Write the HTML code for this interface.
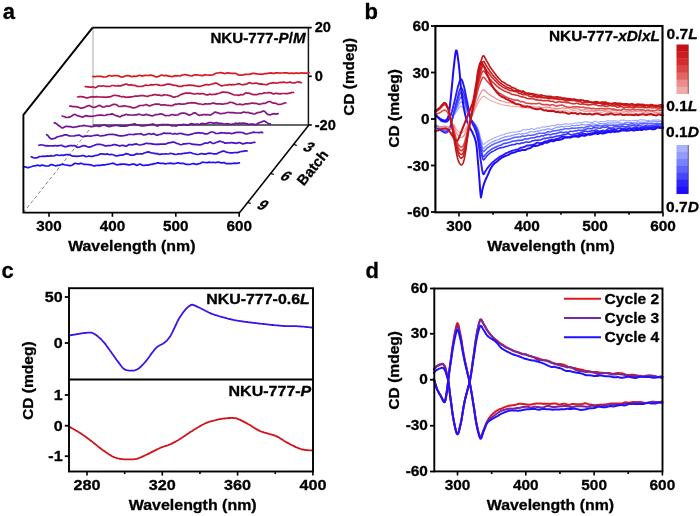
<!DOCTYPE html>
<html><head><meta charset="utf-8"><title>Figure</title>
<style>
html,body{margin:0;padding:0;background:#fff;}
body{width:700px;height:516px;overflow:hidden;}
svg{display:block;will-change:transform;}
svg text{font-family:'Liberation Sans',sans-serif;font-weight:bold;fill:#000;stroke:#000;stroke-width:0.3px;}
</style></head>
<body>
<svg width="700" height="516" viewBox="0 0 700 516">
<rect x="0" y="0" width="700" height="516" fill="#fff"/>
<text transform="translate(2.7,18.8) scale(0.97,1)" font-size="22.7" text-anchor="start" >a</text>
<line x1="93" y1="27.6" x2="93" y2="125" stroke="#c2c2c2" stroke-width="1.4" />
<line x1="93" y1="125" x2="308.7" y2="125" stroke="#333" stroke-width="1.4" />
<line x1="308.4" y1="27" x2="308.4" y2="125" stroke="#161616" stroke-width="1.5" />
<line x1="23.4" y1="212.6" x2="93" y2="125" stroke="#777" stroke-width="0.9" stroke-dasharray="3.5,2.5"/>
<path d="M93.0,76.4 L94.0,76.7 L95.0,76.7 L96.0,76.5 L97.0,76.3 L98.0,76.4 L99.0,76.4 L100.0,76.3 L101.0,76.3 L102.0,76.6 L103.0,76.8 L104.0,77.0 L105.0,77.0 L106.0,76.9 L107.0,76.5 L108.0,75.9 L109.0,75.5 L110.0,75.6 L111.0,75.9 L112.0,76.1 L113.0,75.8 L114.0,75.5 L115.0,75.6 L116.0,75.7 L117.0,75.6 L118.0,75.7 L119.0,76.1 L120.0,76.5 L121.0,76.9 L122.0,77.1 L123.0,77.0 L124.0,76.5 L125.0,76.0 L126.0,75.8 L127.0,75.7 L128.0,75.7 L129.0,75.7 L130.0,76.1 L131.0,76.6 L132.0,76.6 L133.0,76.3 L134.0,76.1 L135.0,76.3 L136.0,76.3 L137.0,76.1 L138.0,75.7 L139.0,75.4 L140.0,75.4 L141.0,75.8 L142.0,75.9 L143.0,75.9 L144.0,75.7 L145.0,75.4 L146.0,75.4 L147.0,75.5 L148.0,75.5 L149.0,75.3 L150.0,75.2 L151.0,75.2 L152.0,75.4 L153.0,75.6 L154.0,75.9 L155.0,76.5 L156.0,76.9 L157.0,76.8 L158.0,76.7 L159.0,76.3 L160.0,75.7 L161.0,75.2 L162.0,75.1 L163.0,75.4 L164.0,75.6 L165.0,75.6 L166.0,75.4 L167.0,75.6 L168.0,76.1 L169.0,76.1 L170.0,76.2 L171.0,76.6 L172.0,76.7 L173.0,76.4 L174.0,75.9 L175.0,75.7 L176.0,75.8 L177.0,75.7 L178.0,75.8 L179.0,76.0 L180.0,76.0 L181.0,75.6 L182.0,75.2 L183.0,75.0 L184.0,74.7 L185.0,74.6 L186.0,74.8 L187.0,75.0 L188.0,75.2 L189.0,75.4 L190.0,75.7 L191.0,76.0 L192.0,76.0 L193.0,75.5 L194.0,75.0 L195.0,74.9 L196.0,74.8 L197.0,74.8 L198.0,75.0 L199.0,75.2 L200.0,75.3 L201.0,75.4 L202.0,75.7 L203.0,75.6 L204.0,75.0 L205.0,74.7 L206.0,74.9 L207.0,75.0 L208.0,75.0 L209.0,75.1 L210.0,75.2 L211.0,75.1 L212.0,75.0 L213.0,74.8 L214.0,74.2 L215.0,73.7 L216.0,73.3 L217.0,73.0 L218.0,73.0 L219.0,72.9 L220.0,72.6 L221.0,72.6 L222.0,72.8 L223.0,73.1 L224.0,73.4 L225.0,73.6 L226.0,73.2 L227.0,72.8 L228.0,72.8 L229.0,73.1 L230.0,73.2 L231.0,73.3 L232.0,73.3 L233.0,73.3 L234.0,73.4 L235.0,73.4 L236.0,73.5 L237.0,74.1 L238.0,74.7 L239.0,75.1 L240.0,75.2 L241.0,75.1 L242.0,75.1 L243.0,75.0 L244.0,74.6 L245.0,74.4 L246.0,74.3 L247.0,74.4 L248.0,74.4 L249.0,74.3 L250.0,74.2 L251.0,73.9 L252.0,73.6 L253.0,73.4 L254.0,73.4 L255.0,73.6 L256.0,73.7 L257.0,73.8 L258.0,74.0 L259.0,74.1 L260.0,74.0 L261.0,74.1 L262.0,74.3 L263.0,74.2 L264.0,73.8 L265.0,73.5 L266.0,73.6 L267.0,73.6 L268.0,73.3 L269.0,73.1 L270.0,73.1 L271.0,72.9 L272.0,73.1 L273.0,73.3 L274.0,73.3 L275.0,73.1 L276.0,72.9 L277.0,72.8 L278.0,72.8 L279.0,73.0 L280.0,73.1 L281.0,73.0 L282.0,73.0 L283.0,73.0 L284.0,72.9 L285.0,72.8 L286.0,72.8 L287.0,72.9 L288.0,73.2 L289.0,73.4 L290.0,73.3 L291.0,73.1 L292.0,73.1 L293.0,73.3 L294.0,73.4 L295.0,73.1 L296.0,73.0 L297.0,73.1 L298.0,73.2 L299.0,73.3 L300.0,73.1 L301.0,72.8 L302.0,72.9 L303.0,73.2 L304.0,73.2 L305.0,73.1 L306.0,73.0 L307.0,73.2 L308.0,73.0 L309.0,72.5" fill="none" stroke="rgb(214,26,32)" stroke-width="1.7" stroke-linejoin="round" stroke-linecap="round"/>
<path d="M85.3,86.6 L86.3,86.7 L87.3,86.8 L88.3,86.9 L89.3,87.1 L90.3,87.1 L91.3,87.1 L92.3,86.9 L93.3,87.0 L94.3,87.4 L95.3,87.6 L96.3,87.2 L97.3,86.7 L98.3,86.1 L99.3,85.8 L100.3,86.0 L101.3,86.2 L102.3,86.0 L103.3,85.9 L104.3,86.0 L105.3,86.3 L106.3,86.4 L107.3,86.3 L108.3,86.3 L109.3,86.5 L110.3,86.2 L111.3,85.8 L112.3,85.5 L113.3,85.5 L114.3,85.7 L115.3,85.8 L116.3,86.0 L117.3,85.9 L118.3,85.7 L119.3,85.8 L120.3,85.9 L121.3,85.8 L122.3,85.3 L123.3,84.8 L124.3,84.6 L125.3,84.2 L126.3,84.0 L127.3,84.4 L128.3,84.9 L129.3,85.1 L130.3,84.8 L131.3,84.7 L132.3,85.2 L133.3,85.3 L134.3,85.3 L135.3,85.4 L136.3,85.9 L137.3,86.4 L138.3,86.5 L139.3,86.4 L140.3,86.5 L141.3,86.5 L142.3,86.2 L143.3,85.9 L144.3,85.6 L145.3,85.2 L146.3,85.1 L147.3,85.3 L148.3,85.5 L149.3,85.2 L150.3,84.8 L151.3,84.7 L152.3,84.8 L153.3,84.8 L154.3,84.7 L155.3,84.5 L156.3,84.5 L157.3,84.7 L158.3,84.9 L159.3,85.1 L160.3,85.4 L161.3,85.5 L162.3,85.4 L163.3,85.2 L164.3,85.1 L165.3,84.7 L166.3,84.3 L167.3,84.1 L168.3,84.1 L169.3,84.2 L170.3,84.3 L171.3,84.6 L172.3,84.9 L173.3,85.2 L174.3,85.3 L175.3,85.3 L176.3,85.5 L177.3,85.9 L178.3,86.3 L179.3,86.4 L180.3,86.4 L181.3,86.4 L182.3,86.1 L183.3,85.7 L184.3,85.5 L185.3,85.5 L186.3,85.6 L187.3,85.4 L188.3,85.2 L189.3,85.1 L190.3,85.2 L191.3,85.3 L192.3,85.3 L193.3,85.3 L194.3,85.6 L195.3,85.9 L196.3,86.0 L197.3,86.1 L198.3,86.3 L199.3,86.4 L200.3,86.3 L201.3,86.0 L202.3,85.7 L203.3,85.4 L204.3,85.1 L205.3,84.7 L206.3,84.5 L207.3,84.7 L208.3,84.9 L209.3,84.8 L210.3,84.5 L211.3,84.2 L212.3,84.0 L213.3,83.8 L214.3,83.4 L215.3,83.1 L216.3,83.1 L217.3,83.6 L218.3,84.2 L219.3,84.6 L220.3,85.3 L221.3,85.8 L222.3,85.8 L223.3,85.5 L224.3,85.3 L225.3,85.0 L226.3,85.0 L227.3,85.1 L228.3,84.8 L229.3,84.5 L230.3,84.6 L231.3,84.9 L232.3,84.7 L233.3,84.7 L234.3,84.8 L235.3,84.5 L236.3,84.3 L237.3,84.0 L238.3,83.7 L239.3,83.9 L240.3,84.2 L241.3,84.5 L242.3,84.8 L243.3,84.7 L244.3,84.4 L245.3,84.3 L246.3,84.1 L247.3,83.7 L248.3,83.1 L249.3,82.7 L250.3,82.8 L251.3,83.3 L252.3,83.5 L253.3,83.5 L254.3,83.3 L255.3,83.2 L256.3,83.2 L257.3,83.3 L258.3,83.7 L259.3,84.1 L260.3,84.1 L261.3,83.9 L262.3,84.1 L263.3,84.4 L264.3,84.5 L265.3,84.6 L266.3,84.7 L267.3,84.6 L268.3,84.0 L269.3,83.5 L270.3,83.2 L271.3,83.1 L272.3,82.9 L273.3,82.6 L274.3,82.8 L275.3,83.0 L276.3,83.1 L277.3,83.0 L278.3,82.9 L279.3,82.5 L280.3,82.4 L281.3,82.6 L282.3,82.4 L283.3,82.2 L284.3,82.2 L285.3,82.5 L286.3,82.7 L287.3,82.7 L288.3,82.5 L289.3,82.2 L290.3,82.1 L291.3,82.5 L292.3,83.0 L293.3,83.0 L294.3,82.8 L295.3,82.6 L296.3,82.3 L297.3,82.0 L298.3,81.9 L299.3,82.1 L300.3,82.4 L301.3,82.7" fill="none" stroke="rgb(194,25,57)" stroke-width="1.7" stroke-linejoin="round" stroke-linecap="round"/>
<path d="M77.5,97.0 L78.5,96.9 L79.5,96.7 L80.5,96.6 L81.5,96.7 L82.5,96.9 L83.5,96.9 L84.5,97.3 L85.5,97.7 L86.5,97.9 L87.5,97.8 L88.5,97.6 L89.5,97.2 L90.5,97.1 L91.5,96.9 L92.5,96.7 L93.5,96.9 L94.5,97.1 L95.5,96.9 L96.5,96.7 L97.5,96.9 L98.5,97.0 L99.5,96.9 L100.5,97.0 L101.5,97.0 L102.5,97.1 L103.5,97.2 L104.5,97.2 L105.5,97.3 L106.5,97.2 L107.5,97.1 L108.5,96.9 L109.5,96.9 L110.5,96.8 L111.5,96.4 L112.5,95.8 L113.5,95.5 L114.5,95.4 L115.5,95.4 L116.5,95.5 L117.5,95.7 L118.5,95.8 L119.5,96.1 L120.5,96.5 L121.5,96.8 L122.5,96.7 L123.5,96.7 L124.5,96.9 L125.5,97.2 L126.5,97.3 L127.5,97.2 L128.5,97.2 L129.5,97.1 L130.5,96.9 L131.5,96.9 L132.5,96.8 L133.5,96.5 L134.5,96.2 L135.5,96.0 L136.5,96.1 L137.5,96.1 L138.5,96.0 L139.5,95.8 L140.5,95.7 L141.5,95.7 L142.5,95.7 L143.5,95.7 L144.5,95.9 L145.5,96.0 L146.5,96.3 L147.5,96.4 L148.5,96.1 L149.5,95.6 L150.5,95.5 L151.5,95.4 L152.5,95.1 L153.5,94.9 L154.5,94.7 L155.5,94.6 L156.5,94.8 L157.5,95.2 L158.5,95.2 L159.5,95.1 L160.5,95.4 L161.5,95.6 L162.5,95.4 L163.5,94.9 L164.5,94.8 L165.5,95.0 L166.5,95.0 L167.5,95.1 L168.5,95.4 L169.5,95.6 L170.5,95.8 L171.5,96.2 L172.5,96.9 L173.5,97.2 L174.5,97.1 L175.5,96.8 L176.5,96.5 L177.5,96.4 L178.5,95.9 L179.5,95.2 L180.5,94.8 L181.5,94.4 L182.5,93.9 L183.5,93.6 L184.5,93.4 L185.5,93.1 L186.5,93.1 L187.5,93.2 L188.5,93.2 L189.5,93.1 L190.5,93.2 L191.5,93.4 L192.5,93.7 L193.5,93.9 L194.5,94.0 L195.5,94.0 L196.5,93.7 L197.5,93.6 L198.5,93.7 L199.5,93.8 L200.5,93.8 L201.5,93.6 L202.5,93.5 L203.5,93.7 L204.5,94.0 L205.5,94.6 L206.5,94.8 L207.5,94.9 L208.5,94.7 L209.5,94.2 L210.5,94.2 L211.5,94.6 L212.5,94.5 L213.5,94.4 L214.5,94.4 L215.5,94.3 L216.5,93.9 L217.5,93.7 L218.5,93.5 L219.5,93.2 L220.5,92.8 L221.5,92.4 L222.5,92.1 L223.5,92.1 L224.5,92.2 L225.5,92.3 L226.5,92.3 L227.5,92.4 L228.5,92.7 L229.5,93.1 L230.5,93.4 L231.5,93.7 L232.5,94.2 L233.5,94.7 L234.5,95.0 L235.5,95.0 L236.5,95.0 L237.5,95.2 L238.5,95.4 L239.5,95.1 L240.5,94.7 L241.5,94.7 L242.5,94.8 L243.5,94.5 L244.5,93.7 L245.5,93.0 L246.5,92.9 L247.5,93.1 L248.5,93.2 L249.5,93.3 L250.5,93.6 L251.5,94.0 L252.5,94.5 L253.5,94.7 L254.5,94.7 L255.5,94.6 L256.5,94.6 L257.5,94.4 L258.5,94.0 L259.5,93.7 L260.5,93.7 L261.5,93.8 L262.5,93.5 L263.5,93.1 L264.5,92.9 L265.5,93.0 L266.5,93.0 L267.5,92.9 L268.5,92.6 L269.5,92.6 L270.5,92.8 L271.5,93.1 L272.5,93.6 L273.5,93.9 L274.5,93.7 L275.5,93.4 L276.5,93.4 L277.5,93.6 L278.5,93.7 L279.5,93.9 L280.5,93.9 L281.5,93.7 L282.5,93.5 L283.5,93.5 L284.5,93.5 L285.5,93.6 L286.5,93.7 L287.5,93.6 L288.5,93.4 L289.5,93.2 L290.5,92.9 L291.5,92.7 L292.5,92.5 L293.5,92.4" fill="none" stroke="rgb(173,23,82)" stroke-width="1.7" stroke-linejoin="round" stroke-linecap="round"/>
<path d="M69.8,106.2 L70.8,106.1 L71.8,106.4 L72.8,106.7 L73.8,106.6 L74.8,106.6 L75.8,106.7 L76.8,106.8 L77.8,107.2 L78.8,107.4 L79.8,107.7 L80.8,108.1 L81.8,108.2 L82.8,107.9 L83.8,107.7 L84.8,107.2 L85.8,106.7 L86.8,106.3 L87.8,105.9 L88.8,105.6 L89.8,105.7 L90.8,106.2 L91.8,106.7 L92.8,107.1 L93.8,107.4 L94.8,107.2 L95.8,106.9 L96.8,106.5 L97.8,106.1 L98.8,105.6 L99.8,105.4 L100.8,105.9 L101.8,106.6 L102.8,107.0 L103.8,107.1 L104.8,106.8 L105.8,106.3 L106.8,106.1 L107.8,106.1 L108.8,106.2 L109.8,106.0 L110.8,105.5 L111.8,105.1 L112.8,104.6 L113.8,104.4 L114.8,104.4 L115.8,104.5 L116.8,104.9 L117.8,105.7 L118.8,106.4 L119.8,106.5 L120.8,106.4 L121.8,106.3 L122.8,106.1 L123.8,105.9 L124.8,105.8 L125.8,106.0 L126.8,106.3 L127.8,106.6 L128.8,106.7 L129.8,106.8 L130.8,107.1 L131.8,107.6 L132.8,107.9 L133.8,107.9 L134.8,107.7 L135.8,107.4 L136.8,107.0 L137.8,106.5 L138.8,105.9 L139.8,105.6 L140.8,105.5 L141.8,105.5 L142.8,105.4 L143.8,105.3 L144.8,105.0 L145.8,104.6 L146.8,104.7 L147.8,105.2 L148.8,105.7 L149.8,105.8 L150.8,105.6 L151.8,105.1 L152.8,104.8 L153.8,104.5 L154.8,104.2 L155.8,104.1 L156.8,104.1 L157.8,104.0 L158.8,104.1 L159.8,104.6 L160.8,105.1 L161.8,105.1 L162.8,104.8 L163.8,104.8 L164.8,104.8 L165.8,105.0 L166.8,105.3 L167.8,105.4 L168.8,105.4 L169.8,105.5 L170.8,105.7 L171.8,105.7 L172.8,105.4 L173.8,104.8 L174.8,104.3 L175.8,104.2 L176.8,104.3 L177.8,104.0 L178.8,103.7 L179.8,103.8 L180.8,104.1 L181.8,104.1 L182.8,104.1 L183.8,104.2 L184.8,104.0 L185.8,103.7 L186.8,103.4 L187.8,103.1 L188.8,103.1 L189.8,103.0 L190.8,102.8 L191.8,102.7 L192.8,102.9 L193.8,102.8 L194.8,102.9 L195.8,103.1 L196.8,103.4 L197.8,103.7 L198.8,103.9 L199.8,104.0 L200.8,104.0 L201.8,104.3 L202.8,104.5 L203.8,104.3 L204.8,103.9 L205.8,103.8 L206.8,103.9 L207.8,104.0 L208.8,103.9 L209.8,103.9 L210.8,103.7 L211.8,103.4 L212.8,103.1 L213.8,103.1 L214.8,103.4 L215.8,103.8 L216.8,103.9 L217.8,103.9 L218.8,103.9 L219.8,103.9 L220.8,103.9 L221.8,104.2 L222.8,104.2 L223.8,104.0 L224.8,103.7 L225.8,103.6 L226.8,103.5 L227.8,103.3 L228.8,102.8 L229.8,102.4 L230.8,102.4 L231.8,102.5 L232.8,102.7 L233.8,103.1 L234.8,103.6 L235.8,104.1 L236.8,104.4 L237.8,104.5 L238.8,104.4 L239.8,104.2 L240.8,104.4 L241.8,104.6 L242.8,104.7 L243.8,104.5 L244.8,104.0 L245.8,103.8 L246.8,103.8 L247.8,103.8 L248.8,103.7 L249.8,103.6 L250.8,103.3 L251.8,103.1 L252.8,103.2 L253.8,103.3 L254.8,103.4 L255.8,103.3 L256.8,103.5 L257.8,103.9 L258.8,104.2 L259.8,104.3 L260.8,104.0 L261.8,103.7 L262.8,103.4 L263.8,103.3 L264.8,103.3 L265.8,103.1 L266.8,102.6 L267.8,102.0 L268.8,101.5 L269.8,101.5 L270.8,101.9 L271.8,102.4 L272.8,103.0 L273.8,103.2 L274.8,103.2 L275.8,103.4 L276.8,103.8 L277.8,104.3 L278.8,104.5 L279.8,104.4 L280.8,104.3 L281.8,104.0 L282.8,103.6 L283.8,103.2 L284.8,103.0 L285.8,102.8" fill="none" stroke="rgb(153,22,106)" stroke-width="1.7" stroke-linejoin="round" stroke-linecap="round"/>
<path d="M62.1,116.0 L63.1,116.3 L64.1,116.5 L65.1,116.9 L66.1,117.4 L67.1,117.5 L68.1,117.4 L69.1,117.1 L70.1,116.9 L71.1,116.4 L72.1,115.7 L73.1,115.0 L74.1,114.5 L75.1,114.4 L76.1,114.9 L77.1,115.4 L78.1,115.9 L79.1,116.2 L80.1,116.4 L81.1,116.8 L82.1,117.1 L83.1,116.9 L84.1,116.4 L85.1,115.9 L86.1,115.6 L87.1,115.8 L88.1,116.1 L89.1,116.3 L90.1,116.2 L91.1,116.3 L92.1,116.3 L93.1,116.2 L94.1,116.0 L95.1,115.8 L96.1,115.5 L97.1,115.4 L98.1,115.4 L99.1,115.2 L100.1,115.2 L101.1,115.2 L102.1,115.1 L103.1,115.4 L104.1,115.5 L105.1,115.3 L106.1,115.0 L107.1,114.6 L108.1,114.6 L109.1,114.5 L110.1,114.4 L111.1,114.1 L112.1,113.9 L113.1,114.3 L114.1,114.8 L115.1,115.2 L116.1,115.6 L117.1,115.9 L118.1,116.3 L119.1,116.7 L120.1,116.8 L121.1,116.2 L122.1,115.6 L123.1,115.4 L124.1,115.3 L125.1,114.7 L126.1,114.3 L127.1,114.7 L128.1,114.9 L129.1,114.9 L130.1,115.0 L131.1,115.0 L132.1,115.0 L133.1,115.1 L134.1,115.0 L135.1,114.9 L136.1,114.8 L137.1,114.6 L138.1,114.4 L139.1,114.2 L140.1,114.5 L141.1,114.8 L142.1,115.0 L143.1,115.2 L144.1,115.1 L145.1,114.7 L146.1,114.4 L147.1,114.6 L148.1,114.9 L149.1,115.1 L150.1,115.4 L151.1,115.7 L152.1,115.8 L153.1,115.6 L154.1,115.2 L155.1,114.7 L156.1,114.5 L157.1,114.6 L158.1,114.5 L159.1,114.2 L160.1,113.9 L161.1,113.9 L162.1,114.1 L163.1,114.4 L164.1,114.9 L165.1,115.6 L166.1,115.6 L167.1,115.5 L168.1,115.5 L169.1,115.6 L170.1,115.3 L171.1,114.8 L172.1,114.5 L173.1,114.6 L174.1,115.0 L175.1,115.2 L176.1,115.1 L177.1,115.0 L178.1,114.8 L179.1,114.1 L180.1,113.6 L181.1,113.4 L182.1,113.2 L183.1,113.1 L184.1,113.2 L185.1,113.4 L186.1,113.6 L187.1,114.0 L188.1,114.7 L189.1,115.1 L190.1,114.9 L191.1,114.4 L192.1,113.9 L193.1,113.3 L194.1,112.9 L195.1,112.8 L196.1,113.4 L197.1,114.2 L198.1,114.9 L199.1,115.3 L200.1,115.3 L201.1,115.0 L202.1,114.8 L203.1,114.6 L204.1,114.6 L205.1,114.7 L206.1,114.9 L207.1,114.7 L208.1,114.7 L209.1,115.0 L210.1,115.1 L211.1,114.7 L212.1,114.1 L213.1,113.4 L214.1,112.6 L215.1,112.1 L216.1,112.3 L217.1,112.6 L218.1,112.9 L219.1,113.2 L220.1,113.6 L221.1,113.7 L222.1,113.5 L223.1,113.4 L224.1,113.3 L225.1,113.1 L226.1,112.8 L227.1,112.5 L228.1,112.4 L229.1,112.5 L230.1,112.7 L231.1,112.7 L232.1,112.7 L233.1,112.7 L234.1,112.8 L235.1,112.9 L236.1,113.0 L237.1,113.1 L238.1,113.0 L239.1,113.0 L240.1,113.2 L241.1,113.0 L242.1,112.6 L243.1,112.2 L244.1,112.0 L245.1,112.3 L246.1,112.6 L247.1,112.5 L248.1,112.4 L249.1,112.7 L250.1,113.2 L251.1,113.3 L252.1,113.4 L253.1,113.8 L254.1,114.0 L255.1,113.8 L256.1,113.3 L257.1,112.9 L258.1,112.5 L259.1,112.4 L260.1,112.4 L261.1,112.0 L262.1,111.4 L263.1,111.1 L264.1,111.2 L265.1,111.8 L266.1,112.9 L267.1,114.1 L268.1,114.6 L269.1,114.7 L270.1,114.8 L271.1,114.6 L272.1,114.1 L273.1,113.8 L274.1,113.7 L275.1,113.9 L276.1,114.1 L277.1,113.8 L278.1,113.6" fill="none" stroke="rgb(132,21,131)" stroke-width="1.7" stroke-linejoin="round" stroke-linecap="round"/>
<path d="M54.3,122.9 L55.3,123.1 L56.3,123.6 L57.3,124.4 L58.3,125.3 L59.3,126.0 L60.3,126.6 L61.3,127.4 L62.3,128.0 L63.3,127.7 L64.3,127.0 L65.3,126.6 L66.3,126.4 L67.3,126.3 L68.3,126.6 L69.3,126.7 L70.3,126.7 L71.3,126.8 L72.3,127.1 L73.3,127.3 L74.3,127.2 L75.3,127.0 L76.3,126.8 L77.3,126.6 L78.3,126.3 L79.3,126.1 L80.3,126.0 L81.3,126.0 L82.3,125.8 L83.3,125.6 L84.3,125.4 L85.3,125.7 L86.3,126.0 L87.3,126.0 L88.3,126.2 L89.3,126.3 L90.3,126.4 L91.3,126.5 L92.3,126.6 L93.3,126.5 L94.3,126.2 L95.3,125.9 L96.3,125.8 L97.3,125.9 L98.3,126.3 L99.3,126.4 L100.3,126.1 L101.3,125.7 L102.3,125.3 L103.3,125.1 L104.3,125.1 L105.3,125.3 L106.3,125.7 L107.3,126.1 L108.3,126.5 L109.3,126.6 L110.3,126.5 L111.3,126.2 L112.3,125.8 L113.3,125.7 L114.3,125.6 L115.3,125.4 L116.3,125.4 L117.3,125.5 L118.3,125.7 L119.3,125.9 L120.3,126.1 L121.3,126.2 L122.3,126.1 L123.3,126.1 L124.3,126.2 L125.3,126.1 L126.3,125.9 L127.3,125.8 L128.3,125.6 L129.3,125.1 L130.3,124.7 L131.3,124.6 L132.3,124.5 L133.3,124.1 L134.3,123.8 L135.3,124.1 L136.3,124.7 L137.3,125.1 L138.3,125.1 L139.3,125.2 L140.3,125.6 L141.3,125.9 L142.3,126.0 L143.3,125.9 L144.3,125.7 L145.3,125.6 L146.3,125.5 L147.3,125.3 L148.3,125.1 L149.3,124.7 L150.3,124.5 L151.3,124.4 L152.3,124.2 L153.3,124.1 L154.3,124.5 L155.3,125.2 L156.3,125.8 L157.3,126.1 L158.3,125.8 L159.3,125.3 L160.3,124.8 L161.3,124.6 L162.3,124.6 L163.3,124.6 L164.3,124.5 L165.3,124.5 L166.3,124.5 L167.3,124.6 L168.3,124.6 L169.3,124.8 L170.3,125.2 L171.3,125.7 L172.3,126.0 L173.3,125.8 L174.3,125.5 L175.3,125.9 L176.3,126.1 L177.3,125.6 L178.3,125.0 L179.3,124.9 L180.3,124.9 L181.3,124.8 L182.3,124.6 L183.3,124.4 L184.3,124.5 L185.3,124.6 L186.3,124.9 L187.3,125.2 L188.3,125.0 L189.3,124.4 L190.3,123.9 L191.3,123.7 L192.3,123.9 L193.3,124.1 L194.3,124.3 L195.3,124.3 L196.3,124.1 L197.3,124.1 L198.3,124.3 L199.3,124.3 L200.3,124.1 L201.3,123.6 L202.3,123.4 L203.3,123.7 L204.3,123.9 L205.3,123.9 L206.3,123.6 L207.3,123.3 L208.3,122.9 L209.3,122.7 L210.3,122.6 L211.3,122.6 L212.3,122.8 L213.3,123.2 L214.3,123.3 L215.3,122.8 L216.3,122.6 L217.3,122.9 L218.3,123.2 L219.3,123.3 L220.3,123.3 L221.3,123.3 L222.3,123.5 L223.3,123.8 L224.3,124.0 L225.3,124.1 L226.3,123.9 L227.3,123.7 L228.3,123.9 L229.3,124.2 L230.3,124.4 L231.3,124.3 L232.3,124.1 L233.3,124.1 L234.3,123.7 L235.3,123.2 L236.3,123.3 L237.3,123.5 L238.3,123.3 L239.3,123.2 L240.3,123.3 L241.3,123.3 L242.3,123.2 L243.3,123.2 L244.3,123.3 L245.3,123.4 L246.3,123.6 L247.3,123.9 L248.3,124.3 L249.3,124.3 L250.3,124.2 L251.3,124.2 L252.3,124.2 L253.3,124.1 L254.3,124.4 L255.3,124.6 L256.4,124.4 L257.4,123.7 L258.4,123.1 L259.4,122.7 L260.3,122.4 L261.3,122.0 L262.4,121.6 L263.4,121.1 L264.4,121.1 L265.3,121.5 L266.3,122.2 L267.4,122.9 L268.4,123.4 L269.4,123.9 L270.4,123.9" fill="none" stroke="rgb(112,19,156)" stroke-width="1.7" stroke-linejoin="round" stroke-linecap="round"/>
<path d="M46.6,134.7 L47.6,135.2 L48.6,136.5 L49.6,137.9 L50.6,138.7 L51.6,138.9 L52.6,138.8 L53.6,138.6 L54.6,138.3 L55.6,137.9 L56.6,137.3 L57.6,136.8 L58.6,136.5 L59.6,136.3 L60.6,136.0 L61.6,135.8 L62.6,135.7 L63.6,135.2 L64.6,134.8 L65.6,134.8 L66.6,134.9 L67.6,135.3 L68.6,135.6 L69.6,135.9 L70.6,136.0 L71.6,136.0 L72.6,136.0 L73.6,136.0 L74.6,135.9 L75.6,135.5 L76.6,135.4 L77.6,135.4 L78.6,135.1 L79.6,135.2 L80.6,135.8 L81.6,136.3 L82.6,136.6 L83.6,136.6 L84.6,136.4 L85.6,136.2 L86.6,136.1 L87.6,135.9 L88.6,136.0 L89.6,136.1 L90.6,136.1 L91.6,136.0 L92.6,135.8 L93.6,135.5 L94.6,135.3 L95.6,135.3 L96.6,135.2 L97.6,135.1 L98.6,135.3 L99.6,135.7 L100.6,136.0 L101.6,135.8 L102.6,135.7 L103.6,135.7 L104.6,135.5 L105.6,135.1 L106.6,134.8 L107.6,134.7 L108.6,134.5 L109.6,134.4 L110.6,134.5 L111.6,134.4 L112.6,134.3 L113.6,134.5 L114.6,134.7 L115.6,134.9 L116.6,135.1 L117.6,135.4 L118.6,135.7 L119.6,135.8 L120.6,135.8 L121.6,135.9 L122.6,135.8 L123.6,135.7 L124.6,135.5 L125.6,135.3 L126.6,135.2 L127.6,134.8 L128.6,134.5 L129.6,134.4 L130.6,134.5 L131.6,134.5 L132.6,134.5 L133.6,134.6 L134.6,134.4 L135.6,134.2 L136.6,134.1 L137.6,134.0 L138.6,134.0 L139.6,133.9 L140.6,133.6 L141.6,134.0 L142.6,134.6 L143.6,135.0 L144.6,134.9 L145.6,134.7 L146.6,134.4 L147.6,134.0 L148.6,133.7 L149.6,133.7 L150.6,134.1 L151.6,134.3 L152.6,133.9 L153.6,133.7 L154.6,134.1 L155.6,134.8 L156.6,135.1 L157.6,135.1 L158.6,134.8 L159.6,134.5 L160.6,134.3 L161.6,134.1 L162.6,133.5 L163.6,133.1 L164.6,133.1 L165.6,133.3 L166.6,133.4 L167.6,133.4 L168.6,133.4 L169.6,133.4 L170.6,133.3 L171.6,133.7 L172.6,134.0 L173.6,133.9 L174.6,133.6 L175.6,133.7 L176.6,134.0 L177.6,133.9 L178.6,133.7 L179.6,133.5 L180.6,133.4 L181.6,133.6 L182.6,133.9 L183.6,134.1 L184.6,134.4 L185.6,134.6 L186.6,134.7 L187.6,134.8 L188.6,134.9 L189.6,134.7 L190.6,134.4 L191.6,134.1 L192.6,133.9 L193.6,133.5 L194.6,133.2 L195.6,133.2 L196.6,133.1 L197.6,132.8 L198.6,132.7 L199.6,132.9 L200.6,133.1 L201.6,133.0 L202.6,132.9 L203.6,133.4 L204.6,133.8 L205.6,133.9 L206.6,133.8 L207.6,133.6 L208.6,133.2 L209.6,132.7 L210.6,132.2 L211.6,132.0 L212.6,132.0 L213.6,132.3 L214.6,132.8 L215.6,133.3 L216.6,133.5 L217.6,133.5 L218.6,133.4 L219.6,133.1 L220.6,132.8 L221.6,132.6 L222.6,132.8 L223.6,133.0 L224.6,132.9 L225.6,133.1 L226.6,133.3 L227.6,133.2 L228.6,133.1 L229.6,133.1 L230.6,133.3 L231.6,133.6 L232.6,133.5 L233.6,133.1 L234.6,132.9 L235.6,132.7 L236.6,132.4 L237.6,132.3 L238.6,132.4 L239.6,132.3 L240.6,132.4 L241.6,132.5 L242.6,132.6 L243.6,132.9 L244.6,133.5 L245.6,134.0 L246.6,134.0 L247.6,133.8 L248.6,133.5 L249.6,133.2 L250.6,133.0 L251.6,132.8 L252.6,132.4 L253.6,132.2 L254.6,132.3 L255.6,132.5 L256.6,132.5 L257.6,132.5 L258.6,132.7 L259.6,132.6 L260.6,132.3 L261.6,132.2 L262.6,132.6" fill="none" stroke="rgb(91,18,181)" stroke-width="1.7" stroke-linejoin="round" stroke-linecap="round"/>
<path d="M38.9,145.3 L39.9,145.0 L40.9,144.9 L41.9,145.0 L42.9,145.0 L43.9,145.3 L44.9,145.7 L45.9,145.8 L46.9,145.7 L47.9,145.8 L48.9,145.8 L49.9,145.9 L50.9,146.0 L51.9,145.9 L52.9,145.9 L53.9,145.8 L54.9,145.7 L55.9,145.7 L56.9,145.9 L57.9,145.9 L58.9,145.7 L59.9,145.5 L60.9,145.4 L61.9,145.4 L62.9,145.9 L63.9,146.4 L64.9,146.8 L65.9,146.7 L66.9,146.4 L67.9,146.1 L68.9,145.9 L69.9,145.7 L70.9,145.7 L71.9,145.7 L72.9,145.8 L73.9,145.5 L74.9,145.7 L75.9,146.5 L76.9,147.2 L77.9,147.4 L78.9,147.2 L79.9,146.9 L80.9,146.5 L81.9,146.1 L82.9,145.7 L83.9,145.7 L84.9,145.9 L85.9,146.1 L86.9,146.5 L87.9,147.0 L88.9,147.1 L89.9,146.9 L90.9,146.8 L91.9,146.3 L92.9,145.8 L93.9,145.5 L94.9,145.1 L95.9,144.7 L96.9,144.4 L97.9,144.3 L98.9,144.3 L99.9,144.3 L100.9,144.5 L101.9,144.7 L102.9,145.0 L103.9,145.4 L104.9,145.8 L105.9,145.8 L106.9,145.8 L107.9,145.7 L108.9,145.6 L109.9,145.6 L110.9,145.5 L111.9,145.2 L112.9,144.9 L113.9,144.7 L114.9,144.6 L115.9,144.8 L116.9,145.1 L117.9,145.3 L118.9,145.8 L119.9,145.9 L120.9,145.7 L121.9,145.4 L122.9,145.4 L123.9,145.6 L124.9,146.0 L125.9,146.1 L126.9,145.9 L127.9,145.2 L128.9,144.6 L129.9,144.5 L130.9,144.7 L131.9,144.8 L132.9,144.6 L133.9,144.4 L134.9,144.2 L135.9,143.9 L136.9,144.1 L137.9,144.5 L138.9,144.8 L139.9,145.0 L140.9,144.8 L141.9,144.5 L142.9,144.4 L143.9,144.1 L144.9,143.7 L145.9,143.3 L146.9,143.4 L147.9,143.5 L148.9,143.7 L149.9,143.7 L150.9,143.7 L151.9,143.9 L152.9,144.1 L153.9,144.2 L154.9,144.3 L155.9,144.4 L156.9,144.3 L157.9,144.2 L158.9,144.3 L159.9,144.2 L160.9,144.1 L161.9,144.1 L162.9,144.2 L163.9,144.2 L164.9,144.1 L165.9,143.9 L166.9,143.5 L167.9,143.1 L168.9,142.8 L169.9,142.7 L170.9,142.6 L171.9,142.2 L172.9,142.0 L173.9,142.1 L174.9,142.5 L175.9,143.0 L176.9,143.4 L177.9,143.7 L178.9,144.0 L179.9,144.5 L180.9,144.8 L181.9,144.5 L182.9,144.1 L183.9,143.9 L184.9,143.9 L185.9,143.8 L186.9,143.6 L187.9,143.5 L188.9,143.5 L189.9,143.5 L190.9,143.7 L191.9,144.2 L192.9,144.4 L193.9,144.3 L194.9,144.4 L195.9,144.6 L196.9,144.7 L197.9,144.7 L198.9,144.8 L199.9,144.9 L200.9,144.7 L201.9,144.4 L202.9,144.0 L203.9,143.5 L204.9,143.1 L205.9,143.0 L206.9,143.1 L207.9,143.0 L208.9,142.4 L209.9,141.9 L210.9,142.2 L211.9,142.9 L212.9,143.5 L213.9,143.4 L214.9,143.0 L215.9,142.5 L216.9,142.2 L217.9,141.9 L218.9,141.4 L219.9,141.2 L220.9,141.5 L221.9,141.8 L222.9,142.0 L223.9,142.6 L224.9,143.2 L225.9,143.2 L226.9,142.9 L227.9,142.9 L228.9,143.0 L229.9,142.8 L230.9,142.6 L231.9,142.7 L232.9,142.9 L233.9,142.9 L234.9,143.1 L235.9,143.4 L236.9,143.2 L237.9,142.9 L238.9,142.7 L239.9,142.7 L240.9,143.1 L241.9,143.6 L242.9,143.9 L243.9,143.6 L244.9,143.3 L245.9,143.1 L246.9,142.9 L247.9,142.8 L248.9,143.0 L249.9,143.1 L250.9,143.1 L251.9,142.9 L252.9,142.5 L253.9,142.3 L254.9,142.4" fill="none" stroke="rgb(71,17,205)" stroke-width="1.7" stroke-linejoin="round" stroke-linecap="round"/>
<path d="M31.2,156.8 L32.2,157.1 L33.2,157.7 L34.2,158.0 L35.2,157.9 L36.2,157.8 L37.2,157.6 L38.2,157.2 L39.2,156.6 L40.2,156.5 L41.2,156.5 L42.2,156.3 L43.2,156.2 L44.2,156.4 L45.2,156.4 L46.2,156.1 L47.2,155.9 L48.2,156.1 L49.2,156.2 L50.2,155.8 L51.2,155.7 L52.2,155.9 L53.2,156.0 L54.2,155.8 L55.2,155.4 L56.2,155.0 L57.2,154.9 L58.2,155.2 L59.2,155.5 L60.2,155.4 L61.2,155.2 L62.2,155.2 L63.2,155.3 L64.2,155.1 L65.2,154.9 L66.2,154.7 L67.2,154.6 L68.2,154.6 L69.2,154.6 L70.2,155.0 L71.2,155.6 L72.2,155.9 L73.2,156.1 L74.2,156.1 L75.2,156.1 L76.2,156.3 L77.2,156.3 L78.2,156.2 L79.2,156.1 L80.2,156.0 L81.2,155.8 L82.2,155.6 L83.2,155.6 L84.2,155.9 L85.2,156.3 L86.2,156.7 L87.2,156.5 L88.2,156.2 L89.2,156.2 L90.2,156.3 L91.2,156.3 L92.2,156.3 L93.2,156.2 L94.2,155.9 L95.2,155.5 L96.2,155.3 L97.2,155.3 L98.2,155.0 L99.2,154.4 L100.2,154.1 L101.2,153.9 L102.2,153.9 L103.2,154.1 L104.2,154.2 L105.2,154.3 L106.2,154.1 L107.2,153.9 L108.2,154.3 L109.2,154.6 L110.2,154.6 L111.2,154.4 L112.2,154.5 L113.2,154.8 L114.2,155.2 L115.2,155.6 L116.2,155.9 L117.2,155.9 L118.2,155.7 L119.2,155.4 L120.2,155.2 L121.2,155.2 L122.2,155.2 L123.2,154.9 L124.2,154.4 L125.2,153.9 L126.2,153.7 L127.2,153.8 L128.2,154.1 L129.2,154.6 L130.2,155.1 L131.2,155.2 L132.2,155.2 L133.2,155.1 L134.2,155.0 L135.2,154.4 L136.2,153.8 L137.2,153.7 L138.2,153.9 L139.2,154.0 L140.2,153.9 L141.2,153.8 L142.2,153.9 L143.2,153.5 L144.2,153.0 L145.2,152.7 L146.2,152.5 L147.2,152.1 L148.2,151.9 L149.2,152.1 L150.2,152.5 L151.2,152.9 L152.2,153.0 L153.2,153.1 L154.2,153.3 L155.2,153.6 L156.2,153.6 L157.2,153.6 L158.2,154.0 L159.2,154.4 L160.2,154.4 L161.2,154.2 L162.2,154.1 L163.2,154.0 L164.2,154.0 L165.2,153.8 L166.2,153.8 L167.2,154.0 L168.2,154.0 L169.2,153.7 L170.2,153.3 L171.2,153.5 L172.2,153.7 L173.2,153.9 L174.2,154.2 L175.2,154.4 L176.2,154.5 L177.2,154.2 L178.2,153.9 L179.2,153.9 L180.2,154.0 L181.2,153.8 L182.2,153.6 L183.2,153.5 L184.2,153.3 L185.2,153.2 L186.2,153.2 L187.2,153.0 L188.2,152.8 L189.2,152.6 L190.2,152.5 L191.2,152.8 L192.2,153.3 L193.2,153.5 L194.2,153.8 L195.2,154.0 L196.2,154.2 L197.2,154.5 L198.2,154.5 L199.2,154.2 L200.2,153.8 L201.2,153.7 L202.2,153.7 L203.2,153.8 L204.2,154.1 L205.2,154.1 L206.2,153.8 L207.2,153.6 L208.2,153.3 L209.2,153.2 L210.2,153.3 L211.2,153.4 L212.2,153.5 L213.2,153.8 L214.2,153.9 L215.2,153.9 L216.2,153.9 L217.2,153.6 L218.2,153.0 L219.2,152.5 L220.2,152.1 L221.2,151.8 L222.2,151.4 L223.2,151.1 L224.2,151.2 L225.2,151.6 L226.2,152.1 L227.2,152.3 L228.2,152.5 L229.2,152.7 L230.2,152.8 L231.2,152.8 L232.2,152.9 L233.2,152.8 L234.2,152.5 L235.2,152.5 L236.2,152.7 L237.2,152.7 L238.2,152.4 L239.2,152.1 L240.2,151.8 L241.2,151.5 L242.2,151.3 L243.2,151.3 L244.2,151.1 L245.2,150.9 L246.2,150.9 L247.2,151.0" fill="none" stroke="rgb(50,15,230)" stroke-width="1.7" stroke-linejoin="round" stroke-linecap="round"/>
<path d="M23.4,166.8 L24.4,166.8 L25.4,166.8 L26.4,167.2 L27.4,167.6 L28.4,167.6 L29.4,167.3 L30.4,167.0 L31.4,166.7 L32.4,166.3 L33.4,166.0 L34.4,165.9 L35.4,165.8 L36.4,165.5 L37.4,165.2 L38.4,165.3 L39.4,165.7 L40.4,165.8 L41.4,165.2 L42.4,165.1 L43.4,165.5 L44.4,165.7 L45.4,165.9 L46.4,166.0 L47.4,166.0 L48.4,166.0 L49.4,165.6 L50.4,164.9 L51.4,164.5 L52.4,164.8 L53.4,165.1 L54.4,165.5 L55.4,165.8 L56.4,165.7 L57.4,165.4 L58.4,165.3 L59.4,165.1 L60.4,164.8 L61.4,164.5 L62.4,164.2 L63.4,164.3 L64.4,164.7 L65.4,165.0 L66.4,165.0 L67.4,165.2 L68.4,165.5 L69.4,165.6 L70.4,165.6 L71.4,165.5 L72.4,164.9 L73.4,164.2 L74.4,163.6 L75.4,163.3 L76.4,163.5 L77.4,163.8 L78.4,163.9 L79.4,163.8 L80.4,163.4 L81.4,163.4 L82.4,163.8 L83.4,164.1 L84.4,164.3 L85.4,164.3 L86.4,164.3 L87.4,164.5 L88.4,164.7 L89.4,164.7 L90.4,164.8 L91.4,165.0 L92.4,165.5 L93.4,165.8 L94.4,165.9 L95.4,165.7 L96.4,165.5 L97.4,165.4 L98.4,165.4 L99.4,165.4 L100.4,165.4 L101.4,165.2 L102.4,164.9 L103.4,164.8 L104.4,164.8 L105.4,164.8 L106.4,164.5 L107.4,164.3 L108.4,164.2 L109.4,164.0 L110.4,163.8 L111.4,163.5 L112.4,163.2 L113.4,163.4 L114.4,163.8 L115.4,164.2 L116.4,164.6 L117.4,164.8 L118.4,164.7 L119.4,164.3 L120.4,164.2 L121.4,164.4 L122.4,164.2 L123.4,164.0 L124.4,164.2 L125.4,164.4 L126.4,164.4 L127.4,164.6 L128.4,164.8 L129.4,164.8 L130.4,164.7 L131.4,164.4 L132.4,164.2 L133.4,164.0 L134.4,164.1 L135.4,164.7 L136.4,165.3 L137.4,165.2 L138.4,164.7 L139.4,164.2 L140.4,164.2 L141.4,164.7 L142.4,165.1 L143.4,165.5 L144.4,165.5 L145.4,165.1 L146.4,165.0 L147.4,165.2 L148.4,165.2 L149.4,164.7 L150.4,164.4 L151.4,164.4 L152.4,164.3 L153.4,163.8 L154.4,163.6 L155.4,163.6 L156.4,163.3 L157.4,162.9 L158.4,162.9 L159.4,163.2 L160.4,163.4 L161.4,163.4 L162.4,163.3 L163.4,163.3 L164.4,163.6 L165.4,163.8 L166.4,163.7 L167.4,163.5 L168.4,163.4 L169.4,163.4 L170.4,163.2 L171.4,163.3 L172.4,163.6 L173.4,163.7 L174.4,163.6 L175.4,163.5 L176.4,163.2 L177.4,162.9 L178.4,162.8 L179.4,163.1 L180.4,163.3 L181.4,163.4 L182.4,163.4 L183.4,163.4 L184.4,163.8 L185.4,164.2 L186.4,164.4 L187.4,164.3 L188.4,164.3 L189.4,164.5 L190.4,164.3 L191.4,164.0 L192.4,163.7 L193.4,163.7 L194.4,163.9 L195.4,164.1 L196.4,164.3 L197.4,164.1 L198.4,163.8 L199.4,163.7 L200.4,163.4 L201.4,162.7 L202.4,162.2 L203.4,162.2 L204.4,162.5 L205.4,162.5 L206.4,162.6 L207.4,162.6 L208.4,162.4 L209.4,162.2 L210.4,162.4 L211.4,162.5 L212.4,162.4 L213.4,162.3 L214.4,162.5 L215.4,162.7 L216.4,162.5 L217.4,162.1 L218.4,162.2 L219.4,162.4 L220.4,162.6 L221.4,162.8 L222.4,162.8 L223.4,162.7 L224.4,162.7 L225.4,163.2 L226.4,163.6 L227.4,163.7 L228.4,163.7 L229.4,163.6 L230.4,163.6 L231.4,163.6 L232.4,163.5 L233.4,163.3 L234.4,163.2 L235.4,163.3 L236.4,163.4 L237.4,163.1 L238.4,163.0 L239.4,162.8" fill="none" stroke="rgb(30,14,255)" stroke-width="1.7" stroke-linejoin="round" stroke-linecap="round"/>
<path d="M92.4,27.6 L309.5,27.6" stroke="#000" stroke-width="1.8" fill="none"/>
<path d="M92.6,27.6 L23.4,114.9 L23.4,212.6 L240,212.6" stroke="#000" stroke-width="1.9" fill="none" stroke-linejoin="miter"/>
<path d="M239.5,212.8 L308.9,125" stroke="#000" stroke-width="1.5" fill="none"/>
<line x1="49.0" y1="212.6" x2="49.0" y2="216.8" stroke="#000" stroke-width="1.6" />
<text transform="translate(49.0,231) scale(1.06,1)" font-size="14.4" text-anchor="middle" >300</text>
<line x1="112.4" y1="212.6" x2="112.4" y2="216.8" stroke="#000" stroke-width="1.6" />
<text transform="translate(112.4,231) scale(1.06,1)" font-size="14.4" text-anchor="middle" >400</text>
<line x1="175.8" y1="212.6" x2="175.8" y2="216.8" stroke="#000" stroke-width="1.6" />
<text transform="translate(175.8,231) scale(1.06,1)" font-size="14.4" text-anchor="middle" >500</text>
<line x1="239.2" y1="212.6" x2="239.2" y2="216.8" stroke="#000" stroke-width="1.6" />
<text transform="translate(239.2,231) scale(1.06,1)" font-size="14.4" text-anchor="middle" >600</text>
<text transform="translate(131.8,251) scale(1.06,1)" font-size="15.0" text-anchor="middle" >Wavelength (nm)</text>
<line x1="308.4" y1="27.6" x2="311.8" y2="27.6" stroke="#000" stroke-width="1.6" />
<text x="314.7" y="32.2" font-size="14.6">20</text>
<line x1="308.4" y1="76.3" x2="311.8" y2="76.3" stroke="#000" stroke-width="1.6" />
<text x="314.7" y="80.9" font-size="14.6">0</text>
<line x1="308.4" y1="125" x2="311.8" y2="125" stroke="#000" stroke-width="1.6" />
<text x="314.7" y="129.6" font-size="14.6">-20</text>
<text transform="translate(353.5,76.8) rotate(-90) scale(1.06,1)" font-size="14.5" text-anchor="middle">CD (mdeg)</text>
<text transform="translate(305.5,43.2) scale(1.06,1)" font-size="14.3" text-anchor="end" >NKU-777-<tspan font-style="italic">P</tspan>/<tspan font-style="italic">M</tspan></text>
<line x1="293.6666666666667" y1="144.33333333333334" x2="296.8666666666667" y2="145.53333333333333" stroke="#000" stroke-width="1.2" />
<text transform="translate(305.7,151.3) rotate(17) skewX(-24)" font-size="14.5" text-anchor="middle">3</text>
<line x1="270.6666666666667" y1="173.33333333333334" x2="273.8666666666667" y2="174.53333333333333" stroke="#000" stroke-width="1.2" />
<text transform="translate(282.7,180.3) rotate(17) skewX(-24)" font-size="14.5" text-anchor="middle">6</text>
<line x1="247.66666666666666" y1="202.33333333333331" x2="250.86666666666665" y2="203.5333333333333" stroke="#000" stroke-width="1.2" />
<text transform="translate(259.7,209.3) rotate(17) skewX(-24)" font-size="14.5" text-anchor="middle">9</text>
<text transform="translate(316.4,170.7) rotate(-51.5)" font-size="14.5" text-anchor="middle">Batch</text>
<text transform="translate(364.5,18.8) scale(0.97,1)" font-size="22.7" text-anchor="start" >b</text>
<path d="M435.2,124.4 L435.9,124.7 L436.5,125.0 L437.2,125.3 L437.9,125.7 L438.6,126.0 L439.2,126.3 L439.9,126.6 L440.6,126.9 L441.2,127.2 L441.9,127.5 L442.6,127.9 L443.3,128.2 L443.9,128.5 L444.6,128.7 L445.3,128.8 L446.0,128.7 L446.6,128.5 L447.3,128.2 L448.0,127.8 L448.6,127.2 L449.3,126.7 L450.0,125.8 L450.7,124.1 L451.3,122.0 L452.0,119.8 L452.7,117.9 L453.3,116.6 L454.0,115.4 L454.7,114.4 L455.4,113.4 L456.0,112.4 L456.7,111.5 L457.4,110.5 L458.0,109.4 L458.7,108.3 L459.4,107.3 L460.1,106.6 L460.7,106.1 L461.4,106.2 L462.1,106.6 L462.8,107.2 L463.4,108.0 L464.1,108.8 L464.8,109.5 L465.4,110.5 L466.1,111.6 L466.8,112.8 L467.5,113.9 L468.1,114.9 L468.8,116.0 L469.5,117.0 L470.1,118.0 L470.8,119.0 L471.5,119.8 L472.2,120.6 L472.8,121.3 L473.5,121.9 L474.2,122.6 L474.8,123.4 L475.5,124.3 L476.2,125.2 L476.9,126.3 L477.5,127.5 L478.2,129.0 L478.9,131.2 L479.6,133.9 L480.2,136.5 L480.9,138.6 L481.6,140.7 L482.2,142.6 L482.9,144.0 L483.6,144.4 L484.3,144.1 L484.9,143.4 L485.6,142.9 L486.3,142.4 L486.9,141.9 L487.6,141.5 L488.3,141.0 L489.0,140.7 L489.6,140.3 L490.3,140.0 L491.0,139.6 L491.6,139.2 L492.3,138.8 L493.0,138.5 L493.7,138.2 L494.3,137.8 L495.0,137.5 L495.7,137.2 L496.3,137.0 L497.0,136.7 L497.7,136.5 L498.4,136.3 L499.0,136.1 L499.7,135.8 L500.4,135.5 L501.1,135.2 L501.7,135.0 L502.4,134.8 L503.1,134.7 L503.7,134.6 L504.4,134.4 L505.1,134.1 L505.8,133.7 L506.4,133.5 L507.1,133.3 L507.8,133.1 L508.4,133.0 L509.1,132.9 L509.8,132.8 L510.5,132.6 L511.1,132.5 L511.8,132.3 L512.5,132.2 L513.1,132.1 L513.8,132.1 L514.5,132.2 L515.2,132.2 L515.8,132.1 L516.5,131.9 L517.2,131.7 L517.9,131.5 L518.5,131.4 L519.2,131.3 L519.9,131.3 L520.5,131.1 L521.2,130.9 L521.9,130.5 L522.6,130.1 L523.2,129.8 L523.9,129.8 L524.6,129.9 L525.2,129.9 L525.9,129.7 L526.6,129.5 L527.3,129.4 L527.9,129.5 L528.6,129.7 L529.3,129.6 L529.9,129.2 L530.6,128.7 L531.3,128.5 L532.0,128.6 L532.6,128.9 L533.3,129.3 L534.0,129.5 L534.7,129.4 L535.3,129.1 L536.0,128.7 L536.7,128.3 L537.3,128.0 L538.0,127.9 L538.7,128.1 L539.4,128.1 L540.0,128.0 L540.7,127.8 L541.4,127.4 L542.0,127.0 L542.7,126.8 L543.4,127.0 L544.1,127.2 L544.7,127.2 L545.4,126.9 L546.1,126.7 L546.7,126.4 L547.4,126.3 L548.1,126.3 L548.8,126.4 L549.4,126.4 L550.1,126.3 L550.8,126.0 L551.5,125.5 L552.1,125.4 L552.8,125.5 L553.5,125.6 L554.1,125.6 L554.8,125.6 L555.5,125.4 L556.2,125.0 L556.8,124.6 L557.5,124.4 L558.2,124.5 L558.8,124.6 L559.5,124.8 L560.2,124.8 L560.9,124.8 L561.5,124.6 L562.2,124.5 L562.9,124.4 L563.5,124.3 L564.2,124.1 L564.9,123.9 L565.6,123.8 L566.2,123.8 L566.9,123.9 L567.6,124.0 L568.3,124.0 L568.9,124.1 L569.6,124.1 L570.3,124.1 L570.9,124.0 L571.6,124.0 L572.3,123.9 L573.0,123.7 L573.6,123.5 L574.3,123.2 L575.0,123.1 L575.6,123.0 L576.3,123.0 L577.0,123.0 L577.7,122.9 L578.3,122.8 L579.0,122.7 L579.7,122.6 L580.3,122.6 L581.0,122.7 L581.7,122.7 L582.4,122.6 L583.0,122.3 L583.7,122.0 L584.4,121.8 L585.1,121.7 L585.7,121.8 L586.4,122.0 L587.1,122.1 L587.7,122.1 L588.4,122.1 L589.1,122.2 L589.8,122.3 L590.4,122.4 L591.1,122.4 L591.8,122.5 L592.4,122.4 L593.1,122.1 L593.8,121.7 L594.5,121.4 L595.1,121.3 L595.8,121.4 L596.5,121.6 L597.1,121.9 L597.8,122.3 L598.5,122.5 L599.2,122.3 L599.8,121.9 L600.5,121.6 L601.2,121.5 L601.9,121.5 L602.5,121.5 L603.2,121.5 L603.9,121.6 L604.5,121.7 L605.2,121.8 L605.9,121.5 L606.6,121.1 L607.2,120.7 L607.9,120.6 L608.6,120.8 L609.2,120.9 L609.9,121.0 L610.6,121.0 L611.3,120.9 L611.9,120.9 L612.6,120.9 L613.3,120.9 L613.9,120.8 L614.6,120.8 L615.3,120.8 L616.0,120.9 L616.6,121.0 L617.3,121.2 L618.0,121.3 L618.6,121.4 L619.3,121.2 L620.0,120.9 L620.7,120.4 L621.3,120.1 L622.0,120.2 L622.7,120.2 L623.4,120.1 L624.0,120.1 L624.7,120.2 L625.4,120.4 L626.0,120.6 L626.7,120.8 L627.4,120.8 L628.1,120.7 L628.7,120.5 L629.4,120.5 L630.1,120.7 L630.7,121.0 L631.4,121.0 L632.1,120.7 L632.8,120.4 L633.4,120.3 L634.1,120.4 L634.8,120.5 L635.4,120.5 L636.1,120.4 L636.8,120.3 L637.5,120.4 L638.1,120.4 L638.8,120.3 L639.5,120.0 L640.2,119.7 L640.8,119.6 L641.5,119.8 L642.2,120.0 L642.8,120.1 L643.5,119.9 L644.2,119.9 L644.9,120.0 L645.5,120.4 L646.2,120.6 L646.9,120.7 L647.5,120.5 L648.2,120.4 L648.9,120.4 L649.6,120.5 L650.2,120.7 L650.9,120.8 L651.6,120.6 L652.2,120.3 L652.9,120.1 L653.6,120.0 L654.3,120.0 L654.9,120.1 L655.6,120.1 L656.3,120.0 L657.0,119.9 L657.6,119.8 L658.3,119.9 L659.0,120.0 L659.6,120.3 L660.3,120.4 L661.0,120.5 L661.7,120.4 L662.3,120.3 L663.0,120.2" fill="none" stroke="rgb(160,172,255)" stroke-width="1.15" stroke-linejoin="round" stroke-linecap="round"/>
<path d="M435.2,125.0 L435.9,125.4 L436.5,125.8 L437.2,126.1 L437.9,126.4 L438.6,126.7 L439.2,127.0 L439.9,127.4 L440.6,127.7 L441.2,128.1 L441.9,128.5 L442.6,128.9 L443.3,129.2 L443.9,129.6 L444.6,129.8 L445.3,129.9 L446.0,129.8 L446.6,129.6 L447.3,129.2 L448.0,128.8 L448.6,128.2 L449.3,127.6 L450.0,126.6 L450.7,124.8 L451.3,122.4 L452.0,119.8 L452.7,117.6 L453.3,115.9 L454.0,114.4 L454.7,112.9 L455.4,111.6 L456.0,110.2 L456.7,109.0 L457.4,107.7 L458.0,106.4 L458.7,105.0 L459.4,103.7 L460.1,102.6 L460.7,102.0 L461.4,102.0 L462.1,102.5 L462.8,103.4 L463.4,104.4 L464.1,105.5 L464.8,106.6 L465.4,107.8 L466.1,109.3 L466.8,110.8 L467.5,112.3 L468.1,113.7 L468.8,115.1 L469.5,116.4 L470.1,117.8 L470.8,119.0 L471.5,120.1 L472.2,120.9 L472.8,121.7 L473.5,122.5 L474.2,123.2 L474.8,124.1 L475.5,125.1 L476.2,126.2 L476.9,127.5 L477.5,128.9 L478.2,130.6 L478.9,133.1 L479.6,136.2 L480.2,139.2 L480.9,141.7 L481.6,144.0 L482.2,146.2 L482.9,147.8 L483.6,148.3 L484.3,147.9 L484.9,147.2 L485.6,146.6 L486.3,146.0 L486.9,145.5 L487.6,144.9 L488.3,144.4 L489.0,143.9 L489.6,143.5 L490.3,143.1 L491.0,142.7 L491.6,142.3 L492.3,141.9 L493.0,141.6 L493.7,141.3 L494.3,140.9 L495.0,140.6 L495.7,140.4 L496.3,140.2 L497.0,140.0 L497.7,139.8 L498.4,139.5 L499.0,139.2 L499.7,138.9 L500.4,138.6 L501.1,138.3 L501.7,138.1 L502.4,137.9 L503.1,137.7 L503.7,137.4 L504.4,137.1 L505.1,136.8 L505.8,136.6 L506.4,136.6 L507.1,136.5 L507.8,136.3 L508.4,136.1 L509.1,136.1 L509.8,136.2 L510.5,136.1 L511.1,135.7 L511.8,135.4 L512.5,135.3 L513.1,135.2 L513.8,135.0 L514.5,134.8 L515.2,134.7 L515.8,134.6 L516.5,134.5 L517.2,134.3 L517.9,134.0 L518.5,133.9 L519.2,133.9 L519.9,134.0 L520.5,134.1 L521.2,134.1 L521.9,134.0 L522.6,133.9 L523.2,133.9 L523.9,133.7 L524.6,133.5 L525.2,133.3 L525.9,133.2 L526.6,133.1 L527.3,133.0 L527.9,132.8 L528.6,132.5 L529.3,132.1 L529.9,131.8 L530.6,131.7 L531.3,131.7 L532.0,131.7 L532.6,131.7 L533.3,131.9 L534.0,132.0 L534.7,131.9 L535.3,131.5 L536.0,131.2 L536.7,131.1 L537.3,131.0 L538.0,131.1 L538.7,131.0 L539.4,130.8 L540.0,130.6 L540.7,130.4 L541.4,130.2 L542.0,130.1 L542.7,130.0 L543.4,129.9 L544.1,129.9 L544.7,129.9 L545.4,129.6 L546.1,129.3 L546.7,129.0 L547.4,128.9 L548.1,128.8 L548.8,128.8 L549.4,128.9 L550.1,129.2 L550.8,129.4 L551.5,129.5 L552.1,129.2 L552.8,128.9 L553.5,128.5 L554.1,128.3 L554.8,128.1 L555.5,127.8 L556.2,127.5 L556.8,127.2 L557.5,127.0 L558.2,126.9 L558.8,127.1 L559.5,127.1 L560.2,127.0 L560.9,126.7 L561.5,126.5 L562.2,126.5 L562.9,126.7 L563.5,126.9 L564.2,126.9 L564.9,126.7 L565.6,126.5 L566.2,126.3 L566.9,126.2 L567.6,126.2 L568.3,126.3 L568.9,126.5 L569.6,126.5 L570.3,126.3 L570.9,126.0 L571.6,125.7 L572.3,125.6 L573.0,125.6 L573.6,125.7 L574.3,125.7 L575.0,125.6 L575.6,125.6 L576.3,125.4 L577.0,125.3 L577.7,125.3 L578.3,125.3 L579.0,125.3 L579.7,125.1 L580.3,124.9 L581.0,124.6 L581.7,124.4 L582.4,124.4 L583.0,124.6 L583.7,124.7 L584.4,124.9 L585.1,125.0 L585.7,125.0 L586.4,124.9 L587.1,124.7 L587.7,124.6 L588.4,124.5 L589.1,124.5 L589.8,124.5 L590.4,124.2 L591.1,124.0 L591.8,123.9 L592.4,123.9 L593.1,123.9 L593.8,124.0 L594.5,124.1 L595.1,124.3 L595.8,124.4 L596.5,124.6 L597.1,124.6 L597.8,124.5 L598.5,124.1 L599.2,123.8 L599.8,123.6 L600.5,123.5 L601.2,123.6 L601.9,123.6 L602.5,123.7 L603.2,123.7 L603.9,123.8 L604.5,123.7 L605.2,123.6 L605.9,123.5 L606.6,123.3 L607.2,123.1 L607.9,122.8 L608.6,122.8 L609.2,123.0 L609.9,123.1 L610.6,123.1 L611.3,123.0 L611.9,122.9 L612.6,122.9 L613.3,122.9 L613.9,123.0 L614.6,123.0 L615.3,122.9 L616.0,122.9 L616.6,122.8 L617.3,122.7 L618.0,122.7 L618.6,122.8 L619.3,122.9 L620.0,123.0 L620.7,123.1 L621.3,123.2 L622.0,123.4 L622.7,123.4 L623.4,123.2 L624.0,123.0 L624.7,122.7 L625.4,122.5 L626.0,122.4 L626.7,122.4 L627.4,122.6 L628.1,122.6 L628.7,122.4 L629.4,122.2 L630.1,122.2 L630.7,122.4 L631.4,122.6 L632.1,122.8 L632.8,122.8 L633.4,122.7 L634.1,122.5 L634.8,122.3 L635.4,122.2 L636.1,122.2 L636.8,122.1 L637.5,121.9 L638.1,121.9 L638.8,122.0 L639.5,122.1 L640.2,122.0 L640.8,122.0 L641.5,122.1 L642.2,122.2 L642.8,122.3 L643.5,122.3 L644.2,122.4 L644.9,122.3 L645.5,122.2 L646.2,122.0 L646.9,121.8 L647.5,121.5 L648.2,121.4 L648.9,121.4 L649.6,121.5 L650.2,121.8 L650.9,122.0 L651.6,122.0 L652.2,121.7 L652.9,121.4 L653.6,121.1 L654.3,121.1 L654.9,121.2 L655.6,121.3 L656.3,121.4 L657.0,121.5 L657.6,121.4 L658.3,121.3 L659.0,121.4 L659.6,121.6 L660.3,121.7 L661.0,121.8 L661.7,121.9 L662.3,122.2 L663.0,122.5" fill="none" stroke="rgb(132,144,255)" stroke-width="1.15" stroke-linejoin="round" stroke-linecap="round"/>
<path d="M435.2,125.7 L435.9,126.1 L436.5,126.5 L437.2,126.9 L437.9,127.3 L438.6,127.7 L439.2,128.0 L439.9,128.3 L440.6,128.6 L441.2,129.0 L441.9,129.5 L442.6,129.9 L443.3,130.4 L443.9,130.7 L444.6,130.9 L445.3,131.0 L446.0,131.0 L446.6,130.8 L447.3,130.4 L448.0,129.8 L448.6,129.2 L449.3,128.5 L450.0,127.4 L450.7,125.4 L451.3,122.8 L452.0,120.1 L452.7,117.5 L453.3,115.4 L454.0,113.5 L454.7,111.5 L455.4,109.7 L456.0,107.9 L456.7,106.2 L457.4,104.5 L458.0,102.8 L458.7,101.0 L459.4,99.4 L460.1,98.1 L460.7,97.3 L461.4,97.3 L462.1,97.9 L462.8,98.9 L463.4,100.2 L464.1,101.5 L464.8,102.9 L465.4,104.5 L466.1,106.4 L466.8,108.4 L467.5,110.4 L468.1,112.1 L468.8,114.0 L469.5,115.7 L470.1,117.4 L470.8,118.9 L471.5,120.2 L472.2,121.2 L472.8,122.1 L473.5,123.0 L474.2,123.8 L474.8,124.7 L475.5,125.8 L476.2,127.0 L476.9,128.4 L477.5,130.0 L478.2,131.9 L478.9,134.7 L479.6,138.1 L480.2,141.4 L480.9,144.2 L481.6,146.8 L482.2,149.2 L482.9,151.0 L483.6,151.6 L484.3,151.1 L484.9,150.4 L485.6,149.7 L486.3,149.0 L486.9,148.4 L487.6,147.8 L488.3,147.3 L489.0,146.9 L489.6,146.5 L490.3,146.0 L491.0,145.6 L491.6,145.2 L492.3,144.8 L493.0,144.5 L493.7,144.2 L494.3,143.8 L495.0,143.5 L495.7,143.3 L496.3,143.0 L497.0,142.8 L497.7,142.5 L498.4,142.2 L499.0,142.0 L499.7,141.7 L500.4,141.4 L501.1,141.2 L501.7,140.9 L502.4,140.7 L503.1,140.5 L503.7,140.3 L504.4,140.1 L505.1,140.0 L505.8,140.0 L506.4,139.9 L507.1,139.7 L507.8,139.4 L508.4,139.2 L509.1,139.1 L509.8,139.1 L510.5,138.9 L511.1,138.6 L511.8,138.3 L512.5,138.0 L513.1,137.8 L513.8,137.6 L514.5,137.5 L515.2,137.3 L515.8,137.3 L516.5,137.2 L517.2,137.1 L517.9,137.0 L518.5,137.0 L519.2,137.0 L519.9,137.0 L520.5,136.9 L521.2,136.6 L521.9,136.3 L522.6,136.1 L523.2,136.1 L523.9,136.2 L524.6,136.3 L525.2,136.3 L525.9,136.1 L526.6,135.8 L527.3,135.5 L527.9,135.3 L528.6,135.2 L529.3,135.2 L529.9,135.2 L530.6,135.2 L531.3,135.2 L532.0,135.2 L532.6,135.1 L533.3,135.0 L534.0,134.8 L534.7,134.7 L535.3,134.5 L536.0,134.3 L536.7,134.1 L537.3,133.7 L538.0,133.5 L538.7,133.3 L539.4,133.2 L540.0,133.2 L540.7,133.2 L541.4,133.2 L542.0,133.2 L542.7,133.2 L543.4,133.1 L544.1,133.1 L544.7,133.1 L545.4,133.0 L546.1,132.6 L546.7,132.2 L547.4,131.8 L548.1,131.8 L548.8,131.9 L549.4,132.0 L550.1,132.0 L550.8,131.8 L551.5,131.5 L552.1,131.1 L552.8,130.9 L553.5,130.9 L554.1,130.9 L554.8,130.8 L555.5,130.7 L556.2,130.6 L556.8,130.4 L557.5,130.3 L558.2,130.3 L558.8,130.2 L559.5,130.0 L560.2,129.7 L560.9,129.5 L561.5,129.5 L562.2,129.6 L562.9,129.6 L563.5,129.3 L564.2,128.9 L564.9,128.7 L565.6,128.7 L566.2,128.7 L566.9,128.8 L567.6,128.8 L568.3,128.8 L568.9,128.8 L569.6,128.7 L570.3,128.5 L570.9,128.3 L571.6,128.2 L572.3,128.1 L573.0,128.1 L573.6,128.2 L574.3,128.3 L575.0,128.2 L575.6,128.1 L576.3,128.0 L577.0,128.0 L577.7,128.0 L578.3,127.9 L579.0,127.8 L579.7,127.7 L580.3,127.7 L581.0,127.6 L581.7,127.5 L582.4,127.5 L583.0,127.7 L583.7,127.9 L584.4,127.8 L585.1,127.4 L585.7,126.9 L586.4,126.7 L587.1,126.7 L587.7,126.6 L588.4,126.3 L589.1,126.0 L589.8,125.8 L590.4,125.8 L591.1,126.0 L591.8,126.3 L592.4,126.4 L593.1,126.4 L593.8,126.3 L594.5,126.1 L595.1,125.9 L595.8,125.8 L596.5,125.8 L597.1,125.9 L597.8,125.9 L598.5,125.8 L599.2,125.7 L599.8,125.7 L600.5,125.9 L601.2,126.1 L601.9,126.1 L602.5,125.8 L603.2,125.5 L603.9,125.3 L604.5,125.4 L605.2,125.4 L605.9,125.3 L606.6,125.1 L607.2,125.1 L607.9,125.2 L608.6,125.2 L609.2,125.2 L609.9,125.3 L610.6,125.4 L611.3,125.4 L611.9,125.3 L612.6,125.1 L613.3,125.0 L613.9,125.1 L614.6,125.2 L615.3,125.2 L616.0,125.1 L616.6,125.1 L617.3,125.1 L618.0,125.2 L618.6,125.0 L619.3,124.6 L620.0,124.5 L620.7,124.7 L621.3,125.0 L622.0,125.1 L622.7,124.8 L623.4,124.5 L624.0,124.2 L624.7,124.1 L625.4,124.1 L626.0,124.2 L626.7,124.5 L627.4,124.8 L628.1,124.9 L628.7,124.6 L629.4,124.2 L630.1,124.0 L630.7,123.8 L631.4,123.8 L632.1,123.9 L632.8,123.9 L633.4,124.0 L634.1,124.1 L634.8,124.2 L635.4,124.2 L636.1,124.1 L636.8,123.9 L637.5,124.0 L638.1,124.1 L638.8,124.3 L639.5,124.1 L640.2,123.8 L640.8,123.6 L641.5,123.7 L642.2,123.9 L642.8,123.9 L643.5,123.8 L644.2,123.6 L644.9,123.5 L645.5,123.5 L646.2,123.5 L646.9,123.5 L647.5,123.4 L648.2,123.4 L648.9,123.5 L649.6,123.6 L650.2,123.6 L650.9,123.6 L651.6,123.6 L652.2,123.6 L652.9,123.6 L653.6,123.5 L654.3,123.5 L654.9,123.5 L655.6,123.6 L656.3,123.5 L657.0,123.4 L657.6,123.4 L658.3,123.5 L659.0,123.7 L659.6,123.8 L660.3,123.7 L661.0,123.6 L661.7,123.3 L662.3,123.0 L663.0,122.9" fill="none" stroke="rgb(92,100,255)" stroke-width="1.6" stroke-linejoin="round" stroke-linecap="round"/>
<path d="M435.2,126.3 L435.9,126.7 L436.5,127.2 L437.2,127.6 L437.9,128.0 L438.6,128.4 L439.2,128.8 L439.9,129.2 L440.6,129.6 L441.2,130.1 L441.9,130.5 L442.6,131.0 L443.3,131.4 L443.9,131.7 L444.6,132.0 L445.3,132.1 L446.0,132.0 L446.6,131.8 L447.3,131.5 L448.0,130.9 L448.6,130.2 L449.3,129.5 L450.0,128.3 L450.7,126.1 L451.3,123.2 L452.0,120.1 L452.7,117.3 L453.3,114.8 L454.0,112.4 L454.7,110.0 L455.4,107.7 L456.0,105.4 L456.7,103.3 L457.4,101.3 L458.0,99.1 L458.7,97.0 L459.4,94.9 L460.1,93.4 L460.7,92.5 L461.4,92.5 L462.1,93.2 L462.8,94.5 L463.4,96.1 L464.1,97.7 L464.8,99.3 L465.4,101.3 L466.1,103.6 L466.8,106.1 L467.5,108.5 L468.1,110.7 L468.8,112.9 L469.5,115.1 L470.1,117.2 L470.8,119.0 L471.5,120.5 L472.2,121.7 L472.8,122.7 L473.5,123.6 L474.2,124.5 L474.8,125.5 L475.5,126.8 L476.2,128.2 L476.9,129.9 L477.5,131.7 L478.2,133.9 L478.9,137.1 L479.6,141.0 L480.2,144.8 L480.9,148.0 L481.6,151.0 L482.2,153.9 L482.9,156.0 L483.6,156.7 L484.3,156.2 L484.9,155.2 L485.6,154.3 L486.3,153.6 L486.9,152.9 L487.6,152.2 L488.3,151.7 L489.0,151.2 L489.6,150.7 L490.3,150.2 L491.0,149.7 L491.6,149.2 L492.3,148.7 L493.0,148.3 L493.7,148.0 L494.3,147.7 L495.0,147.4 L495.7,147.1 L496.3,146.8 L497.0,146.5 L497.7,146.2 L498.4,145.9 L499.0,145.6 L499.7,145.4 L500.4,145.2 L501.1,145.0 L501.7,144.7 L502.4,144.3 L503.1,143.9 L503.7,143.6 L504.4,143.4 L505.1,143.4 L505.8,143.3 L506.4,143.2 L507.1,143.0 L507.8,142.8 L508.4,142.6 L509.1,142.4 L509.8,142.2 L510.5,142.0 L511.1,141.8 L511.8,141.5 L512.5,141.3 L513.1,141.2 L513.8,141.0 L514.5,141.0 L515.2,141.0 L515.8,140.9 L516.5,140.8 L517.2,140.6 L517.9,140.4 L518.5,140.4 L519.2,140.4 L519.9,140.4 L520.5,140.3 L521.2,140.2 L521.9,140.1 L522.6,140.1 L523.2,139.8 L523.9,139.4 L524.6,139.0 L525.2,138.9 L525.9,139.0 L526.6,139.0 L527.3,139.0 L527.9,138.9 L528.6,138.7 L529.3,138.4 L529.9,138.2 L530.6,138.0 L531.3,138.0 L532.0,137.9 L532.6,137.8 L533.3,137.7 L534.0,137.7 L534.7,137.6 L535.3,137.4 L536.0,137.1 L536.7,136.8 L537.3,136.6 L538.0,136.6 L538.7,136.7 L539.4,136.8 L540.0,136.6 L540.7,136.1 L541.4,135.8 L542.0,135.7 L542.7,135.9 L543.4,135.9 L544.1,135.6 L544.7,135.2 L545.4,135.0 L546.1,134.9 L546.7,134.7 L547.4,134.5 L548.1,134.4 L548.8,134.5 L549.4,134.6 L550.1,134.7 L550.8,134.7 L551.5,134.5 L552.1,134.2 L552.8,134.0 L553.5,133.8 L554.1,133.8 L554.8,133.8 L555.5,133.7 L556.2,133.6 L556.8,133.3 L557.5,133.2 L558.2,132.9 L558.8,132.7 L559.5,132.3 L560.2,132.2 L560.9,132.1 L561.5,132.2 L562.2,132.5 L562.9,132.6 L563.5,132.6 L564.2,132.5 L564.9,132.3 L565.6,132.2 L566.2,132.1 L566.9,132.2 L567.6,132.3 L568.3,132.4 L568.9,132.2 L569.6,131.7 L570.3,131.3 L570.9,131.2 L571.6,131.3 L572.3,131.5 L573.0,131.5 L573.6,131.3 L574.3,131.1 L575.0,130.9 L575.6,130.9 L576.3,130.9 L577.0,130.8 L577.7,130.5 L578.3,130.3 L579.0,130.2 L579.7,130.3 L580.3,130.4 L581.0,130.5 L581.7,130.4 L582.4,130.3 L583.0,130.3 L583.7,130.1 L584.4,129.8 L585.1,129.5 L585.7,129.2 L586.4,129.0 L587.1,128.8 L587.7,128.5 L588.4,128.4 L589.1,128.4 L589.8,128.5 L590.4,128.6 L591.1,128.7 L591.8,128.7 L592.4,128.3 L593.1,127.8 L593.8,127.6 L594.5,127.5 L595.1,127.6 L595.8,127.8 L596.5,128.0 L597.1,128.0 L597.8,128.0 L598.5,128.1 L599.2,128.3 L599.8,128.3 L600.5,128.2 L601.2,127.8 L601.9,127.5 L602.5,127.2 L603.2,127.1 L603.9,127.1 L604.5,127.2 L605.2,127.4 L605.9,127.3 L606.6,127.0 L607.2,126.8 L607.9,126.9 L608.6,127.2 L609.2,127.6 L609.9,127.9 L610.6,128.1 L611.3,128.1 L611.9,127.9 L612.6,127.6 L613.3,127.2 L613.9,126.8 L614.6,126.6 L615.3,126.6 L616.0,126.6 L616.6,126.7 L617.3,126.8 L618.0,126.8 L618.6,126.8 L619.3,126.8 L620.0,126.9 L620.7,126.8 L621.3,126.6 L622.0,126.4 L622.7,126.3 L623.4,126.4 L624.0,126.6 L624.7,126.7 L625.4,126.8 L626.0,126.8 L626.7,126.7 L627.4,126.5 L628.1,126.2 L628.7,126.1 L629.4,126.0 L630.1,125.9 L630.7,125.8 L631.4,125.7 L632.1,125.5 L632.8,125.5 L633.4,125.6 L634.1,125.8 L634.8,126.0 L635.4,126.1 L636.1,126.1 L636.8,125.9 L637.5,125.8 L638.1,125.6 L638.8,125.7 L639.5,125.8 L640.2,125.9 L640.8,126.0 L641.5,126.1 L642.2,126.3 L642.8,126.4 L643.5,126.3 L644.2,126.1 L644.9,125.8 L645.5,125.5 L646.2,125.4 L646.9,125.3 L647.5,125.3 L648.2,125.5 L648.9,125.7 L649.6,125.9 L650.2,125.9 L650.9,125.8 L651.6,125.6 L652.2,125.4 L652.9,125.3 L653.6,125.2 L654.3,125.1 L654.9,125.0 L655.6,125.0 L656.3,124.9 L657.0,124.9 L657.6,124.9 L658.3,124.9 L659.0,125.0 L659.6,125.0 L660.3,125.0 L661.0,124.9 L661.7,124.8 L662.3,124.7 L663.0,124.8" fill="none" stroke="rgb(70,72,255)" stroke-width="1.6" stroke-linejoin="round" stroke-linecap="round"/>
<path d="M435.2,126.8 L435.9,127.3 L436.5,127.8 L437.2,128.2 L437.9,128.6 L438.6,129.0 L439.2,129.4 L439.9,129.9 L440.6,130.3 L441.2,130.8 L441.9,131.3 L442.6,131.7 L443.3,132.2 L443.9,132.5 L444.6,132.8 L445.3,132.9 L446.0,132.9 L446.6,132.6 L447.3,132.2 L448.0,131.6 L448.6,130.9 L449.3,130.1 L450.0,128.8 L450.7,126.5 L451.3,123.5 L452.0,120.2 L452.7,117.1 L453.3,114.4 L454.0,111.6 L454.7,108.7 L455.4,105.9 L456.0,103.2 L456.7,100.6 L457.4,98.2 L458.0,95.6 L458.7,92.9 L459.4,90.5 L460.1,88.7 L460.7,87.8 L461.4,87.8 L462.1,88.6 L462.8,90.1 L463.4,91.9 L464.1,93.8 L464.8,95.8 L465.4,98.2 L466.1,101.0 L466.8,103.8 L467.5,106.6 L468.1,109.2 L468.8,111.9 L469.5,114.5 L470.1,117.0 L470.8,119.1 L471.5,120.7 L472.2,122.0 L472.8,123.1 L473.5,124.0 L474.2,125.0 L474.8,126.1 L475.5,127.5 L476.2,129.1 L476.9,130.8 L477.5,132.8 L478.2,135.2 L478.9,138.7 L479.6,143.0 L480.2,147.2 L480.9,150.6 L481.6,153.9 L482.2,157.0 L482.9,159.2 L483.6,159.9 L484.3,159.3 L484.9,158.4 L485.6,157.5 L486.3,156.7 L486.9,155.9 L487.6,155.2 L488.3,154.5 L489.0,153.9 L489.6,153.4 L490.3,152.9 L491.0,152.4 L491.6,152.0 L492.3,151.6 L493.0,151.2 L493.7,150.9 L494.3,150.6 L495.0,150.2 L495.7,149.8 L496.3,149.5 L497.0,149.1 L497.7,148.8 L498.4,148.6 L499.0,148.3 L499.7,148.0 L500.4,147.9 L501.1,147.7 L501.7,147.6 L502.4,147.5 L503.1,147.4 L503.7,147.2 L504.4,146.9 L505.1,146.7 L505.8,146.5 L506.4,146.4 L507.1,146.2 L507.8,146.0 L508.4,145.8 L509.1,145.6 L509.8,145.4 L510.5,145.2 L511.1,144.9 L511.8,144.7 L512.5,144.6 L513.1,144.5 L513.8,144.6 L514.5,144.6 L515.2,144.4 L515.8,144.0 L516.5,143.7 L517.2,143.5 L517.9,143.5 L518.5,143.7 L519.2,143.8 L519.9,143.7 L520.5,143.4 L521.2,143.1 L521.9,143.0 L522.6,142.9 L523.2,142.9 L523.9,142.7 L524.6,142.4 L525.2,142.2 L525.9,142.0 L526.6,142.0 L527.3,142.0 L527.9,142.2 L528.6,142.2 L529.3,142.1 L529.9,141.9 L530.6,141.7 L531.3,141.4 L532.0,141.0 L532.6,140.8 L533.3,140.7 L534.0,140.6 L534.7,140.4 L535.3,140.3 L536.0,140.2 L536.7,140.2 L537.3,140.1 L538.0,140.0 L538.7,140.0 L539.4,140.1 L540.0,139.9 L540.7,139.7 L541.4,139.4 L542.0,139.2 L542.7,138.9 L543.4,138.6 L544.1,138.4 L544.7,138.3 L545.4,138.4 L546.1,138.3 L546.7,138.1 L547.4,138.0 L548.1,137.9 L548.8,137.7 L549.4,137.5 L550.1,137.3 L550.8,137.4 L551.5,137.4 L552.1,137.4 L552.8,137.2 L553.5,137.0 L554.1,136.8 L554.8,136.6 L555.5,136.5 L556.2,136.3 L556.8,136.1 L557.5,136.0 L558.2,136.0 L558.8,135.9 L559.5,135.7 L560.2,135.5 L560.9,135.4 L561.5,135.3 L562.2,135.1 L562.9,134.9 L563.5,134.7 L564.2,134.6 L564.9,134.6 L565.6,134.6 L566.2,134.4 L566.9,134.1 L567.6,133.8 L568.3,133.8 L568.9,133.9 L569.6,134.2 L570.3,134.5 L570.9,134.7 L571.6,134.7 L572.3,134.6 L573.0,134.4 L573.6,134.2 L574.3,134.1 L575.0,134.0 L575.6,133.9 L576.3,133.7 L577.0,133.4 L577.7,133.2 L578.3,133.2 L579.0,133.2 L579.7,133.1 L580.3,132.8 L581.0,132.4 L581.7,132.2 L582.4,132.0 L583.0,131.8 L583.7,131.5 L584.4,131.4 L585.1,131.3 L585.7,131.3 L586.4,131.3 L587.1,131.5 L587.7,131.6 L588.4,131.6 L589.1,131.4 L589.8,131.3 L590.4,131.1 L591.1,130.9 L591.8,130.7 L592.4,130.6 L593.1,130.5 L593.8,130.5 L594.5,130.3 L595.1,130.2 L595.8,130.0 L596.5,130.0 L597.1,130.2 L597.8,130.6 L598.5,131.0 L599.2,131.2 L599.8,131.1 L600.5,131.0 L601.2,130.8 L601.9,130.7 L602.5,130.4 L603.2,130.4 L603.9,130.5 L604.5,130.7 L605.2,130.7 L605.9,130.4 L606.6,130.0 L607.2,129.5 L607.9,129.0 L608.6,128.6 L609.2,128.4 L609.9,128.6 L610.6,128.8 L611.3,128.9 L611.9,129.0 L612.6,129.0 L613.3,128.9 L613.9,128.8 L614.6,129.0 L615.3,129.3 L616.0,129.4 L616.6,129.2 L617.3,128.8 L618.0,128.5 L618.6,128.5 L619.3,128.3 L620.0,128.2 L620.7,128.2 L621.3,128.4 L622.0,128.6 L622.7,128.6 L623.4,128.5 L624.0,128.4 L624.7,128.3 L625.4,128.1 L626.0,128.0 L626.7,128.0 L627.4,128.2 L628.1,128.4 L628.7,128.3 L629.4,128.2 L630.1,128.2 L630.7,128.3 L631.4,128.2 L632.1,128.1 L632.8,127.9 L633.4,127.9 L634.1,127.8 L634.8,127.7 L635.4,127.4 L636.1,127.2 L636.8,127.1 L637.5,127.3 L638.1,127.7 L638.8,128.0 L639.5,128.0 L640.2,127.9 L640.8,127.7 L641.5,127.5 L642.2,127.4 L642.8,127.1 L643.5,126.9 L644.2,126.8 L644.9,126.7 L645.5,126.7 L646.2,126.7 L646.9,126.9 L647.5,127.1 L648.2,127.1 L648.9,127.1 L649.6,127.1 L650.2,127.0 L650.9,126.9 L651.6,126.7 L652.2,126.5 L652.9,126.5 L653.6,126.6 L654.3,126.6 L654.9,126.6 L655.6,126.5 L656.3,126.4 L657.0,126.3 L657.6,126.3 L658.3,126.4 L659.0,126.4 L659.6,126.5 L660.3,126.6 L661.0,126.8 L661.7,126.9 L662.3,126.9 L663.0,126.7" fill="none" stroke="rgb(52,48,255)" stroke-width="1.6" stroke-linejoin="round" stroke-linecap="round"/>
<path d="M435.2,115.2 L435.9,115.9 L436.5,116.5 L437.2,117.0 L437.9,117.6 L438.6,118.2 L439.2,118.8 L439.9,119.5 L440.6,120.2 L441.2,120.7 L441.9,121.2 L442.6,121.4 L443.3,121.6 L443.9,121.6 L444.6,121.7 L445.3,121.7 L446.0,121.7 L446.6,121.6 L447.3,121.3 L448.0,120.7 L448.6,120.0 L449.3,119.0 L450.0,117.5 L450.7,115.5 L451.3,113.5 L452.0,111.3 L452.7,108.8 L453.3,106.2 L454.0,103.4 L454.7,100.6 L455.4,97.8 L456.0,94.9 L456.7,91.9 L457.4,89.0 L458.0,86.5 L458.7,84.3 L459.4,82.1 L460.1,80.2 L460.7,79.1 L461.4,79.1 L462.1,80.4 L462.8,82.3 L463.4,84.6 L464.1,86.9 L464.8,89.7 L465.4,93.1 L466.1,96.6 L466.8,100.1 L467.5,103.3 L468.1,106.6 L468.8,110.0 L469.5,113.4 L470.1,116.5 L470.8,119.1 L471.5,121.2 L472.2,122.9 L472.8,124.4 L473.5,125.7 L474.2,127.1 L474.8,128.6 L475.5,130.5 L476.2,132.5 L476.9,134.9 L477.5,137.6 L478.2,140.8 L478.9,145.6 L479.6,151.3 L480.2,157.1 L480.9,161.7 L481.6,166.1 L482.2,170.3 L482.9,173.4 L483.6,174.3 L484.3,173.5 L484.9,172.1 L485.6,170.9 L486.3,169.8 L486.9,168.8 L487.6,167.9 L488.3,167.0 L489.0,166.2 L489.6,165.4 L490.3,164.6 L491.0,163.9 L491.6,163.3 L492.3,162.6 L493.0,162.0 L493.7,161.4 L494.3,160.8 L495.0,160.3 L495.7,159.8 L496.3,159.3 L497.0,158.8 L497.7,158.2 L498.4,157.7 L499.0,157.2 L499.7,156.8 L500.4,156.4 L501.1,156.1 L501.7,155.7 L502.4,155.3 L503.1,155.0 L503.7,154.6 L504.4,154.2 L505.1,153.8 L505.8,153.4 L506.4,153.1 L507.1,152.8 L507.8,152.5 L508.4,152.2 L509.1,152.0 L509.8,151.7 L510.5,151.4 L511.1,151.2 L511.8,150.9 L512.5,150.7 L513.1,150.5 L513.8,150.3 L514.5,150.1 L515.2,149.9 L515.8,149.7 L516.5,149.6 L517.2,149.5 L517.9,149.3 L518.5,149.0 L519.2,148.6 L519.9,148.2 L520.5,147.9 L521.2,147.7 L521.9,147.6 L522.6,147.4 L523.2,147.2 L523.9,147.0 L524.6,146.9 L525.2,146.6 L525.9,146.1 L526.6,145.7 L527.3,145.5 L527.9,145.5 L528.6,145.5 L529.3,145.4 L529.9,145.3 L530.6,145.3 L531.3,145.2 L532.0,145.0 L532.6,144.8 L533.3,144.6 L534.0,144.4 L534.7,144.1 L535.3,143.7 L536.0,143.3 L536.7,142.9 L537.3,142.6 L538.0,142.6 L538.7,142.8 L539.4,143.1 L540.0,143.3 L540.7,143.2 L541.4,143.0 L542.0,142.9 L542.7,142.6 L543.4,142.2 L544.1,141.8 L544.7,141.5 L545.4,141.4 L546.1,141.4 L546.7,141.3 L547.4,141.0 L548.1,140.7 L548.8,140.5 L549.4,140.2 L550.1,140.0 L550.8,139.8 L551.5,139.7 L552.1,139.6 L552.8,139.6 L553.5,139.8 L554.1,139.8 L554.8,139.5 L555.5,139.1 L556.2,138.9 L556.8,138.8 L557.5,138.7 L558.2,138.6 L558.8,138.3 L559.5,137.9 L560.2,137.5 L560.9,137.2 L561.5,137.0 L562.2,136.9 L562.9,136.7 L563.5,136.7 L564.2,136.8 L564.9,137.0 L565.6,137.1 L566.2,137.2 L566.9,137.2 L567.6,137.3 L568.3,137.3 L568.9,137.3 L569.6,137.2 L570.3,136.9 L570.9,136.6 L571.6,136.4 L572.3,136.2 L573.0,136.1 L573.6,136.1 L574.3,136.0 L575.0,135.8 L575.6,135.7 L576.3,135.7 L577.0,135.6 L577.7,135.4 L578.3,135.1 L579.0,134.8 L579.7,134.7 L580.3,134.6 L581.0,134.4 L581.7,134.0 L582.4,133.6 L583.0,133.6 L583.7,133.8 L584.4,133.9 L585.1,134.0 L585.7,134.0 L586.4,134.1 L587.1,134.1 L587.7,134.1 L588.4,133.9 L589.1,133.8 L589.8,133.6 L590.4,133.4 L591.1,133.2 L591.8,133.1 L592.4,133.0 L593.1,132.8 L593.8,132.5 L594.5,132.2 L595.1,132.0 L595.8,132.0 L596.5,132.0 L597.1,132.0 L597.8,132.0 L598.5,132.2 L599.2,132.3 L599.8,132.1 L600.5,131.8 L601.2,131.6 L601.9,131.7 L602.5,132.0 L603.2,132.1 L603.9,131.9 L604.5,131.7 L605.2,131.5 L605.9,131.3 L606.6,131.1 L607.2,131.0 L607.9,131.0 L608.6,130.9 L609.2,130.8 L609.9,130.7 L610.6,130.5 L611.3,130.4 L611.9,130.3 L612.6,130.2 L613.3,130.0 L613.9,129.8 L614.6,129.8 L615.3,130.1 L616.0,130.6 L616.6,131.1 L617.3,131.3 L618.0,131.4 L618.6,131.3 L619.3,130.9 L620.0,130.4 L620.7,129.9 L621.3,129.5 L622.0,129.3 L622.7,129.4 L623.4,129.5 L624.0,129.5 L624.7,129.5 L625.4,129.7 L626.0,129.9 L626.7,129.9 L627.4,129.5 L628.1,129.0 L628.7,128.5 L629.4,128.2 L630.1,128.2 L630.7,128.5 L631.4,128.8 L632.1,129.0 L632.8,129.0 L633.4,128.9 L634.1,128.9 L634.8,128.9 L635.4,128.9 L636.1,128.7 L636.8,128.6 L637.5,128.7 L638.1,128.9 L638.8,128.9 L639.5,128.7 L640.2,128.4 L640.8,128.2 L641.5,128.2 L642.2,128.3 L642.8,128.3 L643.5,128.1 L644.2,127.9 L644.9,127.8 L645.5,127.9 L646.2,127.9 L646.9,127.8 L647.5,127.8 L648.2,127.8 L648.9,127.8 L649.6,127.9 L650.2,128.0 L650.9,128.0 L651.6,127.9 L652.2,127.8 L652.9,127.8 L653.6,127.7 L654.3,127.6 L654.9,127.3 L655.6,127.0 L656.3,126.9 L657.0,127.1 L657.6,127.4 L658.3,127.6 L659.0,127.7 L659.6,127.8 L660.3,127.9 L661.0,127.9 L661.7,128.0 L662.3,127.9 L663.0,127.8" fill="none" stroke="rgb(40,28,255)" stroke-width="1.9" stroke-linejoin="round" stroke-linecap="round"/>
<path d="M435.2,113.6 L435.9,114.5 L436.5,115.4 L437.2,116.2 L437.9,116.9 L438.6,117.5 L439.2,118.1 L439.9,118.6 L440.6,119.0 L441.2,119.5 L441.9,119.8 L442.6,120.0 L443.3,120.2 L443.9,120.4 L444.6,120.5 L445.3,120.6 L446.0,120.4 L446.6,119.8 L447.3,118.9 L448.0,117.7 L448.6,115.5 L449.3,111.0 L450.0,105.1 L450.7,98.9 L451.3,92.7 L452.0,85.5 L452.7,78.1 L453.3,71.4 L454.0,65.4 L454.7,59.0 L455.4,53.5 L456.0,50.4 L456.7,50.7 L457.4,53.9 L458.0,58.6 L458.7,63.7 L459.4,70.0 L460.1,77.8 L460.7,85.2 L461.4,91.0 L462.1,96.4 L462.8,101.3 L463.4,105.7 L464.1,109.5 L464.8,112.7 L465.4,115.5 L466.1,118.0 L466.8,120.3 L467.5,122.4 L468.1,124.2 L468.8,125.9 L469.5,127.2 L470.1,128.4 L470.8,129.5 L471.5,130.7 L472.2,131.9 L472.8,133.4 L473.5,134.9 L474.2,136.4 L474.8,138.2 L475.5,140.4 L476.2,143.3 L476.9,149.0 L477.5,156.5 L478.2,164.4 L478.9,173.0 L479.6,181.9 L480.2,190.8 L480.9,197.4 L481.6,194.7 L482.2,190.5 L482.9,187.7 L483.6,185.1 L484.3,183.0 L484.9,181.3 L485.6,179.7 L486.3,178.3 L486.9,176.9 L487.6,175.4 L488.3,173.8 L489.0,172.2 L489.6,170.6 L490.3,169.3 L491.0,168.0 L491.6,166.9 L492.3,165.9 L493.0,165.0 L493.7,164.3 L494.3,163.6 L495.0,163.0 L495.7,162.5 L496.3,162.0 L497.0,161.5 L497.7,160.9 L498.4,160.3 L499.0,159.7 L499.7,159.1 L500.4,158.6 L501.1,158.1 L501.7,157.6 L502.4,157.3 L503.1,157.0 L503.7,156.8 L504.4,156.4 L505.1,156.1 L505.8,155.8 L506.4,155.6 L507.1,155.4 L507.8,155.1 L508.4,154.8 L509.1,154.4 L509.8,154.0 L510.5,153.6 L511.1,153.3 L511.8,153.0 L512.5,152.8 L513.1,152.7 L513.8,152.6 L514.5,152.4 L515.2,152.2 L515.8,151.9 L516.5,151.5 L517.2,151.3 L517.9,151.1 L518.5,151.0 L519.2,150.8 L519.9,150.7 L520.5,150.5 L521.2,150.3 L521.9,150.1 L522.6,149.9 L523.2,149.9 L523.9,149.9 L524.6,150.0 L525.2,150.0 L525.9,149.7 L526.6,149.3 L527.3,148.8 L527.9,148.6 L528.6,148.4 L529.3,148.3 L529.9,148.2 L530.6,147.9 L531.3,147.4 L532.0,146.8 L532.6,146.4 L533.3,146.1 L534.0,146.0 L534.7,145.9 L535.3,145.9 L536.0,145.8 L536.7,145.8 L537.3,145.7 L538.0,145.5 L538.7,145.2 L539.4,144.8 L540.0,144.4 L540.7,144.3 L541.4,144.3 L542.0,144.3 L542.7,144.0 L543.4,143.5 L544.1,142.9 L544.7,142.5 L545.4,142.5 L546.1,142.8 L546.7,142.8 L547.4,142.6 L548.1,142.3 L548.8,141.9 L549.4,141.5 L550.1,141.2 L550.8,141.0 L551.5,141.0 L552.1,141.1 L552.8,141.2 L553.5,141.3 L554.1,141.1 L554.8,140.7 L555.5,140.3 L556.2,140.0 L556.8,139.9 L557.5,139.9 L558.2,139.9 L558.8,139.9 L559.5,139.8 L560.2,139.6 L560.9,139.5 L561.5,139.4 L562.2,139.1 L562.9,138.7 L563.5,138.3 L564.2,137.9 L564.9,137.7 L565.6,137.6 L566.2,137.5 L566.9,137.4 L567.6,137.4 L568.3,137.3 L568.9,137.3 L569.6,137.4 L570.3,137.5 L570.9,137.4 L571.6,137.2 L572.3,136.9 L573.0,136.6 L573.6,136.4 L574.3,136.4 L575.0,136.4 L575.6,136.4 L576.3,136.4 L577.0,136.5 L577.7,136.7 L578.3,136.8 L579.0,136.7 L579.7,136.4 L580.3,136.0 L581.0,135.7 L581.7,135.4 L582.4,135.4 L583.0,135.5 L583.7,135.7 L584.4,135.8 L585.1,135.7 L585.7,135.5 L586.4,135.2 L587.1,134.9 L587.7,134.6 L588.4,134.6 L589.1,134.7 L589.8,134.8 L590.4,134.8 L591.1,134.6 L591.8,134.4 L592.4,134.3 L593.1,134.1 L593.8,133.8 L594.5,133.5 L595.1,133.3 L595.8,133.3 L596.5,133.6 L597.1,133.9 L597.8,134.0 L598.5,133.8 L599.2,133.4 L599.8,133.1 L600.5,133.1 L601.2,133.2 L601.9,133.4 L602.5,133.5 L603.2,133.5 L603.9,133.3 L604.5,133.0 L605.2,132.9 L605.9,132.8 L606.6,132.6 L607.2,132.3 L607.9,132.0 L608.6,131.9 L609.2,132.0 L609.9,132.2 L610.6,132.2 L611.3,132.0 L611.9,131.7 L612.6,131.5 L613.3,131.6 L613.9,131.8 L614.6,132.0 L615.3,131.8 L616.0,131.6 L616.6,131.4 L617.3,131.4 L618.0,131.4 L618.6,131.5 L619.3,131.4 L620.0,131.1 L620.7,130.7 L621.3,130.5 L622.0,130.5 L622.7,130.6 L623.4,130.6 L624.0,130.4 L624.7,130.3 L625.4,130.4 L626.0,130.7 L626.7,130.9 L627.4,130.7 L628.1,130.6 L628.7,130.5 L629.4,130.6 L630.1,130.4 L630.7,130.0 L631.4,129.9 L632.1,130.0 L632.8,130.3 L633.4,130.5 L634.1,130.6 L634.8,130.3 L635.4,130.0 L636.1,129.8 L636.8,129.9 L637.5,130.1 L638.1,130.0 L638.8,129.7 L639.5,129.6 L640.2,129.7 L640.8,130.0 L641.5,130.0 L642.2,129.9 L642.8,129.5 L643.5,129.2 L644.2,129.1 L644.9,129.2 L645.5,129.4 L646.2,129.4 L646.9,129.3 L647.5,129.3 L648.2,129.1 L648.9,128.9 L649.6,128.7 L650.2,128.7 L650.9,128.8 L651.6,129.0 L652.2,129.2 L652.9,129.3 L653.6,129.3 L654.3,129.3 L654.9,129.1 L655.6,128.7 L656.3,128.2 L657.0,127.6 L657.6,127.4 L658.3,127.3 L659.0,127.3 L659.6,127.5 L660.3,127.7 L661.0,128.0 L661.7,128.1 L662.3,128.1 L663.0,128.1" fill="none" stroke="rgb(28,12,250)" stroke-width="2.0" stroke-linejoin="round" stroke-linecap="round"/>
<path d="M435.2,127.5 L435.9,127.4 L436.5,127.4 L437.2,127.3 L437.9,127.3 L438.6,127.3 L439.2,127.2 L439.9,127.1 L440.6,127.0 L441.2,126.8 L441.9,126.6 L442.6,126.5 L443.3,126.3 L443.9,126.2 L444.6,126.2 L445.3,126.2 L446.0,126.4 L446.6,126.6 L447.3,126.8 L448.0,127.1 L448.6,127.4 L449.3,127.8 L450.0,128.3 L450.7,128.6 L451.3,128.2 L452.0,126.9 L452.7,125.3 L453.3,124.3 L454.0,124.5 L454.7,125.8 L455.4,127.4 L456.0,128.6 L456.7,129.6 L457.4,130.6 L458.0,131.2 L458.7,131.8 L459.4,132.2 L460.1,132.4 L460.7,132.7 L461.4,132.8 L462.1,132.7 L462.8,132.4 L463.4,132.0 L464.1,131.2 L464.8,130.2 L465.4,129.1 L466.1,127.8 L466.8,126.4 L467.5,125.0 L468.1,123.6 L468.8,122.4 L469.5,121.1 L470.1,119.9 L470.8,118.7 L471.5,117.4 L472.2,116.0 L472.8,114.6 L473.5,113.0 L474.2,111.5 L474.8,110.0 L475.5,108.6 L476.2,107.1 L476.9,105.6 L477.5,104.1 L478.2,102.7 L478.9,101.4 L479.6,100.4 L480.2,99.5 L480.9,98.5 L481.6,97.6 L482.2,96.9 L482.9,96.4 L483.6,96.2 L484.3,96.4 L484.9,96.8 L485.6,97.3 L486.3,97.8 L486.9,98.2 L487.6,98.7 L488.3,99.1 L489.0,99.5 L489.6,99.9 L490.3,100.3 L491.0,100.6 L491.6,100.9 L492.3,101.2 L493.0,101.5 L493.7,101.7 L494.3,102.0 L495.0,102.2 L495.7,102.5 L496.3,102.7 L497.0,103.0 L497.7,103.3 L498.4,103.5 L499.0,103.7 L499.7,103.9 L500.4,104.0 L501.1,104.2 L501.7,104.5 L502.4,104.7 L503.1,104.8 L503.7,104.9 L504.4,105.0 L505.1,105.2 L505.8,105.5 L506.4,105.6 L507.1,105.6 L507.8,105.6 L508.4,105.6 L509.1,105.7 L509.8,105.8 L510.5,106.0 L511.1,106.1 L511.8,106.2 L512.5,106.2 L513.1,106.1 L513.8,106.2 L514.5,106.4 L515.2,106.6 L515.8,106.8 L516.5,106.8 L517.2,106.7 L517.9,106.6 L518.5,106.6 L519.2,106.8 L519.9,107.1 L520.5,107.4 L521.2,107.7 L521.9,107.8 L522.6,107.7 L523.2,107.6 L523.9,107.6 L524.6,107.5 L525.2,107.6 L525.9,107.6 L526.6,107.7 L527.3,107.9 L527.9,108.2 L528.6,108.3 L529.3,108.3 L529.9,108.1 L530.6,108.0 L531.3,108.1 L532.0,108.5 L532.6,108.8 L533.3,109.0 L534.0,109.0 L534.7,108.9 L535.3,108.8 L536.0,108.9 L536.7,109.2 L537.3,109.3 L538.0,109.3 L538.7,109.0 L539.4,108.6 L540.0,108.4 L540.7,108.5 L541.4,108.7 L542.0,109.1 L542.7,109.7 L543.4,110.1 L544.1,110.2 L544.7,110.0 L545.4,109.7 L546.1,109.3 L546.7,109.1 L547.4,109.1 L548.1,109.1 L548.8,109.2 L549.4,109.2 L550.1,109.3 L550.8,109.4 L551.5,109.4 L552.1,109.3 L552.8,109.2 L553.5,109.1 L554.1,109.1 L554.8,109.2 L555.5,109.5 L556.2,109.8 L556.8,110.0 L557.5,110.0 L558.2,110.0 L558.8,110.3 L559.5,110.6 L560.2,110.9 L560.9,111.0 L561.5,110.8 L562.2,110.6 L562.9,110.6 L563.5,110.4 L564.2,110.2 L564.9,110.0 L565.6,110.0 L566.2,110.2 L566.9,110.5 L567.6,110.8 L568.3,111.1 L568.9,111.2 L569.6,111.2 L570.3,111.1 L570.9,111.1 L571.6,111.2 L572.3,111.1 L573.0,110.9 L573.6,110.6 L574.3,110.4 L575.0,110.5 L575.6,110.7 L576.3,110.8 L577.0,110.9 L577.7,111.0 L578.3,111.0 L579.0,111.0 L579.7,111.0 L580.3,110.8 L581.0,110.6 L581.7,110.5 L582.4,110.7 L583.0,111.1 L583.7,111.4 L584.4,111.5 L585.1,111.5 L585.7,111.5 L586.4,111.5 L587.1,111.5 L587.7,111.5 L588.4,111.5 L589.1,111.6 L589.8,111.6 L590.4,111.5 L591.1,111.4 L591.8,111.5 L592.4,111.5 L593.1,111.6 L593.8,111.6 L594.5,111.6 L595.1,111.6 L595.8,111.6 L596.5,111.8 L597.1,112.0 L597.8,112.2 L598.5,112.3 L599.2,112.3 L599.8,112.3 L600.5,112.4 L601.2,112.5 L601.9,112.5 L602.5,112.2 L603.2,111.8 L603.9,111.4 L604.5,111.2 L605.2,111.4 L605.9,111.9 L606.6,112.3 L607.2,112.4 L607.9,112.4 L608.6,112.3 L609.2,112.4 L609.9,112.4 L610.6,112.4 L611.3,112.3 L611.9,112.3 L612.6,112.4 L613.3,112.5 L613.9,112.5 L614.6,112.4 L615.3,112.3 L616.0,112.3 L616.6,112.3 L617.3,112.5 L618.0,112.7 L618.6,112.6 L619.3,112.4 L620.0,112.3 L620.7,112.3 L621.3,112.6 L622.0,112.8 L622.7,112.7 L623.4,112.6 L624.0,112.6 L624.7,112.9 L625.4,113.3 L626.0,113.4 L626.7,113.2 L627.4,112.9 L628.1,112.8 L628.7,112.8 L629.4,112.7 L630.1,112.7 L630.7,112.8 L631.4,113.0 L632.1,113.0 L632.8,113.0 L633.4,113.2 L634.1,113.5 L634.8,113.6 L635.4,113.6 L636.1,113.5 L636.8,113.2 L637.5,113.0 L638.1,113.1 L638.8,113.2 L639.5,113.3 L640.2,113.2 L640.8,113.2 L641.5,113.2 L642.2,113.2 L642.8,113.1 L643.5,112.9 L644.2,112.9 L644.9,113.0 L645.5,113.2 L646.2,113.3 L646.9,113.2 L647.5,113.0 L648.2,113.0 L648.9,113.1 L649.6,113.3 L650.2,113.4 L650.9,113.6 L651.6,113.8 L652.2,113.8 L652.9,113.6 L653.6,113.3 L654.3,113.1 L654.9,113.0 L655.6,113.0 L656.3,113.1 L657.0,113.4 L657.6,113.6 L658.3,113.5 L659.0,113.2 L659.6,113.1 L660.3,113.1 L661.0,113.3 L661.7,113.5 L662.3,113.4 L663.0,113.3" fill="none" stroke="rgb(238,168,168)" stroke-width="1.15" stroke-linejoin="round" stroke-linecap="round"/>
<path d="M435.2,127.5 L435.9,127.5 L436.5,127.5 L437.2,127.5 L437.9,127.4 L438.6,127.3 L439.2,127.2 L439.9,127.2 L440.6,127.0 L441.2,126.9 L441.9,126.7 L442.6,126.5 L443.3,126.3 L443.9,126.2 L444.6,126.2 L445.3,126.3 L446.0,126.4 L446.6,126.6 L447.3,126.8 L448.0,127.0 L448.6,127.3 L449.3,127.8 L450.0,128.3 L450.7,128.6 L451.3,128.4 L452.0,127.6 L452.7,126.6 L453.3,125.9 L454.0,126.3 L454.7,128.1 L455.4,130.2 L456.0,131.7 L456.7,133.2 L457.4,134.4 L458.0,135.3 L458.7,136.1 L459.4,136.7 L460.1,137.0 L460.7,137.3 L461.4,137.4 L462.1,137.2 L462.8,136.9 L463.4,136.4 L464.1,135.4 L464.8,134.0 L465.4,132.6 L466.1,130.9 L466.8,128.9 L467.5,127.0 L468.1,125.2 L468.8,123.6 L469.5,121.9 L470.1,120.3 L470.8,118.7 L471.5,117.0 L472.2,115.2 L472.8,113.2 L473.5,111.3 L474.2,109.4 L474.8,107.5 L475.5,105.7 L476.2,103.8 L476.9,101.9 L477.5,99.9 L478.2,98.1 L478.9,96.5 L479.6,95.2 L480.2,93.9 L480.9,92.6 L481.6,91.5 L482.2,90.6 L482.9,90.0 L483.6,89.9 L484.3,90.2 L484.9,90.7 L485.6,91.3 L486.3,91.9 L486.9,92.5 L487.6,93.1 L488.3,93.7 L489.0,94.2 L489.6,94.7 L490.3,95.1 L491.0,95.5 L491.6,95.9 L492.3,96.3 L493.0,96.7 L493.7,97.1 L494.3,97.5 L495.0,97.9 L495.7,98.3 L496.3,98.8 L497.0,99.2 L497.7,99.6 L498.4,99.8 L499.0,100.1 L499.7,100.4 L500.4,100.6 L501.1,100.8 L501.7,101.0 L502.4,101.2 L503.1,101.3 L503.7,101.5 L504.4,101.8 L505.1,102.0 L505.8,102.3 L506.4,102.5 L507.1,102.7 L507.8,102.7 L508.4,102.7 L509.1,102.6 L509.8,102.6 L510.5,102.7 L511.1,102.9 L511.8,103.2 L512.5,103.5 L513.1,103.7 L513.8,103.7 L514.5,103.7 L515.2,103.9 L515.8,104.0 L516.5,104.0 L517.2,104.1 L517.9,104.2 L518.5,104.3 L519.2,104.4 L519.9,104.5 L520.5,104.6 L521.2,104.6 L521.9,104.6 L522.6,104.7 L523.2,105.1 L523.9,105.6 L524.6,106.0 L525.2,106.0 L525.9,105.9 L526.6,105.8 L527.3,105.9 L527.9,106.1 L528.6,106.4 L529.3,106.6 L529.9,106.7 L530.6,106.8 L531.3,106.9 L532.0,107.0 L532.6,107.0 L533.3,107.0 L534.0,106.9 L534.7,106.9 L535.3,107.0 L536.0,107.1 L536.7,107.1 L537.3,107.1 L538.0,107.0 L538.7,106.9 L539.4,106.8 L540.0,107.0 L540.7,107.4 L541.4,107.7 L542.0,107.8 L542.7,107.7 L543.4,107.6 L544.1,107.5 L544.7,107.3 L545.4,107.1 L546.1,107.1 L546.7,107.1 L547.4,107.2 L548.1,107.4 L548.8,107.5 L549.4,107.4 L550.1,107.5 L550.8,107.7 L551.5,107.9 L552.1,108.0 L552.8,108.0 L553.5,108.1 L554.1,108.2 L554.8,108.2 L555.5,108.3 L556.2,108.4 L556.8,108.5 L557.5,108.6 L558.2,108.5 L558.8,108.4 L559.5,108.4 L560.2,108.4 L560.9,108.3 L561.5,108.1 L562.2,107.9 L562.9,107.9 L563.5,108.1 L564.2,108.2 L564.9,108.3 L565.6,108.3 L566.2,108.2 L566.9,108.1 L567.6,108.0 L568.3,108.1 L568.9,108.3 L569.6,108.7 L570.3,109.0 L570.9,109.2 L571.6,109.2 L572.3,109.1 L573.0,109.0 L573.6,108.9 L574.3,108.8 L575.0,108.6 L575.6,108.4 L576.3,108.4 L577.0,108.6 L577.7,108.8 L578.3,108.9 L579.0,109.1 L579.7,109.5 L580.3,109.9 L581.0,110.1 L581.7,110.1 L582.4,110.0 L583.0,109.9 L583.7,109.8 L584.4,109.8 L585.1,109.8 L585.7,109.8 L586.4,109.8 L587.1,109.8 L587.7,109.9 L588.4,110.0 L589.1,110.1 L589.8,110.2 L590.4,110.2 L591.1,110.1 L591.8,110.1 L592.4,110.3 L593.1,110.6 L593.8,110.7 L594.5,110.6 L595.1,110.5 L595.8,110.5 L596.5,110.6 L597.1,110.6 L597.8,110.5 L598.5,110.4 L599.2,110.4 L599.8,110.5 L600.5,110.6 L601.2,110.6 L601.9,110.5 L602.5,110.4 L603.2,110.5 L603.9,110.6 L604.5,110.7 L605.2,110.8 L605.9,110.8 L606.6,110.8 L607.2,111.0 L607.9,111.1 L608.6,111.3 L609.2,111.4 L609.9,111.3 L610.6,111.2 L611.3,111.0 L611.9,110.9 L612.6,110.8 L613.3,110.7 L613.9,110.6 L614.6,110.6 L615.3,110.7 L616.0,110.8 L616.6,110.9 L617.3,110.9 L618.0,110.8 L618.6,110.7 L619.3,110.6 L620.0,110.7 L620.7,110.8 L621.3,110.8 L622.0,110.8 L622.7,110.9 L623.4,111.1 L624.0,111.2 L624.7,111.2 L625.4,111.3 L626.0,111.3 L626.7,111.5 L627.4,111.6 L628.1,111.7 L628.7,111.7 L629.4,111.7 L630.1,111.7 L630.7,111.6 L631.4,111.6 L632.1,111.5 L632.8,111.6 L633.4,111.7 L634.1,111.8 L634.8,111.8 L635.4,111.7 L636.1,111.4 L636.8,111.2 L637.5,111.2 L638.1,111.3 L638.8,111.3 L639.5,111.2 L640.2,111.1 L640.8,111.2 L641.5,111.5 L642.2,111.8 L642.8,112.2 L643.5,112.4 L644.2,112.3 L644.9,112.1 L645.5,111.9 L646.2,111.8 L646.9,112.0 L647.5,112.1 L648.2,112.0 L648.9,111.8 L649.6,111.7 L650.2,111.8 L650.9,111.8 L651.6,111.7 L652.2,111.6 L652.9,111.8 L653.6,112.0 L654.3,112.2 L654.9,112.3 L655.6,112.4 L656.3,112.5 L657.0,112.4 L657.6,112.3 L658.3,112.1 L659.0,112.0 L659.6,112.0 L660.3,112.1 L661.0,112.4 L661.7,112.6 L662.3,112.8 L663.0,112.9" fill="none" stroke="rgb(232,136,136)" stroke-width="1.15" stroke-linejoin="round" stroke-linecap="round"/>
<path d="M435.2,114.7 L435.9,114.4 L436.5,114.2 L437.2,113.9 L437.9,113.6 L438.6,113.3 L439.2,113.0 L439.9,112.6 L440.6,112.2 L441.2,111.8 L441.9,111.3 L442.6,110.9 L443.3,110.5 L443.9,110.2 L444.6,110.0 L445.3,110.2 L446.0,110.6 L446.6,111.2 L447.3,112.0 L448.0,112.9 L448.6,114.0 L449.3,115.5 L450.0,117.4 L450.7,119.3 L451.3,121.3 L452.0,123.5 L452.7,125.8 L453.3,128.2 L454.0,130.6 L454.7,133.3 L455.4,135.8 L456.0,138.2 L456.7,140.5 L457.4,142.5 L458.0,143.9 L458.7,145.1 L459.4,145.9 L460.1,146.5 L460.7,146.9 L461.4,147.0 L462.1,146.8 L462.8,146.3 L463.4,145.4 L464.1,143.9 L464.8,141.8 L465.4,139.6 L466.1,137.0 L466.8,134.0 L467.5,131.1 L468.1,128.5 L468.8,126.0 L469.5,123.6 L470.1,121.2 L470.8,118.7 L471.5,116.1 L472.2,113.4 L472.8,110.7 L473.5,107.9 L474.2,105.2 L474.8,102.5 L475.5,99.8 L476.2,97.1 L476.9,94.3 L477.5,91.5 L478.2,88.9 L478.9,86.7 L479.6,84.8 L480.2,83.0 L480.9,81.2 L481.6,79.6 L482.2,78.2 L482.9,77.4 L483.6,77.2 L484.3,77.6 L484.9,78.4 L485.6,79.3 L486.3,80.2 L486.9,80.9 L487.6,81.7 L488.3,82.5 L489.0,83.3 L489.6,84.1 L490.3,84.8 L491.0,85.5 L491.6,86.2 L492.3,86.8 L493.0,87.5 L493.7,88.2 L494.3,88.8 L495.0,89.4 L495.7,90.0 L496.3,90.6 L497.0,91.2 L497.7,91.8 L498.4,92.3 L499.0,92.8 L499.7,93.3 L500.4,93.7 L501.1,94.1 L501.7,94.5 L502.4,94.9 L503.1,95.3 L503.7,95.7 L504.4,96.0 L505.1,96.4 L505.8,96.8 L506.4,97.1 L507.1,97.4 L507.8,97.7 L508.4,97.9 L509.1,98.2 L509.8,98.5 L510.5,98.8 L511.1,99.0 L511.8,99.3 L512.5,99.4 L513.1,99.7 L513.8,99.9 L514.5,100.1 L515.2,100.1 L515.8,100.0 L516.5,100.0 L517.2,100.1 L517.9,100.3 L518.5,100.6 L519.2,100.9 L519.9,101.3 L520.5,101.6 L521.2,101.7 L521.9,101.6 L522.6,101.6 L523.2,101.7 L523.9,101.9 L524.6,102.3 L525.2,102.7 L525.9,103.1 L526.6,103.3 L527.3,103.3 L527.9,103.3 L528.6,103.4 L529.3,103.5 L529.9,103.5 L530.6,103.6 L531.3,103.6 L532.0,103.7 L532.6,103.8 L533.3,103.8 L534.0,103.8 L534.7,103.7 L535.3,103.7 L536.0,103.8 L536.7,103.7 L537.3,103.6 L538.0,103.4 L538.7,103.2 L539.4,103.2 L540.0,103.4 L540.7,103.8 L541.4,104.2 L542.0,104.5 L542.7,104.6 L543.4,104.6 L544.1,104.6 L544.7,104.7 L545.4,104.6 L546.1,104.6 L546.7,104.5 L547.4,104.6 L548.1,104.8 L548.8,105.1 L549.4,105.4 L550.1,105.4 L550.8,105.1 L551.5,104.8 L552.1,104.7 L552.8,104.7 L553.5,104.8 L554.1,105.2 L554.8,105.7 L555.5,106.0 L556.2,106.1 L556.8,106.0 L557.5,105.9 L558.2,105.8 L558.8,105.5 L559.5,105.4 L560.2,105.3 L560.9,105.2 L561.5,105.1 L562.2,105.0 L562.9,105.3 L563.5,105.7 L564.2,106.0 L564.9,106.3 L565.6,106.5 L566.2,106.7 L566.9,107.0 L567.6,107.2 L568.3,107.2 L568.9,107.2 L569.6,107.2 L570.3,107.3 L570.9,107.3 L571.6,107.2 L572.3,107.0 L573.0,106.9 L573.6,106.9 L574.3,107.0 L575.0,107.0 L575.6,106.8 L576.3,106.7 L577.0,106.7 L577.7,106.8 L578.3,106.9 L579.0,107.0 L579.7,107.1 L580.3,107.2 L581.0,107.2 L581.7,107.2 L582.4,107.2 L583.0,107.2 L583.7,107.3 L584.4,107.6 L585.1,107.9 L585.7,108.1 L586.4,108.0 L587.1,108.0 L587.7,108.0 L588.4,108.0 L589.1,108.0 L589.8,108.1 L590.4,108.3 L591.1,108.5 L591.8,108.6 L592.4,108.5 L593.1,108.4 L593.8,108.5 L594.5,108.7 L595.1,108.8 L595.8,108.9 L596.5,108.8 L597.1,108.8 L597.8,108.8 L598.5,108.9 L599.2,108.7 L599.8,108.6 L600.5,108.5 L601.2,108.5 L601.9,108.5 L602.5,108.6 L603.2,108.7 L603.9,108.8 L604.5,108.9 L605.2,108.9 L605.9,109.0 L606.6,108.9 L607.2,108.8 L607.9,108.6 L608.6,108.6 L609.2,108.6 L609.9,108.6 L610.6,108.8 L611.3,109.1 L611.9,109.2 L612.6,109.1 L613.3,109.1 L613.9,109.1 L614.6,109.2 L615.3,109.5 L616.0,109.7 L616.6,109.9 L617.3,110.1 L618.0,110.1 L618.6,110.0 L619.3,110.0 L620.0,110.1 L620.7,110.3 L621.3,110.1 L622.0,109.7 L622.7,109.1 L623.4,108.9 L624.0,109.0 L624.7,109.3 L625.4,109.6 L626.0,109.7 L626.7,109.8 L627.4,109.7 L628.1,109.7 L628.7,109.9 L629.4,110.0 L630.1,110.1 L630.7,109.9 L631.4,109.7 L632.1,109.4 L632.8,109.4 L633.4,109.6 L634.1,109.9 L634.8,110.1 L635.4,110.0 L636.1,109.8 L636.8,109.7 L637.5,109.6 L638.1,109.7 L638.8,109.7 L639.5,109.7 L640.2,109.8 L640.8,109.9 L641.5,109.9 L642.2,109.9 L642.8,109.8 L643.5,110.0 L644.2,110.3 L644.9,110.7 L645.5,110.8 L646.2,110.6 L646.9,110.3 L647.5,110.2 L648.2,110.1 L648.9,110.1 L649.6,110.3 L650.2,110.5 L650.9,110.6 L651.6,110.7 L652.2,110.7 L652.9,110.6 L653.6,110.7 L654.3,110.7 L654.9,110.7 L655.6,110.5 L656.3,110.2 L657.0,110.0 L657.6,109.9 L658.3,110.0 L659.0,110.0 L659.6,110.1 L660.3,110.1 L661.0,110.2 L661.7,110.3 L662.3,110.3 L663.0,110.2" fill="none" stroke="rgb(218,72,72)" stroke-width="1.6" stroke-linejoin="round" stroke-linecap="round"/>
<path d="M435.2,112.2 L435.9,111.8 L436.5,111.2 L437.2,110.8 L437.9,110.3 L438.6,109.8 L439.2,109.4 L439.9,108.8 L440.6,108.2 L441.2,107.5 L441.9,106.8 L442.6,106.1 L443.3,105.4 L443.9,104.9 L444.6,104.6 L445.3,104.8 L446.0,105.5 L446.6,106.5 L447.3,107.8 L448.0,109.1 L448.6,110.9 L449.3,113.4 L450.0,116.4 L450.7,119.5 L451.3,122.3 L452.0,125.3 L452.7,128.4 L453.3,131.4 L454.0,134.2 L454.7,137.0 L455.4,139.6 L456.0,141.9 L456.7,143.9 L457.4,145.7 L458.0,147.2 L458.7,148.5 L459.4,149.5 L460.1,150.1 L460.7,150.6 L461.4,150.8 L462.1,150.5 L462.8,149.9 L463.4,149.0 L464.1,147.2 L464.8,144.9 L465.4,142.4 L466.1,139.4 L466.8,136.0 L467.5,132.6 L468.1,129.6 L468.8,126.8 L469.5,124.0 L470.1,121.3 L470.8,118.5 L471.5,115.6 L472.2,112.5 L472.8,109.4 L473.5,106.2 L474.2,103.0 L474.8,99.9 L475.5,96.9 L476.2,93.7 L476.9,90.5 L477.5,87.3 L478.2,84.4 L478.9,81.8 L479.6,79.6 L480.2,77.6 L480.9,75.5 L481.6,73.7 L482.2,72.2 L482.9,71.3 L483.6,71.0 L484.3,71.5 L484.9,72.3 L485.6,73.4 L486.3,74.3 L486.9,75.2 L487.6,76.1 L488.3,77.0 L489.0,77.9 L489.6,78.7 L490.3,79.4 L491.0,80.1 L491.6,80.8 L492.3,81.5 L493.0,82.2 L493.7,82.9 L494.3,83.6 L495.0,84.2 L495.7,84.9 L496.3,85.6 L497.0,86.2 L497.7,86.7 L498.4,87.3 L499.0,87.8 L499.7,88.2 L500.4,88.7 L501.1,89.1 L501.7,89.5 L502.4,89.9 L503.1,90.3 L503.7,90.7 L504.4,91.0 L505.1,91.3 L505.8,91.6 L506.4,91.9 L507.1,92.1 L507.8,92.4 L508.4,92.6 L509.1,92.8 L509.8,93.1 L510.5,93.5 L511.1,94.0 L511.8,94.3 L512.5,94.5 L513.1,94.5 L513.8,94.5 L514.5,94.7 L515.2,95.0 L515.8,95.2 L516.5,95.2 L517.2,95.2 L517.9,95.3 L518.5,95.6 L519.2,96.0 L519.9,96.3 L520.5,96.5 L521.2,96.7 L521.9,96.9 L522.6,96.9 L523.2,97.0 L523.9,97.2 L524.6,97.4 L525.2,97.6 L525.9,97.9 L526.6,98.2 L527.3,98.4 L527.9,98.6 L528.6,98.6 L529.3,98.7 L529.9,98.7 L530.6,98.7 L531.3,98.7 L532.0,98.6 L532.6,98.6 L533.3,98.8 L534.0,99.0 L534.7,99.3 L535.3,99.6 L536.0,99.9 L536.7,99.9 L537.3,99.9 L538.0,100.0 L538.7,100.1 L539.4,100.2 L540.0,100.2 L540.7,100.1 L541.4,100.2 L542.0,100.4 L542.7,100.7 L543.4,100.8 L544.1,100.7 L544.7,100.6 L545.4,100.6 L546.1,100.7 L546.7,100.8 L547.4,100.8 L548.1,100.8 L548.8,100.8 L549.4,101.0 L550.1,101.3 L550.8,101.4 L551.5,101.4 L552.1,101.3 L552.8,101.3 L553.5,101.4 L554.1,101.9 L554.8,102.3 L555.5,102.5 L556.2,102.4 L556.8,102.2 L557.5,102.0 L558.2,101.8 L558.8,101.7 L559.5,101.6 L560.2,101.8 L560.9,102.0 L561.5,102.2 L562.2,102.3 L562.9,102.2 L563.5,102.0 L564.2,102.0 L564.9,102.1 L565.6,102.4 L566.2,102.6 L566.9,102.7 L567.6,102.6 L568.3,102.6 L568.9,102.8 L569.6,103.1 L570.3,103.3 L570.9,103.4 L571.6,103.5 L572.3,103.7 L573.0,103.7 L573.6,103.7 L574.3,103.7 L575.0,103.6 L575.6,103.5 L576.3,103.3 L577.0,103.2 L577.7,103.4 L578.3,103.6 L579.0,103.9 L579.7,104.1 L580.3,104.2 L581.0,104.2 L581.7,104.1 L582.4,104.0 L583.0,104.0 L583.7,104.1 L584.4,104.2 L585.1,104.3 L585.7,104.4 L586.4,104.6 L587.1,104.8 L587.7,104.9 L588.4,104.9 L589.1,104.9 L589.8,104.9 L590.4,104.8 L591.1,104.7 L591.8,104.6 L592.4,104.4 L593.1,104.4 L593.8,104.4 L594.5,104.5 L595.1,104.7 L595.8,104.8 L596.5,104.9 L597.1,105.2 L597.8,105.5 L598.5,105.7 L599.2,105.7 L599.8,105.7 L600.5,105.8 L601.2,105.8 L601.9,105.8 L602.5,105.8 L603.2,105.8 L603.9,105.9 L604.5,106.2 L605.2,106.4 L605.9,106.5 L606.6,106.5 L607.2,106.4 L607.9,106.1 L608.6,105.8 L609.2,105.6 L609.9,105.6 L610.6,105.7 L611.3,105.8 L611.9,105.9 L612.6,105.8 L613.3,105.9 L613.9,106.0 L614.6,106.1 L615.3,106.3 L616.0,106.6 L616.6,107.0 L617.3,107.2 L618.0,107.1 L618.6,107.0 L619.3,106.9 L620.0,106.8 L620.7,106.7 L621.3,106.7 L622.0,106.8 L622.7,107.0 L623.4,107.2 L624.0,107.4 L624.7,107.5 L625.4,107.4 L626.0,107.3 L626.7,107.3 L627.4,107.4 L628.1,107.5 L628.7,107.4 L629.4,107.3 L630.1,107.4 L630.7,107.5 L631.4,107.6 L632.1,107.7 L632.8,107.8 L633.4,107.9 L634.1,107.9 L634.8,107.8 L635.4,107.5 L636.1,107.1 L636.8,106.8 L637.5,106.9 L638.1,107.2 L638.8,107.4 L639.5,107.5 L640.2,107.4 L640.8,107.2 L641.5,107.2 L642.2,107.2 L642.8,107.4 L643.5,107.6 L644.2,107.8 L644.9,107.8 L645.5,107.8 L646.2,107.7 L646.9,107.7 L647.5,107.6 L648.2,107.5 L648.9,107.4 L649.6,107.4 L650.2,107.6 L650.9,107.8 L651.6,108.0 L652.2,108.0 L652.9,108.0 L653.6,107.9 L654.3,107.8 L654.9,107.8 L655.6,107.9 L656.3,107.9 L657.0,107.9 L657.6,107.9 L658.3,108.1 L659.0,108.3 L659.6,108.2 L660.3,108.0 L661.0,107.9 L661.7,107.9 L662.3,107.9 L663.0,107.9" fill="none" stroke="rgb(212,52,52)" stroke-width="1.6" stroke-linejoin="round" stroke-linecap="round"/>
<path d="M435.2,111.7 L435.9,111.3 L436.5,110.8 L437.2,110.3 L437.9,109.8 L438.6,109.3 L439.2,108.7 L439.9,108.2 L440.6,107.6 L441.2,106.8 L441.9,105.9 L442.6,105.1 L443.3,104.4 L443.9,103.9 L444.6,103.8 L445.3,104.0 L446.0,104.7 L446.6,105.8 L447.3,107.0 L448.0,108.5 L448.6,110.3 L449.3,113.0 L450.0,116.2 L450.7,119.5 L451.3,122.6 L452.0,125.9 L452.7,129.2 L453.3,132.5 L454.0,135.6 L454.7,138.7 L455.4,141.6 L456.0,144.2 L456.7,146.6 L457.4,148.7 L458.0,150.4 L458.7,151.9 L459.4,153.1 L460.1,153.8 L460.7,154.3 L461.4,154.4 L462.1,154.1 L462.8,153.5 L463.4,152.5 L464.1,150.5 L464.8,147.9 L465.4,145.2 L466.1,141.8 L466.8,138.1 L467.5,134.3 L468.1,130.9 L468.8,127.7 L469.5,124.6 L470.1,121.5 L470.8,118.4 L471.5,115.2 L472.2,111.9 L472.8,108.4 L473.5,105.0 L474.2,101.5 L474.8,98.1 L475.5,94.7 L476.2,91.2 L476.9,87.6 L477.5,84.1 L478.2,80.9 L478.9,78.0 L479.6,75.6 L480.2,73.3 L480.9,71.0 L481.6,69.0 L482.2,67.3 L482.9,66.3 L483.6,66.0 L484.3,66.4 L484.9,67.4 L485.6,68.6 L486.3,69.6 L486.9,70.6 L487.6,71.6 L488.3,72.6 L489.0,73.5 L489.6,74.4 L490.3,75.2 L491.0,76.0 L491.6,76.8 L492.3,77.6 L493.0,78.3 L493.7,79.0 L494.3,79.7 L495.0,80.4 L495.7,81.1 L496.3,81.8 L497.0,82.6 L497.7,83.3 L498.4,83.9 L499.0,84.5 L499.7,85.0 L500.4,85.4 L501.1,85.9 L501.7,86.4 L502.4,86.9 L503.1,87.3 L503.7,87.6 L504.4,87.9 L505.1,88.2 L505.8,88.5 L506.4,88.8 L507.1,89.1 L507.8,89.4 L508.4,89.8 L509.1,90.1 L509.8,90.4 L510.5,90.6 L511.1,90.8 L511.8,90.8 L512.5,90.9 L513.1,91.1 L513.8,91.2 L514.5,91.4 L515.2,91.5 L515.8,91.6 L516.5,91.7 L517.2,91.9 L517.9,92.4 L518.5,93.0 L519.2,93.4 L519.9,93.6 L520.5,93.6 L521.2,93.8 L521.9,94.2 L522.6,94.5 L523.2,94.7 L523.9,94.8 L524.6,94.8 L525.2,94.7 L525.9,94.7 L526.6,94.9 L527.3,95.1 L527.9,95.4 L528.6,95.8 L529.3,96.2 L529.9,96.5 L530.6,96.7 L531.3,96.7 L532.0,96.7 L532.6,96.7 L533.3,96.8 L534.0,96.8 L534.7,96.8 L535.3,96.9 L536.0,97.1 L536.7,97.4 L537.3,97.5 L538.0,97.5 L538.7,97.4 L539.4,97.4 L540.0,97.5 L540.7,97.6 L541.4,97.6 L542.0,97.6 L542.7,97.7 L543.4,97.8 L544.1,97.8 L544.7,97.8 L545.4,97.7 L546.1,97.8 L546.7,98.1 L547.4,98.4 L548.1,98.7 L548.8,98.8 L549.4,98.7 L550.1,98.6 L550.8,98.4 L551.5,98.3 L552.1,98.4 L552.8,98.6 L553.5,98.7 L554.1,98.9 L554.8,99.0 L555.5,99.0 L556.2,99.0 L556.8,99.1 L557.5,99.3 L558.2,99.5 L558.8,99.4 L559.5,99.3 L560.2,99.3 L560.9,99.3 L561.5,99.4 L562.2,99.5 L562.9,99.6 L563.5,99.7 L564.2,99.9 L564.9,100.2 L565.6,100.6 L566.2,100.9 L566.9,100.9 L567.6,100.8 L568.3,100.6 L568.9,100.5 L569.6,100.4 L570.3,100.3 L570.9,100.3 L571.6,100.4 L572.3,100.5 L573.0,100.5 L573.6,100.5 L574.3,100.5 L575.0,100.6 L575.6,100.7 L576.3,100.7 L577.0,100.8 L577.7,101.1 L578.3,101.4 L579.0,101.7 L579.7,101.7 L580.3,101.7 L581.0,101.9 L581.7,102.3 L582.4,102.7 L583.0,102.9 L583.7,102.8 L584.4,102.5 L585.1,102.3 L585.7,102.2 L586.4,102.4 L587.1,102.5 L587.7,102.6 L588.4,102.5 L589.1,102.3 L589.8,102.3 L590.4,102.4 L591.1,102.5 L591.8,102.6 L592.4,102.7 L593.1,102.8 L593.8,103.0 L594.5,103.3 L595.1,103.4 L595.8,103.4 L596.5,103.3 L597.1,103.3 L597.8,103.3 L598.5,103.4 L599.2,103.3 L599.8,103.3 L600.5,103.5 L601.2,103.8 L601.9,104.1 L602.5,104.2 L603.2,104.2 L603.9,104.4 L604.5,104.7 L605.2,104.8 L605.9,104.6 L606.6,104.4 L607.2,104.3 L607.9,104.4 L608.6,104.7 L609.2,105.1 L609.9,105.3 L610.6,105.2 L611.3,105.1 L611.9,104.9 L612.6,104.9 L613.3,105.0 L613.9,105.1 L614.6,105.1 L615.3,105.0 L616.0,104.9 L616.6,104.8 L617.3,105.0 L618.0,105.4 L618.6,105.7 L619.3,105.8 L620.0,105.6 L620.7,105.4 L621.3,105.1 L622.0,104.9 L622.7,104.9 L623.4,104.9 L624.0,105.2 L624.7,105.4 L625.4,105.6 L626.0,105.6 L626.7,105.6 L627.4,105.7 L628.1,105.9 L628.7,106.0 L629.4,106.2 L630.1,106.1 L630.7,105.9 L631.4,105.7 L632.1,105.7 L632.8,106.0 L633.4,106.3 L634.1,106.5 L634.8,106.4 L635.4,106.2 L636.1,106.0 L636.8,105.9 L637.5,105.9 L638.1,105.9 L638.8,105.8 L639.5,105.8 L640.2,105.8 L640.8,105.7 L641.5,105.6 L642.2,105.6 L642.8,105.7 L643.5,106.0 L644.2,106.3 L644.9,106.8 L645.5,107.1 L646.2,107.2 L646.9,107.1 L647.5,107.0 L648.2,107.0 L648.9,106.9 L649.6,106.8 L650.2,106.5 L650.9,106.2 L651.6,105.9 L652.2,105.8 L652.9,106.0 L653.6,106.3 L654.3,106.4 L654.9,106.2 L655.6,106.1 L656.3,106.1 L657.0,106.2 L657.6,106.4 L658.3,106.6 L659.0,106.8 L659.6,107.0 L660.3,107.1 L661.0,107.1 L661.7,106.9 L662.3,106.7 L663.0,106.5" fill="none" stroke="rgb(206,36,38)" stroke-width="1.6" stroke-linejoin="round" stroke-linecap="round"/>
<path d="M435.2,111.3 L435.9,110.8 L436.5,110.3 L437.2,109.7 L437.9,109.1 L438.6,108.5 L439.2,108.0 L439.9,107.4 L440.6,106.8 L441.2,106.0 L441.9,105.1 L442.6,104.3 L443.3,103.6 L443.9,103.1 L444.6,102.8 L445.3,103.0 L446.0,103.7 L446.6,104.9 L447.3,106.3 L448.0,107.8 L448.6,109.8 L449.3,112.7 L450.0,116.1 L450.7,119.5 L451.3,122.9 L452.0,126.4 L452.7,130.0 L453.3,133.5 L454.0,137.0 L454.7,140.5 L455.4,143.8 L456.0,146.6 L456.7,149.3 L457.4,151.7 L458.0,153.5 L458.7,155.2 L459.4,156.5 L460.1,157.3 L460.7,157.9 L461.4,158.2 L462.1,157.8 L462.8,157.0 L463.4,155.9 L464.1,153.7 L464.8,150.8 L465.4,147.8 L466.1,144.1 L466.8,140.0 L467.5,135.9 L468.1,132.1 L468.8,128.7 L469.5,125.3 L470.1,121.9 L470.8,118.5 L471.5,115.0 L472.2,111.3 L472.8,107.5 L473.5,103.7 L474.2,99.9 L474.8,96.1 L475.5,92.5 L476.2,88.7 L476.9,84.9 L477.5,81.2 L478.2,77.6 L478.9,74.4 L479.6,71.8 L480.2,69.3 L480.9,66.9 L481.6,64.7 L482.2,62.9 L482.9,61.8 L483.6,61.5 L484.3,62.0 L484.9,63.1 L485.6,64.4 L486.3,65.5 L486.9,66.6 L487.6,67.7 L488.3,68.7 L489.0,69.7 L489.6,70.7 L490.3,71.7 L491.0,72.6 L491.6,73.5 L492.3,74.3 L493.0,75.2 L493.7,76.0 L494.3,76.7 L495.0,77.5 L495.7,78.2 L496.3,79.0 L497.0,79.8 L497.7,80.6 L498.4,81.3 L499.0,81.9 L499.7,82.4 L500.4,83.0 L501.1,83.4 L501.7,83.9 L502.4,84.4 L503.1,84.8 L503.7,85.3 L504.4,85.7 L505.1,86.2 L505.8,86.6 L506.4,87.1 L507.1,87.4 L507.8,87.6 L508.4,87.7 L509.1,88.0 L509.8,88.2 L510.5,88.5 L511.1,88.8 L511.8,89.2 L512.5,89.6 L513.1,89.9 L513.8,90.2 L514.5,90.4 L515.2,90.6 L515.8,90.6 L516.5,90.7 L517.2,90.8 L517.9,91.0 L518.5,91.3 L519.2,91.5 L519.9,91.7 L520.5,91.8 L521.2,92.0 L521.9,92.3 L522.6,92.6 L523.2,92.9 L523.9,93.1 L524.6,93.3 L525.2,93.4 L525.9,93.4 L526.6,93.4 L527.3,93.5 L527.9,93.7 L528.6,94.1 L529.3,94.4 L529.9,94.5 L530.6,94.5 L531.3,94.6 L532.0,94.8 L532.6,95.0 L533.3,95.1 L534.0,95.3 L534.7,95.5 L535.3,95.7 L536.0,96.0 L536.7,96.2 L537.3,96.3 L538.0,96.3 L538.7,96.3 L539.4,96.3 L540.0,96.3 L540.7,96.3 L541.4,96.5 L542.0,96.9 L542.7,97.2 L543.4,97.4 L544.1,97.6 L544.7,97.8 L545.4,97.8 L546.1,97.6 L546.7,97.3 L547.4,97.2 L548.1,97.3 L548.8,97.6 L549.4,97.9 L550.1,97.9 L550.8,97.9 L551.5,97.9 L552.1,98.0 L552.8,98.1 L553.5,98.3 L554.1,98.3 L554.8,98.2 L555.5,98.0 L556.2,98.0 L556.8,98.1 L557.5,98.3 L558.2,98.6 L558.8,99.0 L559.5,99.4 L560.2,99.5 L560.9,99.2 L561.5,98.9 L562.2,98.6 L562.9,98.7 L563.5,98.9 L564.2,98.9 L564.9,98.8 L565.6,98.9 L566.2,99.2 L566.9,99.4 L567.6,99.5 L568.3,99.4 L568.9,99.3 L569.6,99.4 L570.3,99.5 L570.9,99.6 L571.6,99.7 L572.3,99.6 L573.0,99.6 L573.6,99.7 L574.3,99.9 L575.0,100.3 L575.6,100.6 L576.3,100.8 L577.0,100.9 L577.7,100.9 L578.3,100.9 L579.0,100.9 L579.7,100.8 L580.3,100.5 L581.0,100.3 L581.7,100.2 L582.4,100.3 L583.0,100.6 L583.7,100.9 L584.4,101.1 L585.1,101.1 L585.7,101.0 L586.4,100.9 L587.1,100.9 L587.7,101.0 L588.4,101.4 L589.1,101.8 L589.8,102.2 L590.4,102.4 L591.1,102.4 L591.8,102.4 L592.4,102.5 L593.1,102.5 L593.8,102.4 L594.5,102.4 L595.1,102.6 L595.8,102.8 L596.5,102.8 L597.1,102.7 L597.8,102.5 L598.5,102.6 L599.2,102.7 L599.8,102.8 L600.5,103.0 L601.2,103.1 L601.9,103.3 L602.5,103.4 L603.2,103.4 L603.9,103.4 L604.5,103.4 L605.2,103.4 L605.9,103.4 L606.6,103.4 L607.2,103.4 L607.9,103.4 L608.6,103.4 L609.2,103.5 L609.9,103.5 L610.6,103.5 L611.3,103.6 L611.9,103.6 L612.6,103.5 L613.3,103.5 L613.9,103.7 L614.6,103.9 L615.3,104.1 L616.0,104.3 L616.6,104.4 L617.3,104.4 L618.0,104.4 L618.6,104.4 L619.3,104.3 L620.0,104.2 L620.7,104.1 L621.3,104.1 L622.0,104.2 L622.7,104.3 L623.4,104.4 L624.0,104.4 L624.7,104.4 L625.4,104.4 L626.0,104.5 L626.7,104.7 L627.4,104.9 L628.1,105.0 L628.7,105.0 L629.4,104.9 L630.1,104.9 L630.7,104.9 L631.4,105.0 L632.1,105.0 L632.8,104.9 L633.4,104.9 L634.1,105.0 L634.8,105.2 L635.4,105.4 L636.1,105.4 L636.8,105.3 L637.5,105.3 L638.1,105.3 L638.8,105.4 L639.5,105.4 L640.2,105.4 L640.8,105.5 L641.5,105.7 L642.2,105.9 L642.8,106.0 L643.5,106.1 L644.2,105.8 L644.9,105.5 L645.5,105.2 L646.2,105.1 L646.9,105.2 L647.5,105.4 L648.2,105.4 L648.9,105.5 L649.6,105.7 L650.2,105.9 L650.9,106.1 L651.6,106.1 L652.2,105.9 L652.9,105.8 L653.6,105.8 L654.3,105.8 L654.9,106.0 L655.6,106.2 L656.3,106.4 L657.0,106.5 L657.6,106.4 L658.3,106.2 L659.0,106.1 L659.6,106.1 L660.3,106.2 L661.0,106.2 L661.7,106.1 L662.3,105.9 L663.0,105.8" fill="none" stroke="rgb(202,26,28)" stroke-width="1.6" stroke-linejoin="round" stroke-linecap="round"/>
<path d="M435.2,111.2 L435.9,110.7 L436.5,110.2 L437.2,109.7 L437.9,109.2 L438.6,108.6 L439.2,108.1 L439.9,107.5 L440.6,106.7 L441.2,105.9 L441.9,105.0 L442.6,104.2 L443.3,103.5 L443.9,103.0 L444.6,102.8 L445.3,103.0 L446.0,103.8 L446.6,104.9 L447.3,106.3 L448.0,107.8 L448.6,109.8 L449.3,112.6 L450.0,116.1 L450.7,119.6 L451.3,123.2 L452.0,126.9 L452.7,130.8 L453.3,134.8 L454.0,138.8 L454.7,143.0 L455.4,147.1 L456.0,150.8 L456.7,154.4 L457.4,157.5 L458.0,159.8 L458.7,161.7 L459.4,163.2 L460.1,164.1 L460.7,164.8 L461.4,165.0 L462.1,164.6 L462.8,163.7 L463.4,162.3 L464.1,159.7 L464.8,156.4 L465.4,152.8 L466.1,148.5 L466.8,143.5 L467.5,138.7 L468.1,134.3 L468.8,130.2 L469.5,126.3 L470.1,122.4 L470.8,118.5 L471.5,114.4 L472.2,110.4 L472.8,106.2 L473.5,102.1 L474.2,98.0 L474.8,93.9 L475.5,90.0 L476.2,85.8 L476.9,81.6 L477.5,77.4 L478.2,73.5 L478.9,70.0 L479.6,67.2 L480.2,64.5 L480.9,61.8 L481.6,59.4 L482.2,57.4 L482.9,56.1 L483.6,55.8 L484.3,56.4 L484.9,57.6 L485.6,59.0 L486.3,60.2 L486.9,61.4 L487.6,62.5 L488.3,63.7 L489.0,64.9 L489.6,66.1 L490.3,67.2 L491.0,68.2 L491.6,69.2 L492.3,70.1 L493.0,71.0 L493.7,71.9 L494.3,72.8 L495.0,73.7 L495.7,74.6 L496.3,75.5 L497.0,76.3 L497.7,77.1 L498.4,77.9 L499.0,78.6 L499.7,79.3 L500.4,80.0 L501.1,80.7 L501.7,81.3 L502.4,81.8 L503.1,82.1 L503.7,82.4 L504.4,82.8 L505.1,83.2 L505.8,83.7 L506.4,84.3 L507.1,84.8 L507.8,85.1 L508.4,85.3 L509.1,85.6 L509.8,85.9 L510.5,86.3 L511.1,86.8 L511.8,87.3 L512.5,87.6 L513.1,87.9 L513.8,88.0 L514.5,88.2 L515.2,88.5 L515.8,88.9 L516.5,89.4 L517.2,89.8 L517.9,90.1 L518.5,90.3 L519.2,90.6 L519.9,90.8 L520.5,91.0 L521.2,91.2 L521.9,91.2 L522.6,91.1 L523.2,91.1 L523.9,91.4 L524.6,92.0 L525.2,92.6 L525.9,93.0 L526.6,93.2 L527.3,93.2 L527.9,93.2 L528.6,93.1 L529.3,93.2 L529.9,93.3 L530.6,93.5 L531.3,93.6 L532.0,93.7 L532.6,93.8 L533.3,94.0 L534.0,94.1 L534.7,94.3 L535.3,94.4 L536.0,94.5 L536.7,94.6 L537.3,94.8 L538.0,95.1 L538.7,95.3 L539.4,95.2 L540.0,95.1 L540.7,94.9 L541.4,94.9 L542.0,95.2 L542.7,95.6 L543.4,95.8 L544.1,95.9 L544.7,95.9 L545.4,96.0 L546.1,96.1 L546.7,96.2 L547.4,96.2 L548.1,96.2 L548.8,96.3 L549.4,96.3 L550.1,96.3 L550.8,96.3 L551.5,96.5 L552.1,96.7 L552.8,96.9 L553.5,97.0 L554.1,97.0 L554.8,97.1 L555.5,97.0 L556.2,96.9 L556.8,96.8 L557.5,96.8 L558.2,97.0 L558.8,97.2 L559.5,97.2 L560.2,97.3 L560.9,97.4 L561.5,97.7 L562.2,98.0 L562.9,98.1 L563.5,98.1 L564.2,98.0 L564.9,98.0 L565.6,98.2 L566.2,98.5 L566.9,98.6 L567.6,98.5 L568.3,98.5 L568.9,98.7 L569.6,98.8 L570.3,98.8 L570.9,98.9 L571.6,99.1 L572.3,99.2 L573.0,99.2 L573.6,99.1 L574.3,99.1 L575.0,99.3 L575.6,99.4 L576.3,99.5 L577.0,99.7 L577.7,99.9 L578.3,100.1 L579.0,100.1 L579.7,100.0 L580.3,99.9 L581.0,100.0 L581.7,100.2 L582.4,100.3 L583.0,100.3 L583.7,100.4 L584.4,100.7 L585.1,101.0 L585.7,101.3 L586.4,101.2 L587.1,101.0 L587.7,101.0 L588.4,101.2 L589.1,101.6 L589.8,101.8 L590.4,102.0 L591.1,102.0 L591.8,102.2 L592.4,102.3 L593.1,102.4 L593.8,102.3 L594.5,102.0 L595.1,101.7 L595.8,101.6 L596.5,101.7 L597.1,101.8 L597.8,102.0 L598.5,102.2 L599.2,102.4 L599.8,102.6 L600.5,102.6 L601.2,102.3 L601.9,102.0 L602.5,101.9 L603.2,102.1 L603.9,102.2 L604.5,102.1 L605.2,102.1 L605.9,102.3 L606.6,102.7 L607.2,103.0 L607.9,103.2 L608.6,103.2 L609.2,103.3 L609.9,103.6 L610.6,103.8 L611.3,103.8 L611.9,103.6 L612.6,103.4 L613.3,103.2 L613.9,103.0 L614.6,102.8 L615.3,102.9 L616.0,103.0 L616.6,103.2 L617.3,103.3 L618.0,103.3 L618.6,103.2 L619.3,103.2 L620.0,103.2 L620.7,103.3 L621.3,103.5 L622.0,103.7 L622.7,103.9 L623.4,104.0 L624.0,104.0 L624.7,103.9 L625.4,103.9 L626.0,103.8 L626.7,103.8 L627.4,103.9 L628.1,104.1 L628.7,104.3 L629.4,104.3 L630.1,104.1 L630.7,103.9 L631.4,103.7 L632.1,103.7 L632.8,103.9 L633.4,104.2 L634.1,104.4 L634.8,104.7 L635.4,104.7 L636.1,104.4 L636.8,104.2 L637.5,104.1 L638.1,104.1 L638.8,104.2 L639.5,104.3 L640.2,104.4 L640.8,104.5 L641.5,104.5 L642.2,104.3 L642.8,104.2 L643.5,104.4 L644.2,104.8 L644.9,105.2 L645.5,105.3 L646.2,105.2 L646.9,105.1 L647.5,105.2 L648.2,105.3 L648.9,105.2 L649.6,105.0 L650.2,104.7 L650.9,104.5 L651.6,104.5 L652.2,104.7 L652.9,105.0 L653.6,105.3 L654.3,105.4 L654.9,105.3 L655.6,105.3 L656.3,105.4 L657.0,105.6 L657.6,105.6 L658.3,105.4 L659.0,105.1 L659.6,105.0 L660.3,104.9 L661.0,104.8 L661.7,104.9 L662.3,105.1 L663.0,105.2" fill="none" stroke="rgb(198,18,22)" stroke-width="1.6" stroke-linejoin="round" stroke-linecap="round"/>
<path d="M435.2,131.4 L435.9,131.1 L436.5,130.8 L437.2,130.6 L437.9,130.5 L438.6,130.3 L439.2,130.1 L439.9,129.9 L440.6,129.6 L441.2,129.3 L441.9,129.1 L442.6,128.9 L443.3,128.6 L443.9,128.5 L444.6,128.4 L445.3,128.3 L446.0,128.4 L446.6,128.7 L447.3,129.2 L448.0,129.8 L448.6,130.5 L449.3,131.2 L450.0,132.0 L450.7,133.0 L451.3,134.1 L452.0,135.2 L452.7,136.3 L453.3,137.4 L454.0,138.3 L454.7,139.2 L455.4,140.0 L456.0,140.6 L456.7,140.9 L457.4,140.7 L458.0,139.8 L458.7,138.4 L459.4,136.7 L460.1,134.8 L460.7,133.0 L461.4,131.3 L462.1,129.7 L462.8,128.0 L463.4,126.3 L464.1,124.6 L464.8,122.9 L465.4,121.3 L466.1,119.6 L466.8,117.9 L467.5,116.2 L468.1,114.5 L468.8,112.8 L469.5,111.1 L470.1,109.4 L470.8,107.7 L471.5,105.9 L472.2,104.0 L472.8,102.0 L473.5,99.5 L474.2,96.1 L474.8,92.2 L475.5,88.0 L476.2,83.8 L476.9,79.1 L477.5,74.4 L478.2,70.2 L478.9,67.2 L479.6,64.7 L480.2,62.9 L480.9,62.4 L481.6,62.8 L482.2,63.6 L482.9,64.6 L483.6,65.7 L484.3,67.0 L484.9,68.6 L485.6,70.3 L486.3,71.9 L486.9,73.6 L487.6,75.3 L488.3,77.0 L489.0,78.7 L489.6,80.3 L490.3,81.8 L491.0,83.2 L491.6,84.6 L492.3,85.9 L493.0,87.1 L493.7,88.2 L494.3,89.1 L495.0,90.0 L495.7,90.9 L496.3,91.8 L497.0,92.6 L497.7,93.3 L498.4,94.0 L499.0,94.7 L499.7,95.3 L500.4,95.8 L501.1,96.3 L501.7,96.7 L502.4,97.1 L503.1,97.3 L503.7,97.5 L504.4,97.9 L505.1,98.3 L505.8,98.8 L506.4,99.2 L507.1,99.4 L507.8,99.7 L508.4,100.0 L509.1,100.3 L509.8,100.7 L510.5,101.1 L511.1,101.5 L511.8,101.8 L512.5,102.0 L513.1,102.2 L513.8,102.6 L514.5,103.1 L515.2,103.6 L515.8,103.9 L516.5,104.1 L517.2,104.3 L517.9,104.3 L518.5,104.3 L519.2,104.4 L519.9,104.6 L520.5,105.1 L521.2,105.6 L521.9,106.1 L522.6,106.4 L523.2,106.4 L523.9,106.4 L524.6,106.6 L525.2,106.7 L525.9,106.7 L526.6,106.6 L527.3,106.5 L527.9,106.6 L528.6,106.7 L529.3,106.7 L529.9,106.8 L530.6,107.1 L531.3,107.5 L532.0,107.9 L532.6,108.2 L533.3,108.4 L534.0,108.6 L534.7,108.8 L535.3,108.9 L536.0,109.1 L536.7,109.3 L537.3,109.3 L538.0,109.2 L538.7,109.0 L539.4,108.8 L540.0,108.7 L540.7,108.7 L541.4,109.0 L542.0,109.4 L542.7,109.8 L543.4,110.2 L544.1,110.4 L544.7,110.4 L545.4,110.3 L546.1,110.3 L546.7,110.6 L547.4,110.9 L548.1,111.0 L548.8,110.9 L549.4,110.9 L550.1,111.1 L550.8,111.2 L551.5,111.1 L552.1,111.1 L552.8,111.1 L553.5,111.1 L554.1,111.2 L554.8,111.5 L555.5,111.8 L556.2,112.1 L556.8,112.1 L557.5,111.9 L558.2,111.8 L558.8,112.1 L559.5,112.4 L560.2,112.5 L560.9,112.4 L561.5,112.2 L562.2,112.1 L562.9,112.2 L563.5,112.4 L564.2,112.5 L564.9,112.5 L565.6,112.6 L566.2,113.0 L566.9,113.3 L567.6,113.5 L568.3,113.7 L568.9,113.8 L569.6,113.6 L570.3,113.3 L570.9,113.1 L571.6,113.0 L572.3,113.1 L573.0,113.3 L573.6,113.3 L574.3,113.2 L575.0,113.1 L575.6,113.2 L576.3,113.4 L577.0,113.8 L577.7,114.1 L578.3,114.1 L579.0,113.7 L579.7,113.4 L580.3,113.2 L581.0,113.4 L581.7,113.7 L582.4,113.9 L583.0,114.0 L583.7,113.9 L584.4,113.8 L585.1,113.9 L585.7,114.0 L586.4,114.2 L587.1,114.3 L587.7,114.3 L588.4,114.1 L589.1,113.8 L589.8,113.7 L590.4,114.0 L591.1,114.3 L591.8,114.6 L592.4,114.6 L593.1,114.5 L593.8,114.2 L594.5,113.9 L595.1,113.8 L595.8,113.7 L596.5,113.5 L597.1,113.6 L597.8,113.7 L598.5,113.9 L599.2,114.1 L599.8,114.3 L600.5,114.5 L601.2,114.7 L601.9,114.9 L602.5,114.9 L603.2,114.9 L603.9,114.8 L604.5,114.7 L605.2,114.5 L605.9,114.4 L606.6,114.3 L607.2,114.3 L607.9,114.5 L608.6,114.4 L609.2,114.0 L609.9,113.7 L610.6,113.6 L611.3,113.6 L611.9,113.8 L612.6,114.0 L613.3,114.3 L613.9,114.6 L614.6,114.7 L615.3,114.7 L616.0,114.6 L616.6,114.4 L617.3,114.4 L618.0,114.5 L618.6,114.5 L619.3,114.4 L620.0,114.2 L620.7,114.1 L621.3,114.2 L622.0,114.7 L622.7,115.0 L623.4,115.1 L624.0,115.0 L624.7,114.9 L625.4,114.8 L626.0,114.7 L626.7,114.7 L627.4,114.8 L628.1,114.8 L628.7,114.7 L629.4,114.7 L630.1,114.7 L630.7,114.7 L631.4,114.8 L632.1,114.9 L632.8,115.0 L633.4,115.1 L634.1,115.2 L634.8,115.0 L635.4,114.6 L636.1,114.5 L636.8,114.7 L637.5,115.1 L638.1,115.2 L638.8,115.0 L639.5,114.8 L640.2,114.7 L640.8,114.6 L641.5,114.4 L642.2,114.3 L642.8,114.3 L643.5,114.4 L644.2,114.6 L644.9,114.7 L645.5,114.9 L646.2,115.0 L646.9,115.0 L647.5,114.7 L648.2,114.4 L648.9,114.4 L649.6,114.5 L650.2,114.3 L650.9,114.1 L651.6,114.2 L652.2,114.6 L652.9,114.9 L653.6,114.9 L654.3,114.9 L654.9,115.1 L655.6,115.4 L656.3,115.5 L657.0,115.2 L657.6,114.8 L658.3,114.5 L659.0,114.4 L659.6,114.6 L660.3,114.8 L661.0,115.0 L661.7,115.2 L662.3,115.2 L663.0,115.2" fill="none" stroke="rgb(196,16,22)" stroke-width="2.0" stroke-linejoin="round" stroke-linecap="round"/>
<rect x="435.4" y="26" width="227.1" height="186.3" fill="none" stroke="#000" stroke-width="2.1"/>
<line x1="431" y1="26.0" x2="435.4" y2="26.0" stroke="#000" stroke-width="1.8" />
<text transform="translate(429.6,31.2) scale(1.0,1)" font-size="15.4" text-anchor="end" >60</text>
<line x1="431" y1="72.5" x2="435.4" y2="72.5" stroke="#000" stroke-width="1.8" />
<text transform="translate(429.6,77.7) scale(1.0,1)" font-size="15.4" text-anchor="end" >30</text>
<line x1="431" y1="119.0" x2="435.4" y2="119.0" stroke="#000" stroke-width="1.8" />
<text transform="translate(429.6,124.2) scale(1.0,1)" font-size="15.4" text-anchor="end" >0</text>
<line x1="431" y1="165.5" x2="435.4" y2="165.5" stroke="#000" stroke-width="1.8" />
<text transform="translate(429.6,170.7) scale(1.0,1)" font-size="15.4" text-anchor="end" >-30</text>
<line x1="431" y1="212.0" x2="435.4" y2="212.0" stroke="#000" stroke-width="1.8" />
<text transform="translate(429.6,217.2) scale(1.0,1)" font-size="15.4" text-anchor="end" >-60</text>
<line x1="459.0" y1="212.3" x2="459.0" y2="216.4" stroke="#000" stroke-width="1.6" />
<text transform="translate(459.0,230.7) scale(1.0,1)" font-size="15.4" text-anchor="middle" >300</text>
<line x1="493.0" y1="212.3" x2="493.0" y2="214.8" stroke="#000" stroke-width="1.6" />
<line x1="527.0" y1="212.3" x2="527.0" y2="216.4" stroke="#000" stroke-width="1.6" />
<text transform="translate(527.0,230.7) scale(1.0,1)" font-size="15.4" text-anchor="middle" >400</text>
<line x1="561.0" y1="212.3" x2="561.0" y2="214.8" stroke="#000" stroke-width="1.6" />
<line x1="595.0" y1="212.3" x2="595.0" y2="216.4" stroke="#000" stroke-width="1.6" />
<text transform="translate(595.0,230.7) scale(1.0,1)" font-size="15.4" text-anchor="middle" >500</text>
<line x1="629.0" y1="212.3" x2="629.0" y2="214.8" stroke="#000" stroke-width="1.6" />
<line x1="663.0" y1="212.3" x2="663.0" y2="216.4" stroke="#000" stroke-width="1.6" />
<text transform="translate(663.0,230.7) scale(1.0,1)" font-size="15.4" text-anchor="middle" >600</text>
<text transform="translate(551,251.2) scale(1.06,1)" font-size="15.0" text-anchor="middle" >Wavelength (nm)</text>
<text transform="translate(398.8,108.5) rotate(-90) scale(1.06,1)" font-size="14.7" text-anchor="middle">CD (mdeg)</text>
<text transform="translate(660,41.4) scale(1.06,1)" font-size="14.5" text-anchor="end" >NKU-777-<tspan font-style="italic">xD</tspan>/<tspan font-style="italic">xL</tspan></text>
<text transform="translate(666.6,39.0) scale(1.06,1)" font-size="14.7" text-anchor="start" >0.7<tspan font-style="italic">L</tspan></text>
<text transform="translate(666.2,110.7) scale(1.06,1)" font-size="14.7" text-anchor="start" >0.1<tspan font-style="italic">L</tspan></text>
<text transform="translate(666.0,137.3) scale(1.06,1)" font-size="14.7" text-anchor="start" >0.1<tspan font-style="italic">D</tspan></text>
<text transform="translate(666.0,211.6) scale(1.06,1)" font-size="14.7" text-anchor="start" >0.7<tspan font-style="italic">D</tspan></text>
<rect x="676.5" y="44.50" width="11.6" height="7.3" fill="rgb(198,18,22)"/>
<rect x="676.5" y="51.54" width="11.6" height="7.3" fill="rgb(204,28,30)"/>
<rect x="676.5" y="58.58" width="11.6" height="7.3" fill="rgb(212,45,45)"/>
<rect x="676.5" y="65.62" width="11.6" height="7.3" fill="rgb(220,70,70)"/>
<rect x="676.5" y="72.66" width="11.6" height="7.3" fill="rgb(228,100,100)"/>
<rect x="676.5" y="79.70" width="11.6" height="7.3" fill="rgb(236,140,140)"/>
<rect x="676.5" y="86.74" width="11.6" height="7.3" fill="rgb(240,170,170)"/>
<line x1="688.3" y1="44.5" x2="688.3" y2="93.8" stroke="#7a3030" stroke-width="0.8" />
<rect x="676.5" y="145.00" width="11.6" height="7.2" fill="rgb(166,178,255)"/>
<rect x="676.5" y="151.97" width="11.6" height="7.2" fill="rgb(146,156,255)"/>
<rect x="676.5" y="158.94" width="11.6" height="7.2" fill="rgb(120,130,255)"/>
<rect x="676.5" y="165.91" width="11.6" height="7.2" fill="rgb(95,100,255)"/>
<rect x="676.5" y="172.88" width="11.6" height="7.2" fill="rgb(70,70,255)"/>
<rect x="676.5" y="179.85" width="11.6" height="7.2" fill="rgb(45,35,255)"/>
<rect x="676.5" y="186.82" width="11.6" height="7.2" fill="rgb(30,15,250)"/>
<line x1="688.3" y1="145" x2="688.3" y2="193.9" stroke="#30307a" stroke-width="0.8" />
<text transform="translate(1.4,277.9) scale(0.97,1)" font-size="22.7" text-anchor="start" >c</text>
<path d="M69.0,335.6 L70.0,335.4 L71.0,335.2 L71.9,335.0 L72.9,334.8 L73.9,334.6 L74.9,334.5 L75.8,334.3 L76.8,334.1 L77.8,334.0 L78.8,333.8 L79.8,333.6 L80.7,333.5 L81.7,333.3 L82.7,333.2 L83.7,333.1 L84.6,333.0 L85.6,332.9 L86.6,332.8 L87.6,332.7 L88.6,332.7 L89.5,332.6 L90.5,332.6 L91.5,332.7 L92.5,333.0 L93.4,333.4 L94.4,334.0 L95.4,334.6 L96.4,335.3 L97.4,336.0 L98.3,336.8 L99.3,337.7 L100.3,338.5 L101.3,339.5 L102.2,340.5 L103.2,341.6 L104.2,342.7 L105.2,343.9 L106.2,345.2 L107.1,346.6 L108.1,347.9 L109.1,349.3 L110.1,350.7 L111.1,352.0 L112.0,353.4 L113.0,354.8 L114.0,356.2 L115.0,357.6 L115.9,358.9 L116.9,360.3 L117.9,361.6 L118.9,362.9 L119.9,364.2 L120.8,365.5 L121.8,366.8 L122.8,367.9 L123.8,368.8 L124.7,369.4 L125.7,369.9 L126.7,370.2 L127.7,370.4 L128.7,370.6 L129.6,370.7 L130.6,370.7 L131.6,370.7 L132.6,370.7 L133.5,370.6 L134.5,370.4 L135.5,370.1 L136.5,369.7 L137.5,369.2 L138.4,368.6 L139.4,367.9 L140.4,367.0 L141.4,366.1 L142.3,365.1 L143.3,364.1 L144.3,363.0 L145.3,361.9 L146.3,360.7 L147.2,359.5 L148.2,358.2 L149.2,356.8 L150.2,355.5 L151.1,354.1 L152.1,352.8 L153.1,351.5 L154.1,350.2 L155.1,349.0 L156.0,348.0 L157.0,347.1 L158.0,346.3 L159.0,345.8 L159.9,345.3 L160.9,344.8 L161.9,344.3 L162.9,343.8 L163.9,343.1 L164.8,342.3 L165.8,341.5 L166.8,340.6 L167.8,339.5 L168.7,338.3 L169.7,337.0 L170.7,335.4 L171.7,333.6 L172.7,331.7 L173.6,329.7 L174.6,327.6 L175.6,325.5 L176.6,323.4 L177.5,321.4 L178.5,319.5 L179.5,317.8 L180.5,316.2 L181.5,314.8 L182.4,313.4 L183.4,312.0 L184.4,310.8 L185.4,309.6 L186.3,308.6 L187.3,307.6 L188.3,306.7 L189.3,306.0 L190.3,305.4 L191.2,304.9 L192.2,304.7 L193.2,304.9 L194.2,305.3 L195.2,305.7 L196.1,306.1 L197.1,306.6 L198.1,307.1 L199.1,307.5 L200.0,308.0 L201.0,308.5 L202.0,309.0 L203.0,309.5 L204.0,310.0 L204.9,310.5 L205.9,311.0 L206.9,311.5 L207.9,312.0 L208.8,312.5 L209.8,312.9 L210.8,313.4 L211.8,313.8 L212.8,314.1 L213.7,314.5 L214.7,314.8 L215.7,315.1 L216.7,315.4 L217.6,315.7 L218.6,316.0 L219.6,316.3 L220.6,316.6 L221.6,316.8 L222.5,317.1 L223.5,317.4 L224.5,317.7 L225.5,318.0 L226.4,318.2 L227.4,318.5 L228.4,318.8 L229.4,319.0 L230.4,319.2 L231.3,319.5 L232.3,319.7 L233.3,319.9 L234.3,320.1 L235.2,320.3 L236.2,320.4 L237.2,320.6 L238.2,320.8 L239.2,320.9 L240.1,321.1 L241.1,321.2 L242.1,321.3 L243.1,321.5 L244.0,321.6 L245.0,321.8 L246.0,321.9 L247.0,322.0 L248.0,322.1 L248.9,322.3 L249.9,322.4 L250.9,322.5 L251.9,322.6 L252.8,322.8 L253.8,322.9 L254.8,323.0 L255.8,323.1 L256.8,323.2 L257.7,323.3 L258.7,323.5 L259.7,323.6 L260.7,323.7 L261.6,323.8 L262.6,323.9 L263.6,324.0 L264.6,324.1 L265.6,324.2 L266.5,324.3 L267.5,324.4 L268.5,324.6 L269.5,324.7 L270.4,324.8 L271.4,324.9 L272.4,325.0 L273.4,325.1 L274.4,325.2 L275.3,325.3 L276.3,325.4 L277.3,325.4 L278.3,325.5 L279.3,325.6 L280.2,325.7 L281.2,325.8 L282.2,325.9 L283.2,325.9 L284.1,326.0 L285.1,326.1 L286.1,326.1 L287.1,326.1 L288.1,326.1 L289.0,326.1 L290.0,326.1 L291.0,326.1 L292.0,326.1 L292.9,326.1 L293.9,326.1 L294.9,326.2 L295.9,326.2 L296.9,326.2 L297.8,326.3 L298.8,326.4 L299.8,326.4 L300.8,326.5 L301.7,326.6 L302.7,326.6 L303.7,326.7 L304.7,326.8 L305.7,326.9 L306.6,327.0 L307.6,327.1 L308.6,327.2 L309.6,327.3 L310.5,327.4 L311.5,327.5 L312.5,327.6" fill="none" stroke="rgb(62,18,232)" stroke-width="1.8" stroke-linejoin="round" stroke-linecap="round"/>
<path d="M69.0,426.6 L70.0,427.1 L71.0,427.6 L71.9,428.2 L72.9,428.7 L73.9,429.3 L74.9,429.8 L75.8,430.4 L76.8,431.0 L77.8,431.6 L78.8,432.2 L79.8,432.8 L80.7,433.5 L81.7,434.1 L82.7,434.8 L83.7,435.4 L84.6,436.1 L85.6,436.8 L86.6,437.5 L87.6,438.2 L88.6,438.9 L89.5,439.7 L90.5,440.4 L91.5,441.1 L92.5,441.9 L93.4,442.7 L94.4,443.5 L95.4,444.3 L96.4,445.1 L97.4,445.9 L98.3,446.7 L99.3,447.5 L100.3,448.2 L101.3,449.0 L102.2,449.7 L103.2,450.4 L104.2,451.1 L105.2,451.8 L106.2,452.5 L107.1,453.1 L108.1,453.8 L109.1,454.4 L110.1,455.0 L111.1,455.6 L112.0,456.2 L113.0,456.7 L114.0,457.1 L115.0,457.5 L115.9,457.8 L116.9,458.1 L117.9,458.4 L118.9,458.6 L119.9,458.8 L120.8,458.9 L121.8,459.1 L122.8,459.2 L123.8,459.3 L124.7,459.3 L125.7,459.4 L126.7,459.4 L127.7,459.4 L128.7,459.4 L129.6,459.4 L130.6,459.4 L131.6,459.4 L132.6,459.4 L133.5,459.3 L134.5,459.2 L135.5,459.1 L136.5,458.9 L137.5,458.6 L138.4,458.2 L139.4,457.9 L140.4,457.5 L141.4,457.1 L142.3,456.6 L143.3,456.2 L144.3,455.8 L145.3,455.3 L146.3,454.8 L147.2,454.4 L148.2,453.9 L149.2,453.4 L150.2,452.9 L151.1,452.4 L152.1,451.9 L153.1,451.4 L154.1,450.9 L155.1,450.4 L156.0,449.9 L157.0,449.4 L158.0,449.0 L159.0,448.5 L159.9,448.0 L160.9,447.6 L161.9,447.2 L162.9,446.9 L163.9,446.5 L164.8,446.2 L165.8,445.9 L166.8,445.6 L167.8,445.3 L168.7,444.9 L169.7,444.5 L170.7,444.1 L171.7,443.6 L172.7,443.1 L173.6,442.6 L174.6,442.1 L175.6,441.6 L176.6,441.0 L177.5,440.5 L178.5,439.9 L179.5,439.3 L180.5,438.7 L181.5,438.1 L182.4,437.4 L183.4,436.8 L184.4,436.1 L185.4,435.4 L186.3,434.8 L187.3,434.1 L188.3,433.4 L189.3,432.8 L190.3,432.1 L191.2,431.5 L192.2,430.9 L193.2,430.2 L194.2,429.6 L195.2,429.0 L196.1,428.4 L197.1,427.8 L198.1,427.3 L199.1,426.7 L200.0,426.1 L201.0,425.6 L202.0,425.0 L203.0,424.5 L204.0,424.0 L204.9,423.5 L205.9,423.1 L206.9,422.7 L207.9,422.3 L208.8,422.0 L209.8,421.7 L210.8,421.4 L211.8,421.1 L212.8,420.8 L213.7,420.6 L214.7,420.3 L215.7,420.1 L216.7,419.8 L217.6,419.6 L218.6,419.4 L219.6,419.2 L220.6,419.1 L221.6,418.9 L222.5,418.7 L223.5,418.6 L224.5,418.5 L225.5,418.4 L226.4,418.3 L227.4,418.2 L228.4,418.1 L229.4,418.0 L230.4,418.0 L231.3,417.9 L232.3,417.9 L233.3,418.0 L234.3,418.1 L235.2,418.2 L236.2,418.4 L237.2,418.7 L238.2,419.1 L239.2,419.5 L240.1,419.9 L241.1,420.4 L242.1,420.9 L243.1,421.4 L244.0,421.9 L245.0,422.4 L246.0,422.9 L247.0,423.4 L248.0,424.0 L248.9,424.5 L249.9,425.1 L250.9,425.7 L251.9,426.3 L252.8,427.0 L253.8,427.6 L254.8,428.2 L255.8,428.8 L256.8,429.4 L257.7,429.9 L258.7,430.4 L259.7,430.9 L260.7,431.3 L261.6,431.6 L262.6,431.9 L263.6,432.3 L264.6,432.6 L265.6,432.9 L266.5,433.2 L267.5,433.5 L268.5,433.7 L269.5,434.0 L270.4,434.3 L271.4,434.5 L272.4,434.8 L273.4,435.1 L274.4,435.4 L275.3,435.8 L276.3,436.1 L277.3,436.6 L278.3,437.1 L279.3,437.7 L280.2,438.3 L281.2,438.9 L282.2,439.6 L283.2,440.2 L284.1,440.9 L285.1,441.5 L286.1,442.1 L287.1,442.6 L288.1,443.1 L289.0,443.6 L290.0,444.2 L291.0,444.7 L292.0,445.2 L292.9,445.7 L293.9,446.1 L294.9,446.6 L295.9,447.1 L296.9,447.5 L297.8,447.9 L298.8,448.3 L299.8,448.7 L300.8,449.0 L301.7,449.3 L302.7,449.5 L303.7,449.7 L304.7,449.9 L305.7,450.0 L306.6,450.1 L307.6,450.2 L308.6,450.3 L309.6,450.3 L310.5,450.4 L311.5,450.4 L312.5,450.4" fill="none" stroke="rgb(210,18,26)" stroke-width="1.8" stroke-linejoin="round" stroke-linecap="round"/>
<rect x="69" y="288.2" width="244" height="183.3" fill="none" stroke="#000" stroke-width="1.9"/>
<line x1="69" y1="379.5" x2="313" y2="379.5" stroke="#000" stroke-width="1.9" />
<line x1="64.8" y1="297" x2="69" y2="297" stroke="#000" stroke-width="1.8" />
<text transform="translate(62.6,301.8) scale(1.1,1)" font-size="14.6" text-anchor="end" >50</text>
<line x1="64.8" y1="343" x2="69" y2="343" stroke="#000" stroke-width="1.8" />
<text transform="translate(62.6,347.8) scale(1.1,1)" font-size="14.6" text-anchor="end" >0</text>
<line x1="64.8" y1="395" x2="69" y2="395" stroke="#000" stroke-width="1.8" />
<text transform="translate(62.6,399.8) scale(1.1,1)" font-size="14.6" text-anchor="end" >1</text>
<line x1="64.8" y1="425.7" x2="69" y2="425.7" stroke="#000" stroke-width="1.8" />
<text transform="translate(62.6,430.5) scale(1.1,1)" font-size="14.6" text-anchor="end" >0</text>
<line x1="64.8" y1="456.2" x2="69" y2="456.2" stroke="#000" stroke-width="1.8" />
<text transform="translate(62.6,461.0) scale(1.1,1)" font-size="14.6" text-anchor="end" >-1</text>
<line x1="87.0" y1="471.5" x2="87.0" y2="475.6" stroke="#000" stroke-width="1.6" />
<text transform="translate(87.0,490.0) scale(1.08,1)" font-size="15.0" text-anchor="middle" >280</text>
<line x1="124.65" y1="471.5" x2="124.65" y2="474.1" stroke="#000" stroke-width="1.6" />
<line x1="162.3" y1="471.5" x2="162.3" y2="475.6" stroke="#000" stroke-width="1.6" />
<text transform="translate(162.3,490.0) scale(1.08,1)" font-size="15.0" text-anchor="middle" >320</text>
<line x1="199.95" y1="471.5" x2="199.95" y2="474.1" stroke="#000" stroke-width="1.6" />
<line x1="237.6" y1="471.5" x2="237.6" y2="475.6" stroke="#000" stroke-width="1.6" />
<text transform="translate(237.6,490.0) scale(1.08,1)" font-size="15.0" text-anchor="middle" >360</text>
<line x1="275.25" y1="471.5" x2="275.25" y2="474.1" stroke="#000" stroke-width="1.6" />
<line x1="312.9" y1="471.5" x2="312.9" y2="475.6" stroke="#000" stroke-width="1.6" />
<text transform="translate(312.9,490.0) scale(1.08,1)" font-size="15.0" text-anchor="middle" >400</text>
<text transform="translate(192.7,510.0) scale(1.1,1)" font-size="14.5" text-anchor="middle" >Wavelength (nm)</text>
<text transform="translate(32.6,380.7) rotate(-90) scale(1.06,1)" font-size="14.7" text-anchor="middle">CD (mdeg)</text>
<text transform="translate(309.8,304.2) scale(1.1,1)" font-size="14.5" text-anchor="end" >NKU-777-0.6<tspan font-style="italic">L</tspan></text>
<text transform="translate(311.3,396.4) scale(1.105,1)" font-size="14.5" text-anchor="end" >NKU-777-<tspan font-style="italic">P</tspan></text>
<text transform="translate(365.5,278) scale(0.97,1)" font-size="22.7" text-anchor="start" >d</text>
<path d="M433.9,369.0 L434.6,368.1 L435.3,367.3 L436.0,366.6 L436.6,366.0 L437.3,365.6 L438.0,365.2 L438.7,364.8 L439.3,364.5 L440.0,364.3 L440.7,364.1 L441.3,363.9 L442.0,363.8 L442.7,363.7 L443.4,364.1 L444.0,364.7 L444.7,365.9 L445.4,367.7 L446.1,370.5 L446.7,373.6 L447.4,376.5 L448.1,379.8 L448.8,384.3 L449.4,389.7 L450.1,395.4 L450.8,400.5 L451.5,405.5 L452.1,410.5 L452.8,415.3 L453.5,419.5 L454.2,422.9 L454.8,426.1 L455.5,429.1 L456.2,431.8 L456.9,433.6 L457.5,434.2 L458.2,433.4 L458.9,431.5 L459.5,428.8 L460.2,425.8 L460.9,422.8 L461.6,419.5 L462.2,415.4 L462.9,411.1 L463.6,406.9 L464.3,403.2 L464.9,400.1 L465.6,397.2 L466.3,394.6 L467.0,392.0 L467.6,389.5 L468.3,387.0 L469.0,384.6 L469.7,382.0 L470.3,378.5 L471.0,374.2 L471.7,369.4 L472.4,364.4 L473.0,359.6 L473.7,354.9 L474.4,350.0 L475.0,344.9 L475.7,340.1 L476.4,335.6 L477.1,331.8 L477.7,328.8 L478.4,325.7 L479.1,322.9 L479.8,320.7 L480.4,319.4 L481.1,319.5 L481.8,320.4 L482.5,321.7 L483.1,323.1 L483.8,324.3 L484.5,325.5 L485.2,326.7 L485.8,327.9 L486.5,329.0 L487.2,330.1 L487.9,331.1 L488.5,332.0 L489.2,332.9 L489.9,333.8 L490.5,334.6 L491.2,335.4 L491.9,336.1 L492.6,336.8 L493.2,337.5 L493.9,338.1 L494.6,338.7 L495.3,339.3 L495.9,339.8 L496.6,340.4 L497.3,340.9 L498.0,341.4 L498.6,342.0 L499.3,342.5 L500.0,343.0 L500.7,343.5 L501.3,343.9 L502.0,344.3 L502.7,344.7 L503.4,345.2 L504.0,345.6 L504.7,346.0 L505.4,346.5 L506.0,346.9 L506.7,347.3 L507.4,347.7 L508.1,348.1 L508.7,348.4 L509.4,348.8 L510.1,349.2 L510.8,349.6 L511.4,350.0 L512.1,350.4 L512.8,350.7 L513.5,351.0 L514.1,351.2 L514.8,351.4 L515.5,351.6 L516.2,351.8 L516.8,351.9 L517.5,352.1 L518.2,352.3 L518.9,352.4 L519.5,352.6 L520.2,352.9 L520.9,353.1 L521.5,353.4 L522.2,353.7 L522.9,354.0 L523.6,354.1 L524.2,354.3 L524.9,354.4 L525.6,354.5 L526.3,354.6 L526.9,354.8 L527.6,355.1 L528.3,355.3 L529.0,355.6 L529.6,355.8 L530.3,356.0 L531.0,356.2 L531.7,356.5 L532.3,356.7 L533.0,356.9 L533.7,357.1 L534.4,357.3 L535.0,357.4 L535.7,357.6 L536.4,357.8 L537.0,358.0 L537.7,358.3 L538.4,358.5 L539.1,358.7 L539.7,358.9 L540.4,359.1 L541.1,359.3 L541.8,359.4 L542.4,359.7 L543.1,359.9 L543.8,360.1 L544.5,360.2 L545.1,360.3 L545.8,360.4 L546.5,360.4 L547.2,360.5 L547.8,360.7 L548.5,360.9 L549.2,361.2 L549.9,361.5 L550.5,361.8 L551.2,362.1 L551.9,362.4 L552.5,362.7 L553.2,363.0 L553.9,363.2 L554.6,363.4 L555.2,363.6 L555.9,363.8 L556.6,363.9 L557.3,364.0 L557.9,364.0 L558.6,364.1 L559.3,364.1 L560.0,364.1 L560.6,364.1 L561.3,364.2 L562.0,364.3 L562.7,364.4 L563.3,364.6 L564.0,364.8 L564.7,365.1 L565.4,365.4 L566.0,365.7 L566.7,366.0 L567.4,366.3 L568.0,366.6 L568.7,366.9 L569.4,367.1 L570.1,367.4 L570.7,367.5 L571.4,367.7 L572.1,367.8 L572.8,367.8 L573.4,367.9 L574.1,368.0 L574.8,368.1 L575.5,368.3 L576.1,368.5 L576.8,368.8 L577.5,369.0 L578.2,369.1 L578.8,369.2 L579.5,369.3 L580.2,369.4 L580.9,369.5 L581.5,369.6 L582.2,369.8 L582.9,370.0 L583.5,370.3 L584.2,370.5 L584.9,370.7 L585.6,370.8 L586.2,370.9 L586.9,370.9 L587.6,371.0 L588.3,371.1 L588.9,371.3 L589.6,371.4 L590.3,371.6 L591.0,371.7 L591.6,371.9 L592.3,372.0 L593.0,372.1 L593.7,372.1 L594.3,372.1 L595.0,372.1 L595.7,372.0 L596.4,372.0 L597.0,372.0 L597.7,372.1 L598.4,372.3 L599.1,372.4 L599.7,372.6 L600.4,372.7 L601.1,372.7 L601.7,372.8 L602.4,372.8 L603.1,372.9 L603.8,373.0 L604.4,373.1 L605.1,373.2 L605.8,373.2 L606.5,373.1 L607.1,373.0 L607.8,373.0 L608.5,372.9 L609.2,373.0 L609.8,373.1 L610.5,373.3 L611.2,373.5 L611.9,373.7 L612.5,373.9 L613.2,373.9 L613.9,373.8 L614.6,373.7 L615.2,373.5 L615.9,373.3 L616.6,373.2 L617.2,373.1 L617.9,373.1 L618.6,373.1 L619.3,373.2 L619.9,373.2 L620.6,373.2 L621.3,373.2 L622.0,373.3 L622.6,373.4 L623.3,373.6 L624.0,373.9 L624.7,374.2 L625.3,374.6 L626.0,374.8 L626.7,375.0 L627.4,375.1 L628.0,375.1 L628.7,375.1 L629.4,375.0 L630.1,374.9 L630.7,374.8 L631.4,374.7 L632.1,374.7 L632.7,374.7 L633.4,374.8 L634.1,374.9 L634.8,375.0 L635.4,375.1 L636.1,375.3 L636.8,375.5 L637.5,375.7 L638.1,376.0 L638.8,376.2 L639.5,376.4 L640.2,376.5 L640.8,376.6 L641.5,376.6 L642.2,376.6 L642.9,376.6 L643.5,376.5 L644.2,376.3 L644.9,376.1 L645.6,375.8 L646.2,375.6 L646.9,375.4 L647.6,375.4 L648.2,375.4 L648.9,375.5 L649.6,375.7 L650.3,375.8 L650.9,376.0 L651.6,376.2 L652.3,376.3 L653.0,376.4 L653.6,376.5 L654.3,376.5 L655.0,376.6 L655.7,376.7 L656.3,376.8 L657.0,376.9 L657.7,377.0 L658.4,376.9 L659.0,376.8 L659.7,376.6 L660.4,376.4 L661.1,376.3 L661.7,376.3 L662.4,376.4" fill="none" stroke="rgb(222,22,30)" stroke-width="2.0" stroke-linejoin="round" stroke-linecap="round"/>
<path d="M433.9,378.8 L434.6,381.4 L435.3,383.9 L436.0,386.1 L436.6,388.0 L437.3,389.7 L438.0,391.1 L438.7,392.4 L439.3,393.6 L440.0,394.8 L440.7,395.9 L441.3,397.1 L442.0,398.6 L442.7,400.0 L443.4,401.3 L444.0,402.1 L444.7,402.2 L445.4,400.1 L446.1,396.5 L446.7,392.5 L447.4,387.3 L448.1,381.3 L448.8,375.5 L449.4,370.0 L450.1,364.6 L450.8,359.4 L451.5,354.4 L452.1,349.5 L452.8,344.7 L453.5,340.2 L454.2,336.1 L454.8,332.7 L455.5,329.4 L456.2,326.2 L456.9,323.9 L457.5,323.0 L458.2,324.0 L458.9,326.5 L459.5,329.7 L460.2,332.9 L460.9,336.4 L461.6,340.5 L462.2,344.9 L462.9,349.3 L463.6,353.4 L464.3,356.9 L464.9,360.4 L465.6,363.7 L466.3,366.9 L467.0,370.1 L467.6,373.1 L468.3,376.0 L469.0,378.9 L469.7,382.1 L470.3,385.6 L471.0,389.4 L471.7,393.5 L472.4,397.6 L473.0,401.6 L473.7,405.7 L474.4,410.1 L475.0,414.6 L475.7,419.0 L476.4,422.9 L477.1,426.2 L477.7,429.0 L478.4,431.7 L479.1,434.2 L479.8,436.1 L480.4,437.1 L481.1,437.0 L481.8,435.6 L482.5,433.5 L483.1,431.3 L483.8,429.5 L484.5,427.8 L485.2,426.0 L485.8,424.2 L486.5,422.6 L487.2,421.2 L487.9,420.0 L488.5,418.9 L489.2,417.9 L489.9,417.0 L490.5,416.1 L491.2,415.3 L491.9,414.6 L492.6,414.0 L493.2,413.4 L493.9,412.9 L494.6,412.4 L495.3,411.8 L495.9,411.3 L496.6,410.8 L497.3,410.4 L498.0,410.0 L498.6,409.6 L499.3,409.3 L500.0,409.1 L500.7,408.8 L501.3,408.6 L502.0,408.3 L502.7,408.1 L503.4,407.7 L504.0,407.4 L504.7,407.1 L505.4,406.8 L506.0,406.6 L506.7,406.4 L507.4,406.2 L508.1,406.0 L508.7,405.8 L509.4,405.7 L510.1,405.5 L510.8,405.4 L511.4,405.4 L512.1,405.3 L512.8,405.2 L513.5,405.2 L514.1,405.1 L514.8,405.0 L515.5,404.8 L516.2,404.6 L516.8,404.4 L517.5,404.2 L518.2,404.0 L518.9,403.8 L519.5,403.7 L520.2,403.7 L520.9,403.8 L521.5,403.8 L522.2,403.9 L522.9,404.0 L523.6,404.1 L524.2,404.2 L524.9,404.3 L525.6,404.3 L526.3,404.4 L526.9,404.6 L527.6,404.6 L528.3,404.7 L529.0,404.7 L529.6,404.7 L530.3,404.6 L531.0,404.5 L531.7,404.4 L532.3,404.3 L533.0,404.1 L533.7,404.0 L534.4,403.8 L535.0,403.7 L535.7,403.7 L536.4,403.6 L537.0,403.6 L537.7,403.5 L538.4,403.5 L539.1,403.5 L539.7,403.5 L540.4,403.5 L541.1,403.6 L541.8,403.7 L542.4,403.8 L543.1,403.8 L543.8,403.9 L544.5,403.8 L545.1,403.8 L545.8,403.8 L546.5,403.8 L547.2,403.8 L547.8,403.8 L548.5,403.8 L549.2,403.9 L549.9,403.9 L550.5,403.8 L551.2,403.8 L551.9,403.8 L552.5,403.7 L553.2,403.6 L553.9,403.5 L554.6,403.4 L555.2,403.4 L555.9,403.5 L556.6,403.7 L557.3,404.0 L557.9,404.2 L558.6,404.4 L559.3,404.5 L560.0,404.5 L560.6,404.4 L561.3,404.2 L562.0,404.0 L562.7,403.9 L563.3,403.7 L564.0,403.7 L564.7,403.7 L565.4,403.9 L566.0,404.1 L566.7,404.3 L567.4,404.6 L568.0,404.8 L568.7,404.9 L569.4,404.8 L570.1,404.7 L570.7,404.5 L571.4,404.2 L572.1,404.0 L572.8,403.9 L573.4,403.9 L574.1,404.0 L574.8,404.1 L575.5,404.2 L576.1,404.3 L576.8,404.3 L577.5,404.3 L578.2,404.3 L578.8,404.3 L579.5,404.3 L580.2,404.3 L580.9,404.3 L581.5,404.2 L582.2,404.1 L582.9,403.9 L583.5,403.7 L584.2,403.5 L584.9,403.3 L585.6,403.3 L586.2,403.4 L586.9,403.6 L587.6,403.9 L588.3,404.1 L588.9,404.3 L589.6,404.4 L590.3,404.5 L591.0,404.6 L591.6,404.7 L592.3,404.9 L593.0,405.0 L593.7,405.1 L594.3,405.2 L595.0,405.2 L595.7,405.2 L596.4,405.1 L597.0,405.1 L597.7,404.9 L598.4,404.8 L599.1,404.7 L599.7,404.7 L600.4,404.7 L601.1,404.6 L601.7,404.7 L602.4,404.7 L603.1,404.7 L603.8,404.6 L604.4,404.6 L605.1,404.5 L605.8,404.4 L606.5,404.3 L607.1,404.2 L607.8,404.2 L608.5,404.1 L609.2,403.9 L609.8,403.8 L610.5,403.6 L611.2,403.5 L611.9,403.4 L612.5,403.4 L613.2,403.5 L613.9,403.5 L614.6,403.6 L615.2,403.6 L615.9,403.6 L616.6,403.5 L617.2,403.5 L617.9,403.4 L618.6,403.4 L619.3,403.4 L619.9,403.4 L620.6,403.5 L621.3,403.5 L622.0,403.4 L622.6,403.2 L623.3,403.0 L624.0,402.7 L624.7,402.4 L625.3,402.3 L626.0,402.3 L626.7,402.4 L627.4,402.5 L628.0,402.7 L628.7,402.8 L629.4,402.7 L630.1,402.6 L630.7,402.4 L631.4,402.3 L632.1,402.1 L632.7,402.1 L633.4,402.0 L634.1,402.0 L634.8,402.1 L635.4,402.1 L636.1,402.1 L636.8,402.2 L637.5,402.2 L638.1,402.1 L638.8,402.1 L639.5,402.1 L640.2,402.1 L640.8,402.1 L641.5,402.2 L642.2,402.3 L642.9,402.4 L643.5,402.6 L644.2,402.8 L644.9,402.9 L645.6,403.0 L646.2,403.1 L646.9,403.0 L647.6,402.9 L648.2,402.8 L648.9,402.7 L649.6,402.6 L650.3,402.5 L650.9,402.5 L651.6,402.4 L652.3,402.3 L653.0,402.1 L653.6,402.0 L654.3,401.9 L655.0,401.9 L655.7,402.0 L656.3,402.0 L657.0,402.2 L657.7,402.3 L658.4,402.3 L659.0,402.3 L659.7,402.2 L660.4,402.0 L661.1,401.7 L661.7,401.4 L662.4,401.2" fill="none" stroke="rgb(222,22,30)" stroke-width="2.0" stroke-linejoin="round" stroke-linecap="round"/>
<path d="M433.9,369.5 L434.6,368.6 L435.3,367.8 L436.0,367.2 L436.6,366.6 L437.3,366.2 L438.0,365.8 L438.7,365.4 L439.3,365.1 L440.0,364.9 L440.7,364.7 L441.3,364.4 L442.0,364.3 L442.7,364.2 L443.4,364.6 L444.0,365.2 L444.7,366.3 L445.4,368.1 L446.1,370.8 L446.7,373.7 L447.4,376.5 L448.1,379.7 L448.8,384.1 L449.4,389.5 L450.1,395.3 L450.8,400.5 L451.5,405.5 L452.1,410.6 L452.8,415.4 L453.5,419.6 L454.2,423.0 L454.8,426.2 L455.5,429.2 L456.2,431.8 L456.9,433.6 L457.5,434.2 L458.2,433.4 L458.9,431.5 L459.5,428.8 L460.2,425.8 L460.9,422.8 L461.6,419.4 L462.2,415.3 L462.9,411.0 L463.6,406.7 L464.3,403.0 L464.9,400.0 L465.6,397.2 L466.3,394.5 L467.0,392.0 L467.6,389.4 L468.3,386.9 L469.0,384.6 L469.7,381.9 L470.3,378.4 L471.0,374.1 L471.7,369.3 L472.4,364.4 L473.0,359.5 L473.7,354.9 L474.4,349.9 L475.0,344.9 L475.7,340.1 L476.4,335.6 L477.1,331.9 L477.7,328.8 L478.4,325.8 L479.1,323.0 L479.8,320.8 L480.4,319.5 L481.1,319.6 L481.8,320.4 L482.5,321.8 L483.1,323.2 L483.8,324.4 L484.5,325.5 L485.2,326.8 L485.8,328.0 L486.5,329.1 L487.2,330.2 L487.9,331.2 L488.5,332.2 L489.2,333.1 L489.9,333.9 L490.5,334.8 L491.2,335.6 L491.9,336.3 L492.6,337.1 L493.2,337.8 L493.9,338.6 L494.6,339.3 L495.3,339.9 L495.9,340.6 L496.6,341.2 L497.3,341.8 L498.0,342.3 L498.6,342.8 L499.3,343.3 L500.0,343.8 L500.7,344.2 L501.3,344.6 L502.0,344.9 L502.7,345.3 L503.4,345.7 L504.0,346.2 L504.7,346.6 L505.4,347.1 L506.0,347.5 L506.7,347.8 L507.4,348.1 L508.1,348.3 L508.7,348.6 L509.4,348.8 L510.1,349.0 L510.8,349.3 L511.4,349.6 L512.1,349.9 L512.8,350.3 L513.5,350.7 L514.1,351.0 L514.8,351.2 L515.5,351.5 L516.2,351.7 L516.8,351.9 L517.5,352.2 L518.2,352.5 L518.9,352.8 L519.5,353.1 L520.2,353.4 L520.9,353.7 L521.5,353.9 L522.2,354.1 L522.9,354.2 L523.6,354.2 L524.2,354.2 L524.9,354.3 L525.6,354.5 L526.3,354.7 L526.9,355.1 L527.6,355.4 L528.3,355.7 L529.0,355.9 L529.6,356.1 L530.3,356.2 L531.0,356.3 L531.7,356.4 L532.3,356.6 L533.0,356.9 L533.7,357.2 L534.4,357.6 L535.0,358.1 L535.7,358.6 L536.4,359.1 L537.0,359.5 L537.7,359.7 L538.4,359.9 L539.1,360.0 L539.7,360.0 L540.4,360.1 L541.1,360.1 L541.8,360.2 L542.4,360.3 L543.1,360.3 L543.8,360.3 L544.5,360.4 L545.1,360.4 L545.8,360.5 L546.5,360.7 L547.2,361.0 L547.8,361.3 L548.5,361.6 L549.2,361.9 L549.9,362.3 L550.5,362.6 L551.2,362.8 L551.9,363.0 L552.5,363.2 L553.2,363.4 L553.9,363.6 L554.6,363.8 L555.2,364.0 L555.9,364.2 L556.6,364.5 L557.3,364.7 L557.9,364.9 L558.6,365.2 L559.3,365.4 L560.0,365.6 L560.6,365.7 L561.3,365.8 L562.0,365.9 L562.7,366.0 L563.3,366.2 L564.0,366.4 L564.7,366.6 L565.4,366.9 L566.0,367.1 L566.7,367.3 L567.4,367.4 L568.0,367.3 L568.7,367.3 L569.4,367.2 L570.1,367.1 L570.7,367.2 L571.4,367.3 L572.1,367.7 L572.8,368.1 L573.4,368.5 L574.1,369.0 L574.8,369.4 L575.5,369.8 L576.1,370.2 L576.8,370.4 L577.5,370.6 L578.2,370.8 L578.8,370.9 L579.5,371.0 L580.2,371.0 L580.9,371.0 L581.5,371.1 L582.2,371.2 L582.9,371.3 L583.5,371.5 L584.2,371.6 L584.9,371.8 L585.6,371.9 L586.2,372.0 L586.9,371.9 L587.6,371.9 L588.3,371.7 L588.9,371.7 L589.6,371.7 L590.3,371.8 L591.0,372.0 L591.6,372.2 L592.3,372.4 L593.0,372.6 L593.7,372.7 L594.3,372.8 L595.0,373.0 L595.7,373.3 L596.4,373.6 L597.0,373.8 L597.7,374.0 L598.4,374.0 L599.1,373.9 L599.7,373.8 L600.4,373.6 L601.1,373.5 L601.7,373.3 L602.4,373.2 L603.1,373.1 L603.8,373.0 L604.4,372.9 L605.1,372.9 L605.8,372.9 L606.5,373.0 L607.1,373.1 L607.8,373.3 L608.5,373.5 L609.2,373.7 L609.8,373.9 L610.5,374.1 L611.2,374.2 L611.9,374.4 L612.5,374.5 L613.2,374.6 L613.9,374.6 L614.6,374.6 L615.2,374.5 L615.9,374.4 L616.6,374.3 L617.2,374.2 L617.9,374.1 L618.6,374.1 L619.3,374.1 L619.9,374.2 L620.6,374.3 L621.3,374.4 L622.0,374.5 L622.6,374.6 L623.3,374.7 L624.0,374.8 L624.7,374.9 L625.3,375.1 L626.0,375.2 L626.7,375.4 L627.4,375.6 L628.0,375.8 L628.7,375.9 L629.4,376.0 L630.1,376.0 L630.7,376.1 L631.4,376.0 L632.1,376.0 L632.7,376.1 L633.4,376.1 L634.1,376.1 L634.8,376.2 L635.4,376.1 L636.1,376.1 L636.8,376.0 L637.5,375.9 L638.1,375.8 L638.8,375.7 L639.5,375.7 L640.2,375.8 L640.8,376.0 L641.5,376.2 L642.2,376.4 L642.9,376.5 L643.5,376.5 L644.2,376.4 L644.9,376.3 L645.6,376.2 L646.2,376.0 L646.9,375.9 L647.6,375.8 L648.2,375.7 L648.9,375.7 L649.6,375.6 L650.3,375.6 L650.9,375.6 L651.6,375.6 L652.3,375.7 L653.0,375.7 L653.6,375.9 L654.3,376.0 L655.0,376.2 L655.7,376.3 L656.3,376.5 L657.0,376.7 L657.7,376.8 L658.4,377.0 L659.0,377.2 L659.7,377.4 L660.4,377.5 L661.1,377.7 L661.7,377.9 L662.4,377.9" fill="none" stroke="rgb(118,40,160)" stroke-width="2.0" stroke-linejoin="round" stroke-linecap="round"/>
<path d="M433.9,379.0 L434.6,381.5 L435.3,384.0 L436.0,386.1 L436.6,388.1 L437.3,389.7 L438.0,391.2 L438.7,392.4 L439.3,393.6 L440.0,394.7 L440.7,395.8 L441.3,397.0 L442.0,398.4 L442.7,399.8 L443.4,401.1 L444.0,401.9 L444.7,402.0 L445.4,399.9 L446.1,396.3 L446.7,392.4 L447.4,387.2 L448.1,381.3 L448.8,375.7 L449.4,370.4 L450.1,365.3 L450.8,360.3 L451.5,355.7 L452.1,351.0 L452.8,346.5 L453.5,342.1 L454.2,338.3 L454.8,335.0 L455.5,331.9 L456.2,329.0 L456.9,326.8 L457.5,326.0 L458.2,327.0 L458.9,329.3 L459.5,332.3 L460.2,335.4 L460.9,338.6 L461.6,342.5 L462.2,346.7 L462.9,350.9 L463.6,354.7 L464.3,358.1 L464.9,361.3 L465.6,364.5 L466.3,367.5 L467.0,370.5 L467.6,373.4 L468.3,376.2 L469.0,379.0 L469.7,382.1 L470.3,385.6 L471.0,389.4 L471.7,393.5 L472.4,397.6 L473.0,401.7 L473.7,405.7 L474.4,410.1 L475.0,414.6 L475.7,418.9 L476.4,422.9 L477.1,426.2 L477.7,429.0 L478.4,431.7 L479.1,434.1 L479.8,436.1 L480.4,437.1 L481.1,437.0 L481.8,435.5 L482.5,433.4 L483.1,431.3 L483.8,429.6 L484.5,428.0 L485.2,426.3 L485.8,424.8 L486.5,423.4 L487.2,422.1 L487.9,421.2 L488.5,420.3 L489.2,419.6 L489.9,418.9 L490.5,418.3 L491.2,417.7 L491.9,417.2 L492.6,416.7 L493.2,416.2 L493.9,415.7 L494.6,415.3 L495.3,414.8 L495.9,414.3 L496.6,413.8 L497.3,413.3 L498.0,412.8 L498.6,412.3 L499.3,411.9 L500.0,411.5 L500.7,411.1 L501.3,410.8 L502.0,410.5 L502.7,410.3 L503.4,410.1 L504.0,409.8 L504.7,409.7 L505.4,409.5 L506.0,409.3 L506.7,409.2 L507.4,409.0 L508.1,408.9 L508.7,408.8 L509.4,408.7 L510.1,408.6 L510.8,408.6 L511.4,408.7 L512.1,408.7 L512.8,408.7 L513.5,408.6 L514.1,408.5 L514.8,408.4 L515.5,408.3 L516.2,408.2 L516.8,408.1 L517.5,408.1 L518.2,408.0 L518.9,408.0 L519.5,407.8 L520.2,407.7 L520.9,407.5 L521.5,407.3 L522.2,407.2 L522.9,407.1 L523.6,407.0 L524.2,406.9 L524.9,406.8 L525.6,406.8 L526.3,406.7 L526.9,406.8 L527.6,406.8 L528.3,407.0 L529.0,407.1 L529.6,407.3 L530.3,407.4 L531.0,407.5 L531.7,407.4 L532.3,407.3 L533.0,407.1 L533.7,407.0 L534.4,406.8 L535.0,406.8 L535.7,406.8 L536.4,406.9 L537.0,407.0 L537.7,407.1 L538.4,407.1 L539.1,407.2 L539.7,407.2 L540.4,407.3 L541.1,407.4 L541.8,407.4 L542.4,407.5 L543.1,407.4 L543.8,407.2 L544.5,407.0 L545.1,406.7 L545.8,406.4 L546.5,406.2 L547.2,406.0 L547.8,406.0 L548.5,406.0 L549.2,406.1 L549.9,406.3 L550.5,406.5 L551.2,406.7 L551.9,406.8 L552.5,406.9 L553.2,407.0 L553.9,407.0 L554.6,406.9 L555.2,406.9 L555.9,406.9 L556.6,406.8 L557.3,406.7 L557.9,406.6 L558.6,406.5 L559.3,406.4 L560.0,406.3 L560.6,406.3 L561.3,406.3 L562.0,406.2 L562.7,406.2 L563.3,406.1 L564.0,406.0 L564.7,405.9 L565.4,405.9 L566.0,405.9 L566.7,406.0 L567.4,406.2 L568.0,406.4 L568.7,406.6 L569.4,406.8 L570.1,406.9 L570.7,407.0 L571.4,407.1 L572.1,407.1 L572.8,407.0 L573.4,406.9 L574.1,406.7 L574.8,406.6 L575.5,406.4 L576.1,406.3 L576.8,406.2 L577.5,406.2 L578.2,406.2 L578.8,406.3 L579.5,406.3 L580.2,406.3 L580.9,406.3 L581.5,406.3 L582.2,406.3 L582.9,406.3 L583.5,406.4 L584.2,406.4 L584.9,406.6 L585.6,406.7 L586.2,406.8 L586.9,406.8 L587.6,406.8 L588.3,406.6 L588.9,406.4 L589.6,406.1 L590.3,405.9 L591.0,405.8 L591.6,405.7 L592.3,405.8 L593.0,405.8 L593.7,405.9 L594.3,406.0 L595.0,406.1 L595.7,406.2 L596.4,406.2 L597.0,406.2 L597.7,406.1 L598.4,406.1 L599.1,406.1 L599.7,406.1 L600.4,406.2 L601.1,406.2 L601.7,406.2 L602.4,406.1 L603.1,406.0 L603.8,405.8 L604.4,405.6 L605.1,405.4 L605.8,405.2 L606.5,405.0 L607.1,404.8 L607.8,404.7 L608.5,404.6 L609.2,404.6 L609.8,404.7 L610.5,404.8 L611.2,404.9 L611.9,404.9 L612.5,404.8 L613.2,404.8 L613.9,404.7 L614.6,404.6 L615.2,404.5 L615.9,404.6 L616.6,404.6 L617.2,404.8 L617.9,404.9 L618.6,405.0 L619.3,405.1 L619.9,405.1 L620.6,405.1 L621.3,404.9 L622.0,404.7 L622.6,404.5 L623.3,404.2 L624.0,403.9 L624.7,403.7 L625.3,403.6 L626.0,403.6 L626.7,403.6 L627.4,403.7 L628.0,403.8 L628.7,403.9 L629.4,404.0 L630.1,404.1 L630.7,404.0 L631.4,403.9 L632.1,403.8 L632.7,403.6 L633.4,403.5 L634.1,403.3 L634.8,403.2 L635.4,403.2 L636.1,403.1 L636.8,403.0 L637.5,402.9 L638.1,402.7 L638.8,402.6 L639.5,402.6 L640.2,402.6 L640.8,402.7 L641.5,402.9 L642.2,403.0 L642.9,403.1 L643.5,403.1 L644.2,403.1 L644.9,403.0 L645.6,402.9 L646.2,402.9 L646.9,402.8 L647.6,402.7 L648.2,402.6 L648.9,402.5 L649.6,402.3 L650.3,402.1 L650.9,402.0 L651.6,401.8 L652.3,401.8 L653.0,401.7 L653.6,401.7 L654.3,401.8 L655.0,401.9 L655.7,402.0 L656.3,402.1 L657.0,402.1 L657.7,402.2 L658.4,402.2 L659.0,402.3 L659.7,402.3 L660.4,402.4 L661.1,402.4 L661.7,402.4 L662.4,402.4" fill="none" stroke="rgb(118,40,160)" stroke-width="2.0" stroke-linejoin="round" stroke-linecap="round"/>
<path d="M433.9,372.9 L434.6,372.0 L435.3,371.2 L436.0,370.6 L436.6,370.1 L437.3,369.6 L438.0,369.3 L438.7,368.9 L439.3,368.6 L440.0,368.4 L440.7,368.2 L441.3,367.9 L442.0,367.8 L442.7,367.7 L443.4,368.1 L444.0,368.7 L444.7,369.9 L445.4,371.4 L446.1,373.4 L446.7,375.5 L447.4,377.4 L448.1,379.9 L448.8,383.8 L449.4,389.3 L450.1,395.2 L450.8,400.5 L451.5,405.5 L452.1,410.6 L452.8,415.3 L453.5,419.5 L454.2,422.9 L454.8,426.0 L455.5,429.1 L456.2,431.7 L456.9,433.5 L457.5,434.1 L458.2,433.4 L458.9,431.5 L459.5,428.8 L460.2,425.7 L460.9,422.7 L461.6,419.3 L462.2,415.3 L462.9,410.9 L463.6,406.7 L464.3,403.0 L464.9,400.0 L465.6,397.2 L466.3,394.6 L467.0,392.0 L467.6,389.4 L468.3,386.9 L469.0,384.5 L469.7,381.8 L470.3,378.5 L471.0,374.6 L471.7,370.3 L472.4,365.9 L473.0,361.7 L473.7,357.5 L474.4,353.1 L475.0,348.6 L475.7,344.2 L476.4,340.2 L477.1,336.9 L477.7,334.1 L478.4,331.3 L479.1,328.8 L479.8,326.9 L480.4,325.8 L481.1,325.9 L481.8,326.7 L482.5,327.9 L483.1,329.2 L483.8,330.2 L484.5,331.3 L485.2,332.5 L485.8,333.6 L486.5,334.6 L487.2,335.5 L487.9,336.2 L488.5,336.8 L489.2,337.3 L489.9,337.8 L490.5,338.2 L491.2,338.6 L491.9,339.0 L492.6,339.4 L493.2,339.9 L493.9,340.3 L494.6,340.8 L495.3,341.3 L495.9,342.0 L496.6,342.6 L497.3,343.4 L498.0,344.2 L498.6,345.0 L499.3,345.9 L500.0,346.7 L500.7,347.4 L501.3,348.1 L502.0,348.6 L502.7,349.0 L503.4,349.4 L504.0,349.8 L504.7,350.2 L505.4,350.6 L506.0,350.9 L506.7,351.3 L507.4,351.7 L508.1,352.0 L508.7,352.4 L509.4,352.7 L510.1,353.0 L510.8,353.4 L511.4,353.7 L512.1,354.0 L512.8,354.3 L513.5,354.5 L514.1,354.8 L514.8,355.0 L515.5,355.2 L516.2,355.4 L516.8,355.6 L517.5,355.8 L518.2,356.0 L518.9,356.3 L519.5,356.5 L520.2,356.8 L520.9,357.0 L521.5,357.3 L522.2,357.6 L522.9,357.9 L523.6,358.2 L524.2,358.5 L524.9,358.7 L525.6,358.8 L526.3,359.0 L526.9,359.2 L527.6,359.3 L528.3,359.6 L529.0,359.8 L529.6,359.9 L530.3,360.1 L531.0,360.2 L531.7,360.3 L532.3,360.4 L533.0,360.4 L533.7,360.6 L534.4,360.7 L535.0,360.9 L535.7,361.1 L536.4,361.3 L537.0,361.5 L537.7,361.6 L538.4,361.8 L539.1,362.0 L539.7,362.2 L540.4,362.4 L541.1,362.6 L541.8,362.9 L542.4,363.1 L543.1,363.3 L543.8,363.6 L544.5,363.9 L545.1,364.2 L545.8,364.5 L546.5,364.8 L547.2,365.2 L547.8,365.5 L548.5,365.8 L549.2,366.1 L549.9,366.4 L550.5,366.7 L551.2,366.9 L551.9,366.9 L552.5,366.9 L553.2,366.9 L553.9,366.8 L554.6,366.8 L555.2,367.0 L555.9,367.2 L556.6,367.4 L557.3,367.6 L557.9,367.8 L558.6,367.9 L559.3,368.0 L560.0,368.2 L560.6,368.4 L561.3,368.6 L562.0,369.0 L562.7,369.3 L563.3,369.7 L564.0,370.1 L564.7,370.4 L565.4,370.7 L566.0,370.9 L566.7,371.0 L567.4,371.1 L568.0,371.1 L568.7,371.0 L569.4,371.0 L570.1,371.1 L570.7,371.3 L571.4,371.5 L572.1,371.7 L572.8,371.9 L573.4,372.1 L574.1,372.2 L574.8,372.3 L575.5,372.4 L576.1,372.6 L576.8,372.7 L577.5,372.8 L578.2,372.9 L578.8,373.0 L579.5,373.1 L580.2,373.2 L580.9,373.4 L581.5,373.5 L582.2,373.7 L582.9,373.9 L583.5,374.2 L584.2,374.5 L584.9,374.8 L585.6,375.0 L586.2,375.2 L586.9,375.3 L587.6,375.3 L588.3,375.3 L588.9,375.3 L589.6,375.3 L590.3,375.3 L591.0,375.4 L591.6,375.5 L592.3,375.6 L593.0,375.8 L593.7,375.9 L594.3,376.0 L595.0,376.1 L595.7,376.1 L596.4,376.1 L597.0,376.0 L597.7,375.9 L598.4,375.7 L599.1,375.6 L599.7,375.4 L600.4,375.4 L601.1,375.4 L601.7,375.5 L602.4,375.7 L603.1,375.8 L603.8,376.0 L604.4,376.1 L605.1,376.2 L605.8,376.2 L606.5,376.2 L607.1,376.2 L607.8,376.2 L608.5,376.3 L609.2,376.3 L609.8,376.4 L610.5,376.5 L611.2,376.6 L611.9,376.8 L612.5,377.0 L613.2,377.2 L613.9,377.3 L614.6,377.3 L615.2,377.3 L615.9,377.2 L616.6,377.2 L617.2,377.1 L617.9,377.1 L618.6,377.2 L619.3,377.4 L619.9,377.5 L620.6,377.7 L621.3,377.8 L622.0,377.8 L622.6,377.7 L623.3,377.6 L624.0,377.5 L624.7,377.3 L625.3,377.2 L626.0,377.0 L626.7,376.9 L627.4,376.8 L628.0,376.8 L628.7,376.8 L629.4,376.9 L630.1,377.0 L630.7,377.2 L631.4,377.3 L632.1,377.5 L632.7,377.6 L633.4,377.8 L634.1,377.8 L634.8,377.9 L635.4,377.9 L636.1,377.8 L636.8,377.6 L637.5,377.5 L638.1,377.3 L638.8,377.1 L639.5,376.9 L640.2,376.8 L640.8,376.8 L641.5,376.7 L642.2,376.8 L642.9,376.8 L643.5,376.8 L644.2,376.9 L644.9,376.9 L645.6,376.9 L646.2,376.9 L646.9,377.0 L647.6,377.0 L648.2,377.0 L648.9,377.1 L649.6,377.1 L650.3,377.2 L650.9,377.3 L651.6,377.4 L652.3,377.6 L653.0,377.7 L653.6,377.8 L654.3,377.8 L655.0,377.7 L655.7,377.6 L656.3,377.5 L657.0,377.4 L657.7,377.3 L658.4,377.2 L659.0,377.1 L659.7,377.1 L660.4,377.1 L661.1,377.1 L661.7,377.2 L662.4,377.3" fill="none" stroke="rgb(30,18,255)" stroke-width="2.0" stroke-linejoin="round" stroke-linecap="round"/>
<path d="M433.9,379.0 L434.6,381.5 L435.3,383.9 L436.0,386.0 L436.6,387.9 L437.3,389.6 L438.0,391.0 L438.7,392.3 L439.3,393.5 L440.0,394.6 L440.7,395.7 L441.3,396.9 L442.0,398.3 L442.7,399.7 L443.4,401.0 L444.0,401.9 L444.7,402.0 L445.4,400.0 L446.1,396.4 L446.7,392.5 L447.4,387.3 L448.1,381.4 L448.8,376.0 L449.4,371.1 L450.1,366.3 L450.8,361.8 L451.5,357.5 L452.1,353.1 L452.8,348.9 L453.5,344.9 L454.2,341.3 L454.8,338.3 L455.5,335.3 L456.2,332.6 L456.9,330.5 L457.5,329.7 L458.2,330.6 L458.9,332.8 L459.5,335.6 L460.2,338.5 L460.9,341.5 L461.6,345.1 L462.2,349.0 L462.9,352.9 L463.6,356.4 L464.3,359.6 L464.9,362.6 L465.6,365.5 L466.3,368.3 L467.0,371.2 L467.6,373.9 L468.3,376.5 L469.0,379.2 L469.7,382.2 L470.3,385.7 L471.0,389.6 L471.7,393.8 L472.4,398.1 L473.0,402.4 L473.7,406.6 L474.4,411.2 L475.0,415.8 L475.7,420.3 L476.4,424.3 L477.1,427.7 L477.7,430.5 L478.4,433.3 L479.1,435.8 L479.8,437.7 L480.4,438.8 L481.1,438.6 L481.8,437.1 L482.5,434.8 L483.1,432.6 L483.8,430.8 L484.5,429.1 L485.2,427.3 L485.8,425.7 L486.5,424.2 L487.2,423.0 L487.9,422.2 L488.5,421.5 L489.2,421.0 L489.9,420.5 L490.5,420.0 L491.2,419.6 L491.9,419.2 L492.6,418.8 L493.2,418.4 L493.9,418.0 L494.6,417.6 L495.3,417.3 L495.9,416.9 L496.6,416.5 L497.3,416.2 L498.0,415.8 L498.6,415.4 L499.3,414.9 L500.0,414.5 L500.7,414.1 L501.3,413.7 L502.0,413.4 L502.7,413.1 L503.4,412.8 L504.0,412.5 L504.7,412.2 L505.4,412.0 L506.0,411.8 L506.7,411.6 L507.4,411.3 L508.1,411.1 L508.7,410.9 L509.4,410.7 L510.1,410.6 L510.8,410.5 L511.4,410.5 L512.1,410.5 L512.8,410.4 L513.5,410.4 L514.1,410.5 L514.8,410.5 L515.5,410.5 L516.2,410.6 L516.8,410.7 L517.5,410.7 L518.2,410.7 L518.9,410.7 L519.5,410.6 L520.2,410.5 L520.9,410.4 L521.5,410.3 L522.2,410.1 L522.9,410.0 L523.6,409.8 L524.2,409.7 L524.9,409.6 L525.6,409.5 L526.3,409.4 L526.9,409.3 L527.6,409.3 L528.3,409.2 L529.0,409.2 L529.6,409.2 L530.3,409.1 L531.0,409.1 L531.7,409.0 L532.3,409.0 L533.0,408.9 L533.7,408.9 L534.4,408.9 L535.0,409.0 L535.7,409.1 L536.4,409.3 L537.0,409.4 L537.7,409.6 L538.4,409.7 L539.1,409.7 L539.7,409.6 L540.4,409.5 L541.1,409.3 L541.8,409.1 L542.4,409.0 L543.1,409.0 L543.8,409.0 L544.5,409.0 L545.1,409.1 L545.8,409.2 L546.5,409.2 L547.2,409.2 L547.8,409.2 L548.5,409.2 L549.2,409.2 L549.9,409.3 L550.5,409.4 L551.2,409.5 L551.9,409.6 L552.5,409.7 L553.2,409.7 L553.9,409.6 L554.6,409.5 L555.2,409.4 L555.9,409.4 L556.6,409.4 L557.3,409.4 L557.9,409.5 L558.6,409.5 L559.3,409.5 L560.0,409.4 L560.6,409.3 L561.3,409.3 L562.0,409.2 L562.7,409.2 L563.3,409.2 L564.0,409.2 L564.7,409.2 L565.4,409.1 L566.0,409.0 L566.7,408.8 L567.4,408.8 L568.0,408.8 L568.7,408.9 L569.4,409.0 L570.1,409.0 L570.7,409.0 L571.4,408.9 L572.1,408.8 L572.8,408.7 L573.4,408.7 L574.1,408.6 L574.8,408.7 L575.5,408.8 L576.1,408.9 L576.8,409.1 L577.5,409.2 L578.2,409.4 L578.8,409.6 L579.5,409.7 L580.2,409.8 L580.9,409.9 L581.5,409.9 L582.2,409.8 L582.9,409.8 L583.5,409.7 L584.2,409.6 L584.9,409.5 L585.6,409.4 L586.2,409.2 L586.9,409.1 L587.6,408.8 L588.3,408.6 L588.9,408.4 L589.6,408.3 L590.3,408.2 L591.0,408.2 L591.6,408.2 L592.3,408.2 L593.0,408.2 L593.7,408.1 L594.3,408.0 L595.0,407.8 L595.7,407.5 L596.4,407.3 L597.0,407.0 L597.7,406.8 L598.4,406.7 L599.1,406.7 L599.7,406.7 L600.4,406.8 L601.1,406.9 L601.7,407.0 L602.4,407.2 L603.1,407.2 L603.8,407.3 L604.4,407.3 L605.1,407.3 L605.8,407.2 L606.5,407.1 L607.1,406.9 L607.8,406.7 L608.5,406.4 L609.2,406.3 L609.8,406.2 L610.5,406.1 L611.2,406.2 L611.9,406.3 L612.5,406.3 L613.2,406.4 L613.9,406.4 L614.6,406.3 L615.2,406.1 L615.9,405.9 L616.6,405.8 L617.2,405.6 L617.9,405.5 L618.6,405.3 L619.3,405.2 L619.9,405.2 L620.6,405.1 L621.3,405.1 L622.0,405.1 L622.6,405.2 L623.3,405.3 L624.0,405.4 L624.7,405.4 L625.3,405.3 L626.0,405.1 L626.7,404.8 L627.4,404.5 L628.0,404.2 L628.7,404.0 L629.4,403.8 L630.1,403.7 L630.7,403.7 L631.4,403.7 L632.1,403.7 L632.7,403.8 L633.4,403.9 L634.1,403.9 L634.8,404.0 L635.4,404.1 L636.1,404.1 L636.8,404.2 L637.5,404.1 L638.1,404.1 L638.8,404.1 L639.5,404.0 L640.2,404.0 L640.8,404.0 L641.5,404.1 L642.2,404.1 L642.9,404.1 L643.5,404.0 L644.2,403.8 L644.9,403.6 L645.6,403.4 L646.2,403.2 L646.9,403.0 L647.6,402.9 L648.2,402.9 L648.9,403.0 L649.6,403.1 L650.3,403.3 L650.9,403.4 L651.6,403.4 L652.3,403.4 L653.0,403.4 L653.6,403.4 L654.3,403.4 L655.0,403.4 L655.7,403.4 L656.3,403.3 L657.0,403.1 L657.7,402.9 L658.4,402.7 L659.0,402.6 L659.7,402.5 L660.4,402.5 L661.1,402.6 L661.7,402.7 L662.4,402.8" fill="none" stroke="rgb(30,18,255)" stroke-width="2.0" stroke-linejoin="round" stroke-linecap="round"/>
<rect x="434.3" y="288.5" width="228.2" height="182.9" fill="none" stroke="#000" stroke-width="1.9"/>
<line x1="430" y1="288.5" x2="434.5" y2="288.5" stroke="#000" stroke-width="1.8" />
<text transform="translate(427.9,293.1) scale(1.0,1)" font-size="15.4" text-anchor="end" >60</text>
<line x1="430" y1="333.76" x2="434.5" y2="333.76" stroke="#000" stroke-width="1.8" />
<text transform="translate(427.9,338.4) scale(1.0,1)" font-size="15.4" text-anchor="end" >30</text>
<line x1="430" y1="379.75" x2="434.5" y2="379.75" stroke="#000" stroke-width="1.8" />
<text transform="translate(427.9,384.4) scale(1.0,1)" font-size="15.4" text-anchor="end" >0</text>
<line x1="430" y1="425.74" x2="434.5" y2="425.74" stroke="#000" stroke-width="1.8" />
<text transform="translate(427.9,430.3) scale(1.0,1)" font-size="15.4" text-anchor="end" >-30</text>
<line x1="430" y1="471.5" x2="434.5" y2="471.5" stroke="#000" stroke-width="1.8" />
<text transform="translate(427.9,476.1) scale(1.0,1)" font-size="15.4" text-anchor="end" >-60</text>
<line x1="457.5" y1="471.5" x2="457.5" y2="475.5" stroke="#000" stroke-width="1.6" />
<text transform="translate(457.5,489.9) scale(1.0,1)" font-size="15.4" text-anchor="middle" >300</text>
<line x1="491.65" y1="471.5" x2="491.65" y2="474" stroke="#000" stroke-width="1.6" />
<line x1="525.8" y1="471.5" x2="525.8" y2="475.5" stroke="#000" stroke-width="1.6" />
<text transform="translate(525.8,489.9) scale(1.0,1)" font-size="15.4" text-anchor="middle" >400</text>
<line x1="559.95" y1="471.5" x2="559.95" y2="474" stroke="#000" stroke-width="1.6" />
<line x1="594.1" y1="471.5" x2="594.1" y2="475.5" stroke="#000" stroke-width="1.6" />
<text transform="translate(594.1,489.9) scale(1.0,1)" font-size="15.4" text-anchor="middle" >500</text>
<line x1="628.25" y1="471.5" x2="628.25" y2="474" stroke="#000" stroke-width="1.6" />
<line x1="662.4" y1="471.5" x2="662.4" y2="475.5" stroke="#000" stroke-width="1.6" />
<text transform="translate(662.4,489.9) scale(1.0,1)" font-size="15.4" text-anchor="middle" >600</text>
<text transform="translate(550.4,510.3) scale(1.06,1)" font-size="15.0" text-anchor="middle" >Wavelength (nm)</text>
<text transform="translate(398.6,370.3) rotate(-90) scale(1.06,1)" font-size="14.7" text-anchor="middle">CD (mdeg)</text>
<line x1="564" y1="298.8" x2="601" y2="298.8" stroke="rgb(222,22,30)" stroke-width="2" />
<text transform="translate(604.6,303.7) scale(1.02,1)" font-size="15.3" text-anchor="start" >Cycle 2</text>
<line x1="564" y1="318.05" x2="601" y2="318.05" stroke="rgb(118,40,160)" stroke-width="2" />
<text transform="translate(604.6,322.9) scale(1.02,1)" font-size="15.3" text-anchor="start" >Cycle 3</text>
<line x1="564" y1="337.3" x2="601" y2="337.3" stroke="rgb(30,18,255)" stroke-width="2" />
<text transform="translate(604.6,342.2) scale(1.02,1)" font-size="15.3" text-anchor="start" >Cycle 4</text>
</svg>
</body></html>
